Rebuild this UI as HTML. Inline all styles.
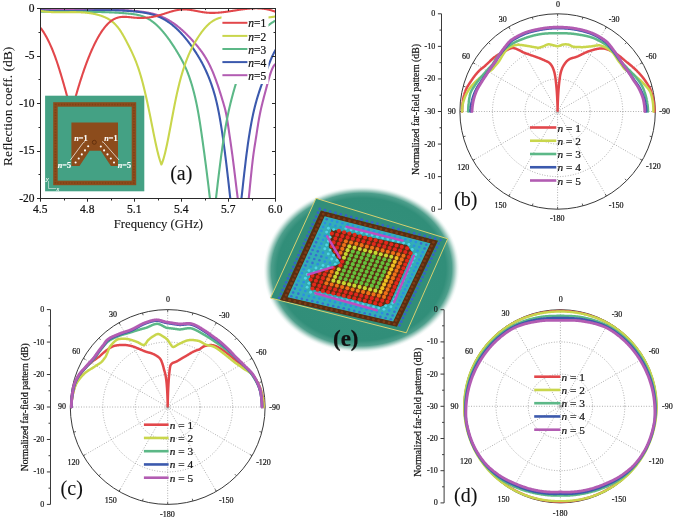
<!DOCTYPE html>
<html><head><meta charset="utf-8"><title>Figure</title>
<style>html,body{margin:0;padding:0;background:#fff;}svg{display:block;}svg text{stroke:#151515;stroke-width:0.22px;}svg .w text{stroke:#fff;stroke-width:0.15px;}svg text.nb{stroke-width:0.08px;}</style>
</head><body>
<svg width="675" height="518" viewBox="0 0 675 518">
<rect width="675" height="518" fill="#fff"/>
<defs><radialGradient id="eg" cx="0.5" cy="0.5" r="0.5"><stop offset="0" stop-color="#34917c"/><stop offset="0.86" stop-color="#318e79"/><stop offset="0.92" stop-color="#3a947f" stop-opacity="0.9"/><stop offset="0.955" stop-color="#5aa592" stop-opacity="0.5"/><stop offset="0.985" stop-color="#8fc4b6" stop-opacity="0.12"/><stop offset="1" stop-color="#8fc4b6" stop-opacity="0"/></radialGradient></defs>
<ellipse cx="361.5" cy="269.5" rx="98.1" ry="83" transform="rotate(-2.3 361.5 269.5)" fill="url(#eg)"/>
<polygon points="316,198.3 447.7,238.8 406.3,332.8 270.5,298" fill="#318e79" stroke="#d8d070" stroke-width="1"/>
<path d="M324.26,215.59 L431.26,243.05 L393.58,322.08 L286.72,297.55 Z" fill="#34aeb8"/>
<path d="M320.92,210.59 L438,240.78 L396.9,326.8 L280,300.1 Z M324.68,216.22 L287.56,297.23 L393.16,321.48 L430.42,243.34 Z" fill="#5a2c10" fill-rule="evenodd"/>
<polygon points="327.3,224.89 323.96,247.81 334.41,261.87 305.13,272.26 306.4,291.3 380.94,310.25 393.75,305.66 417.5,252.61 410.33,242.13 327.3,224.89" fill="#2eaab4"/>
<polygon points="331.34,229.27 407.09,244.92 412.5,252.83 389.92,303.34 380.67,306.66 310.89,288.85 309.92,274.31 340.83,263.38 328.74,247.12" fill="#5a2c12"/>
<circle cx="319.74" cy="208.81" r="1.35" fill="#3462c8"/>
<circle cx="317.97" cy="212.68" r="1.35" fill="#3462c8"/>
<circle cx="316.21" cy="216.55" r="1.35" fill="#3462c8"/>
<circle cx="314.44" cy="220.42" r="1.35" fill="#3462c8"/>
<circle cx="312.67" cy="224.28" r="1.35" fill="#3462c8"/>
<circle cx="310.91" cy="228.15" r="1.35" fill="#3462c8"/>
<circle cx="309.14" cy="232.02" r="1.35" fill="#3462c8"/>
<circle cx="307.37" cy="235.89" r="1.35" fill="#3462c8"/>
<circle cx="305.6" cy="239.75" r="1.35" fill="#3462c8"/>
<circle cx="303.84" cy="243.62" r="1.35" fill="#3462c8"/>
<circle cx="302.07" cy="247.49" r="1.35" fill="#3462c8"/>
<circle cx="300.3" cy="251.35" r="1.35" fill="#3462c8"/>
<circle cx="298.54" cy="255.22" r="1.35" fill="#3462c8"/>
<circle cx="296.77" cy="259.09" r="1.35" fill="#3462c8"/>
<circle cx="295" cy="262.96" r="1.35" fill="#3462c8"/>
<circle cx="293.24" cy="266.82" r="1.35" fill="#3462c8"/>
<circle cx="291.47" cy="270.69" r="1.35" fill="#3462c8"/>
<circle cx="289.7" cy="274.56" r="1.35" fill="#3462c8"/>
<circle cx="287.94" cy="278.43" r="1.35" fill="#3462c8"/>
<circle cx="286.17" cy="282.29" r="1.35" fill="#3462c8"/>
<circle cx="284.4" cy="286.16" r="1.35" fill="#3462c8"/>
<circle cx="282.64" cy="290.03" r="1.35" fill="#3462c8"/>
<circle cx="280.87" cy="293.9" r="1.35" fill="#3462c8"/>
<circle cx="279.1" cy="297.76" r="1.35" fill="#3462c8"/>
<circle cx="324.99" cy="210.17" r="1.35" fill="#3462c8"/>
<circle cx="323.22" cy="214.03" r="1.4" fill="#7a3c16"/>
<circle cx="321.45" cy="217.89" r="1.4" fill="#7a3c16"/>
<circle cx="319.68" cy="221.75" r="1.4" fill="#7a3c16"/>
<circle cx="317.92" cy="225.61" r="1.4" fill="#7a3c16"/>
<circle cx="316.15" cy="229.47" r="1.4" fill="#7a3c16"/>
<circle cx="314.38" cy="233.33" r="1.4" fill="#7a3c16"/>
<circle cx="312.61" cy="237.19" r="1.4" fill="#7a3c16"/>
<circle cx="310.85" cy="241.05" r="1.4" fill="#7a3c16"/>
<circle cx="309.08" cy="244.91" r="1.4" fill="#7a3c16"/>
<circle cx="307.31" cy="248.77" r="1.4" fill="#7a3c16"/>
<circle cx="305.55" cy="252.64" r="1.4" fill="#7a3c16"/>
<circle cx="303.78" cy="256.5" r="1.4" fill="#7a3c16"/>
<circle cx="302.01" cy="260.36" r="1.4" fill="#7a3c16"/>
<circle cx="300.24" cy="264.22" r="1.4" fill="#7a3c16"/>
<circle cx="298.48" cy="268.08" r="1.4" fill="#7a3c16"/>
<circle cx="296.71" cy="271.94" r="1.4" fill="#7a3c16"/>
<circle cx="294.94" cy="275.8" r="1.4" fill="#7a3c16"/>
<circle cx="293.18" cy="279.66" r="1.4" fill="#7a3c16"/>
<circle cx="291.41" cy="283.52" r="1.4" fill="#7a3c16"/>
<circle cx="289.64" cy="287.38" r="1.4" fill="#7a3c16"/>
<circle cx="287.87" cy="291.24" r="1.4" fill="#7a3c16"/>
<circle cx="286.11" cy="295.1" r="1.4" fill="#7a3c16"/>
<circle cx="284.34" cy="298.96" r="1.4" fill="#7a3c16"/>
<circle cx="330.23" cy="211.52" r="1.35" fill="#3462c8"/>
<circle cx="328.46" cy="215.38" r="1.4" fill="#7a3c16"/>
<circle cx="326.7" cy="219.23" r="1.3" fill="#3570d0"/>
<circle cx="324.93" cy="223.08" r="1.35" fill="#2c8ee0"/>
<circle cx="323.16" cy="226.94" r="1.35" fill="#2c8ee0"/>
<circle cx="321.39" cy="230.79" r="1.35" fill="#2c8ee0"/>
<circle cx="319.63" cy="234.65" r="1.35" fill="#2c8ee0"/>
<circle cx="317.86" cy="238.5" r="1.3" fill="#3570d0"/>
<circle cx="316.09" cy="242.35" r="1.3" fill="#3570d0"/>
<circle cx="314.32" cy="246.21" r="1.3" fill="#3570d0"/>
<circle cx="312.56" cy="250.06" r="1.3" fill="#3570d0"/>
<circle cx="310.79" cy="253.92" r="1.3" fill="#3570d0"/>
<circle cx="309.02" cy="257.77" r="1.3" fill="#3570d0"/>
<circle cx="307.25" cy="261.62" r="1.3" fill="#3570d0"/>
<circle cx="305.49" cy="265.48" r="1.3" fill="#3570d0"/>
<circle cx="303.72" cy="269.33" r="1.35" fill="#2c8ee0"/>
<circle cx="301.95" cy="273.19" r="1.35" fill="#2c8ee0"/>
<circle cx="300.18" cy="277.04" r="1.35" fill="#2c8ee0"/>
<circle cx="298.42" cy="280.89" r="1.35" fill="#2c8ee0"/>
<circle cx="296.65" cy="284.75" r="1.3" fill="#3570d0"/>
<circle cx="294.88" cy="288.6" r="1.3" fill="#3570d0"/>
<circle cx="293.11" cy="292.45" r="1.3" fill="#3570d0"/>
<circle cx="291.35" cy="296.31" r="1.3" fill="#3570d0"/>
<circle cx="289.58" cy="300.16" r="1.4" fill="#7a3c16"/>
<circle cx="335.48" cy="212.88" r="1.35" fill="#3462c8"/>
<circle cx="333.71" cy="216.72" r="1.4" fill="#7a3c16"/>
<circle cx="331.94" cy="220.57" r="1.35" fill="#2c8ee0"/>
<circle cx="330.17" cy="224.42" r="1.35" fill="#2c8ee0"/>
<circle cx="328.4" cy="228.27" r="1.45" fill="#50d4e8"/>
<circle cx="326.64" cy="232.11" r="1.45" fill="#50d4e8"/>
<circle cx="324.87" cy="235.96" r="1.35" fill="#2c8ee0"/>
<circle cx="323.1" cy="239.81" r="1.35" fill="#2c8ee0"/>
<circle cx="321.33" cy="243.65" r="1.35" fill="#2c8ee0"/>
<circle cx="319.57" cy="247.5" r="1.35" fill="#2c8ee0"/>
<circle cx="317.8" cy="251.35" r="1.3" fill="#3570d0"/>
<circle cx="316.03" cy="255.2" r="1.3" fill="#3570d0"/>
<circle cx="314.26" cy="259.04" r="1.3" fill="#3570d0"/>
<circle cx="312.49" cy="262.89" r="1.3" fill="#3570d0"/>
<circle cx="310.73" cy="266.74" r="1.35" fill="#2c8ee0"/>
<circle cx="308.96" cy="270.58" r="1.45" fill="#50d4e8"/>
<circle cx="307.19" cy="274.43" r="1.45" fill="#50d4e8"/>
<circle cx="305.42" cy="278.28" r="1.45" fill="#50d4e8"/>
<circle cx="303.65" cy="282.13" r="1.35" fill="#2c8ee0"/>
<circle cx="301.89" cy="285.97" r="1.35" fill="#2c8ee0"/>
<circle cx="300.12" cy="289.82" r="1.35" fill="#2c8ee0"/>
<circle cx="298.35" cy="293.67" r="1.3" fill="#3570d0"/>
<circle cx="296.58" cy="297.51" r="1.3" fill="#3570d0"/>
<circle cx="294.82" cy="301.36" r="1.4" fill="#7a3c16"/>
<circle cx="340.72" cy="214.23" r="1.35" fill="#3462c8"/>
<circle cx="338.95" cy="218.07" r="1.4" fill="#7a3c16"/>
<circle cx="337.19" cy="221.91" r="1.35" fill="#2c8ee0"/>
<circle cx="335.42" cy="225.75" r="1.35" fill="#2c8ee0"/>
<circle cx="333.65" cy="229.59" r="1.45" fill="#50d4e8"/>
<circle cx="331.88" cy="233.43" r="2.05" fill="#e2281c"/>
<circle cx="330.11" cy="237.27" r="1.45" fill="#50d4e8"/>
<circle cx="328.34" cy="241.12" r="1.45" fill="#50d4e8"/>
<circle cx="326.58" cy="244.96" r="1.45" fill="#50d4e8"/>
<circle cx="324.81" cy="248.8" r="1.45" fill="#50d4e8"/>
<circle cx="323.04" cy="252.64" r="1.35" fill="#2c8ee0"/>
<circle cx="321.27" cy="256.48" r="1.3" fill="#3570d0"/>
<circle cx="319.5" cy="260.32" r="1.3" fill="#3570d0"/>
<circle cx="317.74" cy="264.16" r="1.35" fill="#2c8ee0"/>
<circle cx="315.97" cy="268" r="1.45" fill="#50d4e8"/>
<circle cx="314.2" cy="271.84" r="1.45" fill="#50d4e8"/>
<circle cx="312.43" cy="275.68" r="2.05" fill="#e2281c"/>
<circle cx="310.66" cy="279.52" r="2.05" fill="#e2281c"/>
<circle cx="308.89" cy="283.36" r="1.45" fill="#50d4e8"/>
<circle cx="307.13" cy="287.2" r="1.45" fill="#50d4e8"/>
<circle cx="305.36" cy="291.04" r="1.35" fill="#2c8ee0"/>
<circle cx="303.59" cy="294.88" r="1.35" fill="#2c8ee0"/>
<circle cx="301.82" cy="298.72" r="1.3" fill="#3570d0"/>
<circle cx="300.05" cy="302.56" r="1.4" fill="#7a3c16"/>
<circle cx="345.97" cy="215.59" r="1.35" fill="#3462c8"/>
<circle cx="344.2" cy="219.42" r="1.4" fill="#7a3c16"/>
<circle cx="342.43" cy="223.25" r="1.35" fill="#2c8ee0"/>
<circle cx="340.66" cy="227.09" r="1.35" fill="#2c8ee0"/>
<circle cx="338.89" cy="230.92" r="2.05" fill="#e2281c"/>
<circle cx="337.12" cy="234.76" r="2.05" fill="#e2281c"/>
<circle cx="335.36" cy="238.59" r="2.05" fill="#e2281c"/>
<circle cx="333.59" cy="242.42" r="2.05" fill="#e2281c"/>
<circle cx="331.82" cy="246.26" r="2.05" fill="#e2281c"/>
<circle cx="330.05" cy="250.09" r="1.45" fill="#50d4e8"/>
<circle cx="328.28" cy="253.92" r="1.45" fill="#50d4e8"/>
<circle cx="326.51" cy="257.76" r="1.35" fill="#2c8ee0"/>
<circle cx="324.74" cy="261.59" r="1.35" fill="#2c8ee0"/>
<circle cx="322.98" cy="265.42" r="1.45" fill="#50d4e8"/>
<circle cx="321.21" cy="269.26" r="1.45" fill="#50d4e8"/>
<circle cx="319.44" cy="273.09" r="2.05" fill="#e2281c"/>
<circle cx="317.67" cy="276.93" r="2.05" fill="#e2281c"/>
<circle cx="315.9" cy="280.76" r="2.05" fill="#e2281c"/>
<circle cx="314.13" cy="284.59" r="2.05" fill="#e2281c"/>
<circle cx="312.36" cy="288.43" r="2.05" fill="#e2281c"/>
<circle cx="310.6" cy="292.26" r="1.45" fill="#50d4e8"/>
<circle cx="308.83" cy="296.09" r="1.35" fill="#2c8ee0"/>
<circle cx="307.06" cy="299.93" r="1.3" fill="#3570d0"/>
<circle cx="305.29" cy="303.76" r="1.4" fill="#7a3c16"/>
<circle cx="351.21" cy="216.94" r="1.35" fill="#3462c8"/>
<circle cx="349.44" cy="220.77" r="1.4" fill="#7a3c16"/>
<circle cx="347.68" cy="224.6" r="1.35" fill="#2c8ee0"/>
<circle cx="345.91" cy="228.42" r="1.45" fill="#50d4e8"/>
<circle cx="344.14" cy="232.25" r="2.05" fill="#e2281c"/>
<circle cx="342.37" cy="236.08" r="2.05" fill="#e2281c"/>
<circle cx="340.6" cy="239.9" r="2.05" fill="#e2281c"/>
<circle cx="338.83" cy="243.73" r="2.05" fill="#e2281c"/>
<circle cx="337.06" cy="247.56" r="2.05" fill="#e2281c"/>
<circle cx="335.29" cy="251.38" r="2.05" fill="#e2281c"/>
<circle cx="333.52" cy="255.21" r="1.45" fill="#50d4e8"/>
<circle cx="331.76" cy="259.04" r="1.45" fill="#50d4e8"/>
<circle cx="329.99" cy="262.86" r="1.35" fill="#2c8ee0"/>
<circle cx="328.22" cy="266.69" r="1.45" fill="#50d4e8"/>
<circle cx="326.45" cy="270.52" r="2.05" fill="#e2281c"/>
<circle cx="324.68" cy="274.34" r="2.05" fill="#e2281c"/>
<circle cx="322.91" cy="278.17" r="2.05" fill="#e2281c"/>
<circle cx="321.14" cy="282" r="2.05" fill="#e2281c"/>
<circle cx="319.37" cy="285.83" r="2.05" fill="#e2281c"/>
<circle cx="317.6" cy="289.65" r="2.05" fill="#e2281c"/>
<circle cx="315.83" cy="293.48" r="1.45" fill="#50d4e8"/>
<circle cx="314.07" cy="297.31" r="1.35" fill="#2c8ee0"/>
<circle cx="312.3" cy="301.13" r="1.3" fill="#3570d0"/>
<circle cx="310.53" cy="304.96" r="1.4" fill="#7a3c16"/>
<circle cx="356.46" cy="218.3" r="1.35" fill="#3462c8"/>
<circle cx="354.69" cy="222.12" r="1.4" fill="#7a3c16"/>
<circle cx="352.92" cy="225.94" r="1.35" fill="#2c8ee0"/>
<circle cx="351.15" cy="229.76" r="1.45" fill="#50d4e8"/>
<circle cx="349.38" cy="233.58" r="2.05" fill="#e2281c"/>
<circle cx="347.61" cy="237.4" r="2.05" fill="#e2281c"/>
<circle cx="345.84" cy="241.22" r="2.05" fill="#f07018"/>
<circle cx="344.07" cy="245.04" r="2.05" fill="#f07018"/>
<circle cx="342.3" cy="248.86" r="2.05" fill="#f07018"/>
<circle cx="340.54" cy="252.68" r="2.05" fill="#f07018"/>
<circle cx="338.77" cy="256.5" r="2.05" fill="#e2281c"/>
<circle cx="337" cy="260.32" r="1.45" fill="#50d4e8"/>
<circle cx="335.23" cy="264.14" r="1.45" fill="#50d4e8"/>
<circle cx="333.46" cy="267.96" r="2.05" fill="#e2281c"/>
<circle cx="331.69" cy="271.78" r="2.05" fill="#f07018"/>
<circle cx="329.92" cy="275.6" r="2.05" fill="#f07018"/>
<circle cx="328.15" cy="279.42" r="2.05" fill="#f07018"/>
<circle cx="326.38" cy="283.24" r="2.05" fill="#f07018"/>
<circle cx="324.61" cy="287.06" r="2.05" fill="#e2281c"/>
<circle cx="322.84" cy="290.88" r="2.05" fill="#e2281c"/>
<circle cx="321.07" cy="294.7" r="1.45" fill="#50d4e8"/>
<circle cx="319.3" cy="298.52" r="1.35" fill="#2c8ee0"/>
<circle cx="317.54" cy="302.34" r="1.3" fill="#3570d0"/>
<circle cx="315.77" cy="306.16" r="1.4" fill="#7a3c16"/>
<circle cx="361.7" cy="219.65" r="1.35" fill="#3462c8"/>
<circle cx="359.94" cy="223.47" r="1.4" fill="#7a3c16"/>
<circle cx="358.17" cy="227.28" r="1.35" fill="#2c8ee0"/>
<circle cx="356.4" cy="231.09" r="1.45" fill="#50d4e8"/>
<circle cx="354.63" cy="234.91" r="2.05" fill="#e2281c"/>
<circle cx="352.86" cy="238.72" r="2.05" fill="#e2281c"/>
<circle cx="351.09" cy="242.53" r="2.05" fill="#f07018"/>
<circle cx="349.32" cy="246.35" r="2.05" fill="#c8d830"/>
<circle cx="347.55" cy="250.16" r="2.05" fill="#c8d830"/>
<circle cx="345.78" cy="253.97" r="2.05" fill="#c8d830"/>
<circle cx="344.01" cy="257.79" r="2.05" fill="#c8d830"/>
<circle cx="342.24" cy="261.6" r="2.05" fill="#e2281c"/>
<circle cx="340.47" cy="265.41" r="2.05" fill="#e2281c"/>
<circle cx="338.7" cy="269.23" r="2.05" fill="#c8d830"/>
<circle cx="336.93" cy="273.04" r="2.05" fill="#c8d830"/>
<circle cx="335.16" cy="276.85" r="2.05" fill="#c8d830"/>
<circle cx="333.39" cy="280.66" r="2.05" fill="#c8d830"/>
<circle cx="331.62" cy="284.48" r="2.05" fill="#f07018"/>
<circle cx="329.85" cy="288.29" r="2.05" fill="#e2281c"/>
<circle cx="328.08" cy="292.1" r="2.05" fill="#e2281c"/>
<circle cx="326.31" cy="295.92" r="1.45" fill="#50d4e8"/>
<circle cx="324.54" cy="299.73" r="1.35" fill="#2c8ee0"/>
<circle cx="322.77" cy="303.54" r="1.3" fill="#3570d0"/>
<circle cx="321" cy="307.36" r="1.4" fill="#7a3c16"/>
<circle cx="366.95" cy="221.01" r="1.35" fill="#3462c8"/>
<circle cx="365.18" cy="224.81" r="1.4" fill="#7a3c16"/>
<circle cx="363.41" cy="228.62" r="1.35" fill="#2c8ee0"/>
<circle cx="361.64" cy="232.43" r="1.45" fill="#50d4e8"/>
<circle cx="359.87" cy="236.23" r="2.05" fill="#e2281c"/>
<circle cx="358.1" cy="240.04" r="2.05" fill="#e2281c"/>
<circle cx="356.33" cy="243.85" r="2.05" fill="#f07018"/>
<circle cx="354.56" cy="247.65" r="2.05" fill="#c8d830"/>
<circle cx="352.79" cy="251.46" r="2.05" fill="#66c03c"/>
<circle cx="351.02" cy="255.27" r="2.05" fill="#66c03c"/>
<circle cx="349.25" cy="259.07" r="2.05" fill="#66c03c"/>
<circle cx="347.48" cy="262.88" r="2.05" fill="#66c03c"/>
<circle cx="345.71" cy="266.69" r="2.05" fill="#66c03c"/>
<circle cx="343.94" cy="270.49" r="2.05" fill="#66c03c"/>
<circle cx="342.17" cy="274.3" r="2.05" fill="#66c03c"/>
<circle cx="340.4" cy="278.11" r="2.05" fill="#66c03c"/>
<circle cx="338.63" cy="281.91" r="2.05" fill="#c8d830"/>
<circle cx="336.86" cy="285.72" r="2.05" fill="#f07018"/>
<circle cx="335.09" cy="289.52" r="2.05" fill="#e2281c"/>
<circle cx="333.32" cy="293.33" r="2.05" fill="#e2281c"/>
<circle cx="331.55" cy="297.14" r="1.45" fill="#50d4e8"/>
<circle cx="329.78" cy="300.94" r="1.35" fill="#2c8ee0"/>
<circle cx="328.01" cy="304.75" r="1.3" fill="#3570d0"/>
<circle cx="326.24" cy="308.56" r="1.4" fill="#7a3c16"/>
<circle cx="372.2" cy="222.36" r="1.35" fill="#3462c8"/>
<circle cx="370.43" cy="226.16" r="1.4" fill="#7a3c16"/>
<circle cx="368.66" cy="229.96" r="1.35" fill="#2c8ee0"/>
<circle cx="366.89" cy="233.76" r="1.45" fill="#50d4e8"/>
<circle cx="365.11" cy="237.56" r="2.05" fill="#e2281c"/>
<circle cx="363.34" cy="241.36" r="2.05" fill="#e2281c"/>
<circle cx="361.57" cy="245.16" r="2.05" fill="#f07018"/>
<circle cx="359.8" cy="248.96" r="2.05" fill="#c8d830"/>
<circle cx="358.03" cy="252.76" r="2.05" fill="#66c03c"/>
<circle cx="356.26" cy="256.56" r="2.05" fill="#66c03c"/>
<circle cx="354.49" cy="260.36" r="2.05" fill="#66c03c"/>
<circle cx="352.72" cy="264.16" r="2.05" fill="#66c03c"/>
<circle cx="350.95" cy="267.96" r="2.05" fill="#66c03c"/>
<circle cx="349.18" cy="271.76" r="2.05" fill="#66c03c"/>
<circle cx="347.41" cy="275.56" r="2.05" fill="#66c03c"/>
<circle cx="345.64" cy="279.36" r="2.05" fill="#66c03c"/>
<circle cx="343.87" cy="283.16" r="2.05" fill="#c8d830"/>
<circle cx="342.1" cy="286.96" r="2.05" fill="#f07018"/>
<circle cx="340.33" cy="290.76" r="2.05" fill="#e2281c"/>
<circle cx="338.56" cy="294.56" r="2.05" fill="#e2281c"/>
<circle cx="336.79" cy="298.36" r="1.45" fill="#50d4e8"/>
<circle cx="335.02" cy="302.16" r="1.35" fill="#2c8ee0"/>
<circle cx="333.25" cy="305.96" r="1.3" fill="#3570d0"/>
<circle cx="331.48" cy="309.76" r="1.4" fill="#7a3c16"/>
<circle cx="377.44" cy="223.72" r="1.35" fill="#3462c8"/>
<circle cx="375.67" cy="227.51" r="1.4" fill="#7a3c16"/>
<circle cx="373.9" cy="231.3" r="1.35" fill="#2c8ee0"/>
<circle cx="372.13" cy="235.1" r="1.45" fill="#50d4e8"/>
<circle cx="370.36" cy="238.89" r="2.05" fill="#e2281c"/>
<circle cx="368.59" cy="242.68" r="2.05" fill="#e2281c"/>
<circle cx="366.82" cy="246.48" r="2.05" fill="#f07018"/>
<circle cx="365.05" cy="250.27" r="2.05" fill="#c8d830"/>
<circle cx="363.28" cy="254.06" r="2.05" fill="#66c03c"/>
<circle cx="361.51" cy="257.85" r="2.05" fill="#66c03c"/>
<circle cx="359.74" cy="261.65" r="2.05" fill="#66c03c"/>
<circle cx="357.96" cy="265.44" r="2.05" fill="#66c03c"/>
<circle cx="356.19" cy="269.23" r="2.05" fill="#66c03c"/>
<circle cx="354.42" cy="273.03" r="2.05" fill="#66c03c"/>
<circle cx="352.65" cy="276.82" r="2.05" fill="#66c03c"/>
<circle cx="350.88" cy="280.61" r="2.05" fill="#66c03c"/>
<circle cx="349.11" cy="284.4" r="2.05" fill="#c8d830"/>
<circle cx="347.34" cy="288.2" r="2.05" fill="#f07018"/>
<circle cx="345.57" cy="291.99" r="2.05" fill="#e2281c"/>
<circle cx="343.8" cy="295.78" r="2.05" fill="#e2281c"/>
<circle cx="342.03" cy="299.58" r="1.45" fill="#50d4e8"/>
<circle cx="340.26" cy="303.37" r="1.35" fill="#2c8ee0"/>
<circle cx="338.49" cy="307.16" r="1.3" fill="#3570d0"/>
<circle cx="336.72" cy="310.96" r="1.4" fill="#7a3c16"/>
<circle cx="382.69" cy="225.07" r="1.35" fill="#3462c8"/>
<circle cx="380.92" cy="228.86" r="1.4" fill="#7a3c16"/>
<circle cx="379.15" cy="232.64" r="1.35" fill="#2c8ee0"/>
<circle cx="377.37" cy="236.43" r="1.45" fill="#50d4e8"/>
<circle cx="375.6" cy="240.22" r="2.05" fill="#e2281c"/>
<circle cx="373.83" cy="244" r="2.05" fill="#e2281c"/>
<circle cx="372.06" cy="247.79" r="2.05" fill="#f07018"/>
<circle cx="370.29" cy="251.58" r="2.05" fill="#c8d830"/>
<circle cx="368.52" cy="255.36" r="2.05" fill="#66c03c"/>
<circle cx="366.75" cy="259.15" r="2.05" fill="#66c03c"/>
<circle cx="364.98" cy="262.93" r="2.05" fill="#66c03c"/>
<circle cx="363.21" cy="266.72" r="2.05" fill="#66c03c"/>
<circle cx="361.44" cy="270.51" r="2.05" fill="#66c03c"/>
<circle cx="359.66" cy="274.29" r="2.05" fill="#66c03c"/>
<circle cx="357.89" cy="278.08" r="2.05" fill="#66c03c"/>
<circle cx="356.12" cy="281.87" r="2.05" fill="#66c03c"/>
<circle cx="354.35" cy="285.65" r="2.05" fill="#c8d830"/>
<circle cx="352.58" cy="289.44" r="2.05" fill="#f07018"/>
<circle cx="350.81" cy="293.22" r="2.05" fill="#e2281c"/>
<circle cx="349.04" cy="297.01" r="2.05" fill="#e2281c"/>
<circle cx="347.27" cy="300.8" r="1.45" fill="#50d4e8"/>
<circle cx="345.5" cy="304.58" r="1.35" fill="#2c8ee0"/>
<circle cx="343.73" cy="308.37" r="1.3" fill="#3570d0"/>
<circle cx="341.95" cy="312.15" r="1.4" fill="#7a3c16"/>
<circle cx="387.93" cy="226.43" r="1.35" fill="#3462c8"/>
<circle cx="386.16" cy="230.21" r="1.4" fill="#7a3c16"/>
<circle cx="384.39" cy="233.99" r="1.35" fill="#2c8ee0"/>
<circle cx="382.62" cy="237.77" r="1.45" fill="#50d4e8"/>
<circle cx="380.85" cy="241.54" r="2.05" fill="#e2281c"/>
<circle cx="379.08" cy="245.32" r="2.05" fill="#e2281c"/>
<circle cx="377.3" cy="249.1" r="2.05" fill="#f07018"/>
<circle cx="375.53" cy="252.88" r="2.05" fill="#c8d830"/>
<circle cx="373.76" cy="256.66" r="2.05" fill="#66c03c"/>
<circle cx="371.99" cy="260.44" r="2.05" fill="#66c03c"/>
<circle cx="370.22" cy="264.22" r="2.05" fill="#66c03c"/>
<circle cx="368.45" cy="268" r="2.05" fill="#66c03c"/>
<circle cx="366.68" cy="271.78" r="2.05" fill="#66c03c"/>
<circle cx="364.91" cy="275.56" r="2.05" fill="#66c03c"/>
<circle cx="363.13" cy="279.34" r="2.05" fill="#66c03c"/>
<circle cx="361.36" cy="283.12" r="2.05" fill="#66c03c"/>
<circle cx="359.59" cy="286.9" r="2.05" fill="#c8d830"/>
<circle cx="357.82" cy="290.68" r="2.05" fill="#f07018"/>
<circle cx="356.05" cy="294.46" r="2.05" fill="#e2281c"/>
<circle cx="354.28" cy="298.24" r="2.05" fill="#e2281c"/>
<circle cx="352.51" cy="302.02" r="1.45" fill="#50d4e8"/>
<circle cx="350.73" cy="305.8" r="1.35" fill="#2c8ee0"/>
<circle cx="348.96" cy="309.57" r="1.3" fill="#3570d0"/>
<circle cx="347.19" cy="313.35" r="1.4" fill="#7a3c16"/>
<circle cx="393.18" cy="227.78" r="1.35" fill="#3462c8"/>
<circle cx="391.41" cy="231.55" r="1.4" fill="#7a3c16"/>
<circle cx="389.64" cy="235.33" r="1.35" fill="#2c8ee0"/>
<circle cx="387.86" cy="239.1" r="1.45" fill="#50d4e8"/>
<circle cx="386.09" cy="242.87" r="2.05" fill="#e2281c"/>
<circle cx="384.32" cy="246.65" r="2.05" fill="#e2281c"/>
<circle cx="382.55" cy="250.42" r="2.05" fill="#f07018"/>
<circle cx="380.78" cy="254.19" r="2.05" fill="#c8d830"/>
<circle cx="379.01" cy="257.96" r="2.05" fill="#66c03c"/>
<circle cx="377.23" cy="261.74" r="2.05" fill="#66c03c"/>
<circle cx="375.46" cy="265.51" r="2.05" fill="#66c03c"/>
<circle cx="373.69" cy="269.28" r="2.05" fill="#66c03c"/>
<circle cx="371.92" cy="273.05" r="2.05" fill="#66c03c"/>
<circle cx="370.15" cy="276.83" r="2.05" fill="#66c03c"/>
<circle cx="368.37" cy="280.6" r="2.05" fill="#66c03c"/>
<circle cx="366.6" cy="284.37" r="2.05" fill="#66c03c"/>
<circle cx="364.83" cy="288.14" r="2.05" fill="#c8d830"/>
<circle cx="363.06" cy="291.92" r="2.05" fill="#f07018"/>
<circle cx="361.29" cy="295.69" r="2.05" fill="#e2281c"/>
<circle cx="359.52" cy="299.46" r="2.05" fill="#e2281c"/>
<circle cx="357.74" cy="303.24" r="1.45" fill="#50d4e8"/>
<circle cx="355.97" cy="307.01" r="1.35" fill="#2c8ee0"/>
<circle cx="354.2" cy="310.78" r="1.3" fill="#3570d0"/>
<circle cx="352.43" cy="314.55" r="1.4" fill="#7a3c16"/>
<circle cx="398.42" cy="229.14" r="1.35" fill="#3462c8"/>
<circle cx="396.65" cy="232.9" r="1.4" fill="#7a3c16"/>
<circle cx="394.88" cy="236.67" r="1.35" fill="#2c8ee0"/>
<circle cx="393.11" cy="240.43" r="1.45" fill="#50d4e8"/>
<circle cx="391.34" cy="244.2" r="2.05" fill="#e2281c"/>
<circle cx="389.56" cy="247.97" r="2.05" fill="#e2281c"/>
<circle cx="387.79" cy="251.73" r="2.05" fill="#f07018"/>
<circle cx="386.02" cy="255.5" r="2.05" fill="#c8d830"/>
<circle cx="384.25" cy="259.26" r="2.05" fill="#66c03c"/>
<circle cx="382.48" cy="263.03" r="2.05" fill="#66c03c"/>
<circle cx="380.7" cy="266.8" r="2.05" fill="#66c03c"/>
<circle cx="378.93" cy="270.56" r="2.05" fill="#66c03c"/>
<circle cx="377.16" cy="274.33" r="2.05" fill="#66c03c"/>
<circle cx="375.39" cy="278.09" r="2.05" fill="#66c03c"/>
<circle cx="373.62" cy="281.86" r="2.05" fill="#66c03c"/>
<circle cx="371.84" cy="285.63" r="2.05" fill="#66c03c"/>
<circle cx="370.07" cy="289.39" r="2.05" fill="#c8d830"/>
<circle cx="368.3" cy="293.16" r="2.05" fill="#f07018"/>
<circle cx="366.53" cy="296.92" r="2.05" fill="#e2281c"/>
<circle cx="364.76" cy="300.69" r="2.05" fill="#e2281c"/>
<circle cx="362.98" cy="304.45" r="1.45" fill="#50d4e8"/>
<circle cx="361.21" cy="308.22" r="1.35" fill="#2c8ee0"/>
<circle cx="359.44" cy="311.99" r="1.3" fill="#3570d0"/>
<circle cx="357.67" cy="315.75" r="1.4" fill="#7a3c16"/>
<circle cx="403.67" cy="230.49" r="1.35" fill="#3462c8"/>
<circle cx="401.9" cy="234.25" r="1.4" fill="#7a3c16"/>
<circle cx="400.13" cy="238.01" r="1.35" fill="#2c8ee0"/>
<circle cx="398.35" cy="241.77" r="1.45" fill="#50d4e8"/>
<circle cx="396.58" cy="245.53" r="2.05" fill="#e2281c"/>
<circle cx="394.81" cy="249.29" r="2.05" fill="#e2281c"/>
<circle cx="393.04" cy="253.05" r="2.05" fill="#f07018"/>
<circle cx="391.26" cy="256.81" r="2.05" fill="#c8d830"/>
<circle cx="389.49" cy="260.56" r="2.05" fill="#66c03c"/>
<circle cx="387.72" cy="264.32" r="2.05" fill="#66c03c"/>
<circle cx="385.95" cy="268.08" r="2.05" fill="#66c03c"/>
<circle cx="384.17" cy="271.84" r="2.05" fill="#66c03c"/>
<circle cx="382.4" cy="275.6" r="2.05" fill="#66c03c"/>
<circle cx="380.63" cy="279.36" r="2.05" fill="#66c03c"/>
<circle cx="378.86" cy="283.12" r="2.05" fill="#66c03c"/>
<circle cx="377.08" cy="286.88" r="2.05" fill="#66c03c"/>
<circle cx="375.31" cy="290.64" r="2.05" fill="#c8d830"/>
<circle cx="373.54" cy="294.4" r="2.05" fill="#f07018"/>
<circle cx="371.77" cy="298.16" r="2.05" fill="#e2281c"/>
<circle cx="369.99" cy="301.92" r="2.05" fill="#e2281c"/>
<circle cx="368.22" cy="305.67" r="1.45" fill="#50d4e8"/>
<circle cx="366.45" cy="309.43" r="1.35" fill="#2c8ee0"/>
<circle cx="364.68" cy="313.19" r="1.3" fill="#3570d0"/>
<circle cx="362.9" cy="316.95" r="1.4" fill="#7a3c16"/>
<circle cx="408.92" cy="231.85" r="1.35" fill="#3462c8"/>
<circle cx="407.14" cy="235.6" r="1.4" fill="#7a3c16"/>
<circle cx="405.37" cy="239.35" r="1.35" fill="#2c8ee0"/>
<circle cx="403.6" cy="243.1" r="1.45" fill="#50d4e8"/>
<circle cx="401.82" cy="246.86" r="2.05" fill="#e2281c"/>
<circle cx="400.05" cy="250.61" r="2.05" fill="#e2281c"/>
<circle cx="398.28" cy="254.36" r="2.05" fill="#f07018"/>
<circle cx="396.51" cy="258.11" r="2.05" fill="#f0c020"/>
<circle cx="394.73" cy="261.87" r="2.05" fill="#f0c020"/>
<circle cx="392.96" cy="265.62" r="2.05" fill="#f0c020"/>
<circle cx="391.19" cy="269.37" r="2.05" fill="#f0c020"/>
<circle cx="389.42" cy="273.12" r="2.05" fill="#f0c020"/>
<circle cx="387.64" cy="276.88" r="2.05" fill="#f0c020"/>
<circle cx="385.87" cy="280.63" r="2.05" fill="#f0c020"/>
<circle cx="384.1" cy="284.38" r="2.05" fill="#f0c020"/>
<circle cx="382.32" cy="288.13" r="2.05" fill="#f0c020"/>
<circle cx="380.55" cy="291.88" r="2.05" fill="#f0c020"/>
<circle cx="378.78" cy="295.64" r="2.05" fill="#f07018"/>
<circle cx="377.01" cy="299.39" r="2.05" fill="#e2281c"/>
<circle cx="375.23" cy="303.14" r="2.05" fill="#e2281c"/>
<circle cx="373.46" cy="306.89" r="1.45" fill="#50d4e8"/>
<circle cx="371.69" cy="310.65" r="1.35" fill="#2c8ee0"/>
<circle cx="369.92" cy="314.4" r="1.3" fill="#3570d0"/>
<circle cx="368.14" cy="318.15" r="1.4" fill="#7a3c16"/>
<circle cx="414.16" cy="233.2" r="1.35" fill="#3462c8"/>
<circle cx="412.39" cy="236.95" r="1.4" fill="#7a3c16"/>
<circle cx="410.62" cy="240.69" r="1.35" fill="#2c8ee0"/>
<circle cx="408.84" cy="244.44" r="1.45" fill="#50d4e8"/>
<circle cx="407.07" cy="248.18" r="2.05" fill="#e2281c"/>
<circle cx="405.3" cy="251.93" r="2.05" fill="#e2281c"/>
<circle cx="403.52" cy="255.68" r="2.05" fill="#f07018"/>
<circle cx="401.75" cy="259.42" r="2.05" fill="#f07018"/>
<circle cx="399.98" cy="263.17" r="2.05" fill="#f07018"/>
<circle cx="398.2" cy="266.91" r="2.05" fill="#f07018"/>
<circle cx="396.43" cy="270.66" r="2.05" fill="#f07018"/>
<circle cx="394.66" cy="274.4" r="2.05" fill="#f07018"/>
<circle cx="392.88" cy="278.15" r="2.05" fill="#f07018"/>
<circle cx="391.11" cy="281.89" r="2.05" fill="#f07018"/>
<circle cx="389.34" cy="285.64" r="2.05" fill="#f07018"/>
<circle cx="387.57" cy="289.39" r="2.05" fill="#f07018"/>
<circle cx="385.79" cy="293.13" r="2.05" fill="#f07018"/>
<circle cx="384.02" cy="296.88" r="2.05" fill="#f07018"/>
<circle cx="382.25" cy="300.62" r="2.05" fill="#e2281c"/>
<circle cx="380.47" cy="304.37" r="2.05" fill="#e2281c"/>
<circle cx="378.7" cy="308.11" r="1.45" fill="#50d4e8"/>
<circle cx="376.93" cy="311.86" r="1.35" fill="#2c8ee0"/>
<circle cx="375.15" cy="315.6" r="1.3" fill="#3570d0"/>
<circle cx="373.38" cy="319.35" r="1.4" fill="#7a3c16"/>
<circle cx="419.41" cy="234.56" r="1.35" fill="#3462c8"/>
<circle cx="417.63" cy="238.3" r="1.4" fill="#7a3c16"/>
<circle cx="415.86" cy="242.03" r="1.35" fill="#2c8ee0"/>
<circle cx="414.09" cy="245.77" r="1.35" fill="#2c8ee0"/>
<circle cx="412.31" cy="249.51" r="1.45" fill="#50d4e8"/>
<circle cx="410.54" cy="253.25" r="2.05" fill="#e2281c"/>
<circle cx="408.77" cy="256.99" r="2.05" fill="#e2281c"/>
<circle cx="406.99" cy="260.73" r="2.05" fill="#e2281c"/>
<circle cx="405.22" cy="264.47" r="2.05" fill="#e2281c"/>
<circle cx="403.45" cy="268.21" r="2.05" fill="#e2281c"/>
<circle cx="401.67" cy="271.94" r="2.05" fill="#e2281c"/>
<circle cx="399.9" cy="275.68" r="2.05" fill="#e2281c"/>
<circle cx="398.13" cy="279.42" r="2.05" fill="#e2281c"/>
<circle cx="396.35" cy="283.16" r="2.05" fill="#e2281c"/>
<circle cx="394.58" cy="286.9" r="2.05" fill="#e2281c"/>
<circle cx="392.81" cy="290.64" r="2.05" fill="#e2281c"/>
<circle cx="391.03" cy="294.38" r="2.05" fill="#e2281c"/>
<circle cx="389.26" cy="298.12" r="2.05" fill="#e2281c"/>
<circle cx="387.49" cy="301.86" r="2.05" fill="#e2281c"/>
<circle cx="385.71" cy="305.59" r="1.45" fill="#50d4e8"/>
<circle cx="383.94" cy="309.33" r="1.45" fill="#50d4e8"/>
<circle cx="382.16" cy="313.07" r="1.35" fill="#2c8ee0"/>
<circle cx="380.39" cy="316.81" r="1.3" fill="#3570d0"/>
<circle cx="378.62" cy="320.55" r="1.4" fill="#7a3c16"/>
<circle cx="424.65" cy="235.91" r="1.35" fill="#3462c8"/>
<circle cx="422.88" cy="239.64" r="1.4" fill="#7a3c16"/>
<circle cx="421.11" cy="243.38" r="1.3" fill="#3570d0"/>
<circle cx="419.33" cy="247.11" r="1.35" fill="#2c8ee0"/>
<circle cx="417.56" cy="250.84" r="1.35" fill="#2c8ee0"/>
<circle cx="415.78" cy="254.57" r="1.45" fill="#50d4e8"/>
<circle cx="414.01" cy="258.3" r="1.45" fill="#50d4e8"/>
<circle cx="412.24" cy="262.04" r="1.45" fill="#50d4e8"/>
<circle cx="410.46" cy="265.77" r="1.45" fill="#50d4e8"/>
<circle cx="408.69" cy="269.5" r="1.45" fill="#50d4e8"/>
<circle cx="406.91" cy="273.23" r="1.45" fill="#50d4e8"/>
<circle cx="405.14" cy="276.96" r="1.45" fill="#50d4e8"/>
<circle cx="403.37" cy="280.7" r="1.45" fill="#50d4e8"/>
<circle cx="401.59" cy="284.43" r="1.45" fill="#50d4e8"/>
<circle cx="399.82" cy="288.16" r="1.45" fill="#50d4e8"/>
<circle cx="398.05" cy="291.89" r="1.45" fill="#50d4e8"/>
<circle cx="396.27" cy="295.62" r="1.45" fill="#50d4e8"/>
<circle cx="394.5" cy="299.36" r="1.45" fill="#50d4e8"/>
<circle cx="392.72" cy="303.09" r="1.45" fill="#50d4e8"/>
<circle cx="390.95" cy="306.82" r="1.45" fill="#50d4e8"/>
<circle cx="389.18" cy="310.55" r="1.35" fill="#2c8ee0"/>
<circle cx="387.4" cy="314.28" r="1.3" fill="#3570d0"/>
<circle cx="385.63" cy="318.02" r="1.3" fill="#3570d0"/>
<circle cx="383.86" cy="321.75" r="1.4" fill="#7a3c16"/>
<circle cx="429.9" cy="237.27" r="1.35" fill="#3462c8"/>
<circle cx="428.12" cy="240.99" r="1.4" fill="#7a3c16"/>
<circle cx="426.35" cy="244.72" r="1.3" fill="#3570d0"/>
<circle cx="424.58" cy="248.44" r="1.3" fill="#3570d0"/>
<circle cx="422.8" cy="252.17" r="1.35" fill="#2c8ee0"/>
<circle cx="421.03" cy="255.89" r="1.35" fill="#2c8ee0"/>
<circle cx="419.25" cy="259.62" r="1.35" fill="#2c8ee0"/>
<circle cx="417.48" cy="263.34" r="1.35" fill="#2c8ee0"/>
<circle cx="415.71" cy="267.07" r="1.35" fill="#2c8ee0"/>
<circle cx="413.93" cy="270.79" r="1.35" fill="#2c8ee0"/>
<circle cx="412.16" cy="274.52" r="1.35" fill="#2c8ee0"/>
<circle cx="410.38" cy="278.24" r="1.35" fill="#2c8ee0"/>
<circle cx="408.61" cy="281.97" r="1.35" fill="#2c8ee0"/>
<circle cx="406.83" cy="285.7" r="1.35" fill="#2c8ee0"/>
<circle cx="405.06" cy="289.42" r="1.35" fill="#2c8ee0"/>
<circle cx="403.29" cy="293.15" r="1.35" fill="#2c8ee0"/>
<circle cx="401.51" cy="296.87" r="1.35" fill="#2c8ee0"/>
<circle cx="399.74" cy="300.6" r="1.35" fill="#2c8ee0"/>
<circle cx="397.96" cy="304.32" r="1.35" fill="#2c8ee0"/>
<circle cx="396.19" cy="308.05" r="1.35" fill="#2c8ee0"/>
<circle cx="394.42" cy="311.77" r="1.3" fill="#3570d0"/>
<circle cx="392.64" cy="315.5" r="1.3" fill="#3570d0"/>
<circle cx="390.87" cy="319.22" r="1.3" fill="#3570d0"/>
<circle cx="389.09" cy="322.95" r="1.4" fill="#7a3c16"/>
<circle cx="435.14" cy="238.62" r="1.35" fill="#3462c8"/>
<circle cx="433.37" cy="242.34" r="1.4" fill="#7a3c16"/>
<circle cx="431.6" cy="246.06" r="1.4" fill="#7a3c16"/>
<circle cx="429.82" cy="249.78" r="1.4" fill="#7a3c16"/>
<circle cx="428.05" cy="253.5" r="1.4" fill="#7a3c16"/>
<circle cx="426.27" cy="257.21" r="1.4" fill="#7a3c16"/>
<circle cx="424.5" cy="260.93" r="1.4" fill="#7a3c16"/>
<circle cx="422.72" cy="264.65" r="1.4" fill="#7a3c16"/>
<circle cx="420.95" cy="268.37" r="1.4" fill="#7a3c16"/>
<circle cx="419.17" cy="272.09" r="1.4" fill="#7a3c16"/>
<circle cx="417.4" cy="275.81" r="1.4" fill="#7a3c16"/>
<circle cx="415.62" cy="279.53" r="1.4" fill="#7a3c16"/>
<circle cx="413.85" cy="283.24" r="1.4" fill="#7a3c16"/>
<circle cx="412.08" cy="286.96" r="1.4" fill="#7a3c16"/>
<circle cx="410.3" cy="290.68" r="1.4" fill="#7a3c16"/>
<circle cx="408.53" cy="294.4" r="1.4" fill="#7a3c16"/>
<circle cx="406.75" cy="298.12" r="1.4" fill="#7a3c16"/>
<circle cx="404.98" cy="301.84" r="1.4" fill="#7a3c16"/>
<circle cx="403.2" cy="305.55" r="1.4" fill="#7a3c16"/>
<circle cx="401.43" cy="309.27" r="1.4" fill="#7a3c16"/>
<circle cx="399.65" cy="312.99" r="1.4" fill="#7a3c16"/>
<circle cx="397.88" cy="316.71" r="1.4" fill="#7a3c16"/>
<circle cx="396.11" cy="320.43" r="1.4" fill="#7a3c16"/>
<circle cx="394.33" cy="324.15" r="1.4" fill="#7a3c16"/>
<circle cx="440.39" cy="239.98" r="1.35" fill="#3462c8"/>
<circle cx="438.61" cy="243.69" r="1.35" fill="#3462c8"/>
<circle cx="436.84" cy="247.4" r="1.35" fill="#3462c8"/>
<circle cx="435.07" cy="251.11" r="1.35" fill="#3462c8"/>
<circle cx="433.29" cy="254.82" r="1.35" fill="#3462c8"/>
<circle cx="431.52" cy="258.54" r="1.35" fill="#3462c8"/>
<circle cx="429.74" cy="262.25" r="1.35" fill="#3462c8"/>
<circle cx="427.97" cy="265.96" r="1.35" fill="#3462c8"/>
<circle cx="426.19" cy="269.67" r="1.35" fill="#3462c8"/>
<circle cx="424.42" cy="273.38" r="1.35" fill="#3462c8"/>
<circle cx="422.64" cy="277.09" r="1.35" fill="#3462c8"/>
<circle cx="420.87" cy="280.81" r="1.35" fill="#3462c8"/>
<circle cx="419.09" cy="284.52" r="1.35" fill="#3462c8"/>
<circle cx="417.32" cy="288.23" r="1.35" fill="#3462c8"/>
<circle cx="415.54" cy="291.94" r="1.35" fill="#3462c8"/>
<circle cx="413.77" cy="295.65" r="1.35" fill="#3462c8"/>
<circle cx="411.99" cy="299.36" r="1.35" fill="#3462c8"/>
<circle cx="410.22" cy="303.08" r="1.35" fill="#3462c8"/>
<circle cx="408.44" cy="306.79" r="1.35" fill="#3462c8"/>
<circle cx="406.67" cy="310.5" r="1.35" fill="#3462c8"/>
<circle cx="404.89" cy="314.21" r="1.35" fill="#3462c8"/>
<circle cx="403.12" cy="317.92" r="1.35" fill="#3462c8"/>
<circle cx="401.34" cy="321.63" r="1.35" fill="#3462c8"/>
<circle cx="399.57" cy="325.35" r="1.35" fill="#3462c8"/>
<g stroke="#c04cc0" stroke-width="2.4" stroke-linecap="round">
<line x1="346.43" y1="226.73" x2="402.66" y2="240.56"/>
<line x1="413.87" y1="255.88" x2="394.05" y2="302.32"/>
<line x1="315.28" y1="293.23" x2="376.87" y2="310.27"/>
<line x1="327.23" y1="236.36" x2="339.94" y2="257.75"/>
<line x1="308.07" y1="274.69" x2="332.5" y2="267.16"/>
</g>
<text x="333" y="345.5" font-family="'Liberation Serif', 'Times New Roman', serif" font-size="23" font-weight="bold" fill="#111">(e)</text>
<defs><clipPath id="clipA"><rect x="40.9" y="8.5" width="235" height="190"/></clipPath></defs>
<g clip-path="url(#clipA)" fill="none" stroke-width="2.1" stroke-linejoin="round">
<path d="M40.7,9.4 L41.03,9.42 L41.37,9.44 L41.7,9.46 L42.04,9.48 L42.37,9.5 L42.71,9.52 L43.04,9.54 L43.37,9.56 L43.71,9.58 L44.04,9.6 L44.38,9.62 L44.71,9.63 L45.05,9.65 L45.38,9.67 L45.71,9.68 L46.05,9.7 L46.38,9.71 L46.72,9.73 L47.05,9.74 L47.39,9.76 L47.72,9.77 L48.06,9.78 L48.39,9.8 L48.72,9.81 L49.06,9.82 L49.39,9.83 L49.73,9.85 L50.06,9.86 L50.4,9.87 L50.73,9.88 L51.06,9.89 L51.4,9.9 L51.73,9.91 L52.07,9.92 L52.4,9.93 L52.74,9.94 L53.07,9.95 L53.4,9.95 L53.74,9.96 L54.07,9.97 L54.41,9.98 L54.74,9.98 L55.08,9.99 L55.41,10 L55.74,10 L56.08,10.01 L56.41,10.02 L56.75,10.02 L57.08,10.03 L57.42,10.03 L57.75,10.04 L58.08,10.04 L58.42,10.04 L58.75,10.05 L59.09,10.05 L59.42,10.06 L59.76,10.06 L60.09,10.06 L60.43,10.06 L60.76,10.07 L61.09,10.07 L61.43,10.07 L61.76,10.07 L62.1,10.07 L62.43,10.08 L62.77,10.08 L63.1,10.08 L63.43,10.08 L63.77,10.08 L64.1,10.08 L64.44,10.08 L64.77,10.08 L65.11,10.08 L65.44,10.08 L65.77,10.08 L66.11,10.08 L66.44,10.08 L66.78,10.08 L67.11,10.07 L67.45,10.07 L67.78,10.07 L68.11,10.07 L68.45,10.07 L68.78,10.07 L69.12,10.06 L69.45,10.06 L69.79,10.06 L70.12,10.06 L70.45,10.05 L70.79,10.05 L71.12,10.05 L71.46,10.04 L71.79,10.04 L72.13,10.04 L72.46,10.03 L72.8,10.03 L73.13,10.03 L73.46,10.02 L73.8,10.02 L74.13,10.01 L74.47,10.01 L74.8,10.01 L75.14,10 L75.47,10 L75.8,9.99 L76.14,9.99 L76.47,9.98 L76.81,9.98 L77.14,9.97 L77.48,9.97 L77.81,9.96 L78.14,9.96 L78.48,9.95 L78.81,9.95 L79.15,9.94 L79.48,9.94 L79.82,9.93 L80.15,9.93 L80.48,9.92 L80.82,9.92 L81.15,9.91 L81.49,9.91 L81.82,9.9 L82.16,9.89 L82.49,9.89 L82.82,9.88 L83.16,9.88 L83.49,9.87 L83.83,9.87 L84.16,9.86 L84.5,9.86 L84.83,9.85 L85.17,9.84 L85.5,9.84 L85.83,9.83 L86.17,9.83 L86.5,9.82 L86.84,9.82 L87.17,9.81 L87.51,9.81 L87.84,9.8 L88.17,9.8 L88.51,9.79 L88.84,9.79 L89.18,9.78 L89.51,9.77 L89.85,9.77 L90.18,9.76 L90.51,9.76 L90.85,9.75 L91.18,9.75 L91.52,9.74 L91.85,9.74 L92.19,9.74 L92.52,9.73 L92.85,9.73 L93.19,9.72 L93.52,9.72 L93.86,9.71 L94.19,9.71 L94.53,9.71 L94.86,9.7 L95.19,9.7 L95.53,9.69 L95.86,9.69 L96.2,9.69 L96.53,9.68 L96.87,9.68 L97.2,9.68 L97.53,9.67 L97.87,9.67 L98.2,9.67 L98.54,9.67 L98.87,9.66 L99.21,9.66 L99.54,9.66 L99.88,9.66 L100.21,9.65 L100.54,9.65 L100.88,9.65 L101.21,9.65 L101.55,9.65 L101.88,9.65 L102.22,9.65 L102.55,9.65 L102.88,9.65 L103.22,9.65 L103.55,9.65 L103.89,9.65 L104.22,9.65 L104.56,9.65 L104.89,9.65 L105.22,9.65 L105.56,9.65 L105.89,9.65 L106.23,9.65 L106.56,9.65 L106.9,9.65 L107.23,9.66 L107.56,9.66 L107.9,9.66 L108.23,9.66 L108.57,9.67 L108.9,9.67 L109.24,9.67 L109.57,9.68 L109.9,9.68 L110.24,9.69 L110.57,9.69 L110.91,9.7 L111.24,9.7 L111.58,9.71 L111.91,9.71 L112.25,9.72 L112.58,9.72 L112.91,9.73 L113.25,9.74 L113.58,9.74 L113.92,9.75 L114.25,9.76 L114.59,9.77 L114.92,9.77 L115.25,9.78 L115.59,9.79 L115.92,9.8 L116.26,9.81 L116.59,9.82 L116.93,9.83 L117.26,9.84 L117.59,9.85 L117.93,9.86 L118.26,9.87 L118.6,9.88 L118.93,9.9 L119.27,9.91 L119.6,9.92 L119.93,9.93 L120.27,9.95 L120.6,9.96 L120.94,9.97 L121.27,9.99 L121.61,10 L121.94,10.02 L122.27,10.03 L122.61,10.05 L122.94,10.07 L123.28,10.08 L123.61,10.1 L123.95,10.12 L124.28,10.13 L124.62,10.15 L124.95,10.17 L125.28,10.19 L125.62,10.21 L125.95,10.23 L126.29,10.25 L126.62,10.27 L126.96,10.29 L127.29,10.31 L127.62,10.33 L127.96,10.36 L128.29,10.38 L128.63,10.4 L128.96,10.43 L129.3,10.45 L129.63,10.47 L129.96,10.5 L130.3,10.52 L130.63,10.55 L130.97,10.58 L131.3,10.6 L131.64,10.63 L131.97,10.66 L132.3,10.69 L132.64,10.71 L132.97,10.74 L133.31,10.77 L133.64,10.8 L133.98,10.83 L134.31,10.86 L134.64,10.9 L134.98,10.93 L135.31,10.96 L135.65,10.99 L135.98,11.03 L136.32,11.06 L136.65,11.09 L136.99,11.13 L137.32,11.16 L137.65,11.2 L137.99,11.24 L138.32,11.27 L138.66,11.31 L138.99,11.35 L139.33,11.39 L139.66,11.43 L139.99,11.47 L140.33,11.51 L140.66,11.55 L141,11.59 L141.33,11.63 L141.67,11.67 L142,11.72 L142.33,11.76 L142.67,11.81 L143,11.85 L143.34,11.9 L143.67,11.95 L144.01,11.99 L144.34,12.04 L144.67,12.09 L145.01,12.14 L145.34,12.2 L145.68,12.25 L146.01,12.3 L146.35,12.36 L146.68,12.42 L147.01,12.47 L147.35,12.53 L147.68,12.59 L148.02,12.65 L148.35,12.72 L148.69,12.78 L149.02,12.85 L149.36,12.91 L149.69,12.98 L150.02,13.05 L150.36,13.12 L150.69,13.2 L151.03,13.27 L151.36,13.35 L151.7,13.42 L152.03,13.5 L152.36,13.58 L152.7,13.67 L153.03,13.75 L153.37,13.84 L153.7,13.93 L154.04,14.02 L154.37,14.11 L154.7,14.2 L155.04,14.3 L155.37,14.39 L155.71,14.49 L156.04,14.6 L156.38,14.7 L156.71,14.8 L157.04,14.91 L157.38,15.02 L157.71,15.14 L158.05,15.25 L158.38,15.37 L158.72,15.49 L159.05,15.61 L159.38,15.73 L159.72,15.86 L160.05,15.99 L160.39,16.12 L160.72,16.25 L161.06,16.39 L161.39,16.52 L161.73,16.67 L162.06,16.81 L162.39,16.96 L162.73,17.1 L163.06,17.26 L163.4,17.41 L163.73,17.57 L164.07,17.73 L164.4,17.89 L164.73,18.05 L165.07,18.22 L165.4,18.39 L165.74,18.56 L166.07,18.74 L166.41,18.91 L166.74,19.09 L167.07,19.27 L167.41,19.46 L167.74,19.65 L168.08,19.84 L168.41,20.03 L168.75,20.23 L169.08,20.42 L169.41,20.62 L169.75,20.83 L170.08,21.03 L170.42,21.24 L170.75,21.45 L171.09,21.66 L171.42,21.88 L171.75,22.1 L172.09,22.32 L172.42,22.54 L172.76,22.77 L173.09,22.99 L173.43,23.22 L173.76,23.46 L174.1,23.69 L174.43,23.93 L174.76,24.17 L175.1,24.41 L175.43,24.66 L175.77,24.91 L176.1,25.16 L176.44,25.41 L176.77,25.67 L177.1,25.93 L177.44,26.19 L177.77,26.45 L178.11,26.71 L178.44,26.98 L178.78,27.25 L179.11,27.53 L179.44,27.8 L179.78,28.08 L180.11,28.36 L180.45,28.64 L180.78,28.93 L181.12,29.22 L181.45,29.51 L181.78,29.8 L182.12,30.09 L182.45,30.39 L182.79,30.69 L183.12,30.99 L183.46,31.3 L183.79,31.61 L184.12,31.92 L184.46,32.23 L184.79,32.54 L185.13,32.86 L185.46,33.18 L185.8,33.5 L186.13,33.83 L186.47,34.15 L186.8,34.48 L187.13,34.81 L187.47,35.15 L187.8,35.49 L188.14,35.82 L188.47,36.17 L188.81,36.51 L189.14,36.86 L189.47,37.2 L189.81,37.56 L190.14,37.91 L190.48,38.26 L190.81,38.62 L191.15,38.98 L191.48,39.35 L191.81,39.71 L192.15,40.08 L192.48,40.45 L192.82,40.82 L193.15,41.2 L193.49,41.57 L193.82,41.95 L194.15,42.33 L194.49,42.72 L194.82,43.11 L195.16,43.49 L195.49,43.89 L195.83,44.28 L196.16,44.68 L196.49,45.07 L196.83,45.47 L197.16,45.88 L197.5,46.29 L197.83,46.69 L198.17,47.11 L198.5,47.52 L198.83,47.95 L199.17,48.37 L199.5,48.8 L199.84,49.23 L200.17,49.67 L200.51,50.12 L200.84,50.56 L201.18,51.02 L201.51,51.48 L201.84,51.95 L202.18,52.42 L202.51,52.9 L202.85,53.38 L203.18,53.87 L203.52,54.37 L203.85,54.88 L204.18,55.39 L204.52,55.92 L204.85,56.45 L205.19,56.99 L205.52,57.53 L205.86,58.09 L206.19,58.65 L206.52,59.23 L206.86,59.81 L207.19,60.41 L207.53,61.01 L207.86,61.62 L208.2,62.25 L208.53,62.88 L208.86,63.53 L209.2,64.18 L209.53,64.85 L209.87,65.53 L210.2,66.22 L210.54,66.93 L210.87,67.64 L211.2,68.37 L211.54,69.11 L211.87,69.86 L212.21,70.63 L212.54,71.41 L212.88,72.21 L213.21,73.01 L213.55,73.84 L213.88,74.67 L214.21,75.52 L214.55,76.38 L214.88,77.26 L215.22,78.15 L215.55,79.05 L215.89,79.96 L216.22,80.89 L216.55,81.83 L216.89,82.78 L217.22,83.74 L217.56,84.71 L217.89,85.69 L218.23,86.68 L218.56,87.69 L218.89,88.7 L219.23,89.72 L219.56,90.76 L219.9,91.8 L220.23,92.85 L220.57,93.91 L220.9,94.98 L221.23,96.05 L221.57,97.14 L221.9,98.23 L222.24,99.33 L222.57,100.44 L222.91,101.55 L223.24,102.67 L223.57,103.8 L223.91,104.94 L224.24,106.09 L224.58,107.29 L224.91,108.53 L225.25,109.84 L225.58,111.24 L225.92,112.74 L226.25,114.35 L226.58,116.1 L226.92,117.98 L227.25,119.97 L227.59,122.07 L227.92,124.24 L228.26,126.47 L228.59,128.73 L228.92,131.01 L229.26,133.29 L229.59,135.57 L229.93,137.86 L230.26,140.16 L230.6,142.47 L230.93,144.81 L231.26,147.17 L231.6,149.56 L231.93,151.99 L232.27,154.45 L232.6,156.97 L232.94,159.52 L233.27,162.12 L233.6,164.75 L233.94,167.41 L234.27,170.1 L234.61,172.81 L234.94,175.54 L235.28,178.28 L235.61,181.03 L235.94,183.78 L236.28,186.53 L236.61,189.28 L236.95,192.01 L237.28,194.73 L237.62,197.43 L237.95,200.11 L238.29,202.76 L238.62,205.37 L238.95,207.95 L239.29,210.49 L239.62,212.98 L239.96,215.42 L240.29,217.8 L240.63,220.13 L240.96,222.38 L241.29,224.57 L241.63,226.69 L241.96,228.73 L242.3,230.68 L242.63,232.55 L242.97,234.32 L243.3,236 L243.64,235.26 L243.97,234.23 L244.31,232.94 L244.65,231.4 L244.99,229.63 L245.32,227.63 L245.66,225.44 L246,223.05 L246.33,220.49 L246.67,217.78 L247.01,214.93 L247.35,211.94 L247.68,208.85 L248.02,205.67 L248.36,202.41 L248.69,199.08 L249.03,195.7 L249.37,192.3 L249.71,188.87 L250.04,185.45 L250.38,182.04 L250.72,178.66 L251.05,175.33 L251.39,172.05 L251.73,168.86 L252.06,165.75 L252.4,162.76 L252.74,159.88 L253.08,157.15 L253.41,154.57 L253.75,152.14 L254.09,149.84 L254.42,147.64 L254.76,145.5 L255.1,143.4 L255.44,141.3 L255.77,139.19 L256.11,137.03 L256.45,134.84 L256.78,132.63 L257.12,130.41 L257.46,128.21 L257.8,126.04 L258.13,123.93 L258.47,121.88 L258.81,119.91 L259.14,118.02 L259.48,116.21 L259.82,114.48 L260.16,112.81 L260.49,111.2 L260.83,109.64 L261.17,108.14 L261.5,106.69 L261.84,105.27 L262.18,103.89 L262.52,102.55 L262.85,101.23 L263.19,99.92 L263.53,98.64 L263.86,97.36 L264.2,96.09 L264.54,94.82 L264.88,93.55 L265.21,92.27 L265.55,90.99 L265.89,89.7 L266.22,88.42 L266.56,87.14 L266.9,85.87 L267.24,84.61 L267.57,83.36 L267.91,82.13 L268.25,80.92 L268.58,79.72 L268.92,78.55 L269.26,77.41 L269.59,76.29 L269.93,75.2 L270.27,74.15 L270.61,73.14 L270.94,72.16 L271.28,71.23 L271.62,70.34 L271.95,69.49 L272.29,68.7 L272.63,67.96 L272.97,67.27 L273.3,66.64 L273.64,66.07 L273.98,65.57 L274.31,65.13 L274.65,64.75 L274.99,64.45 L275.33,64.23 L275.66,64.07 L276,64" stroke="#b25cb2"/>
<path d="M40.7,10.4 L41.03,10.42 L41.37,10.45 L41.7,10.47 L42.04,10.49 L42.37,10.51 L42.71,10.54 L43.04,10.56 L43.37,10.58 L43.71,10.6 L44.04,10.62 L44.38,10.64 L44.71,10.66 L45.05,10.67 L45.38,10.69 L45.71,10.71 L46.05,10.73 L46.38,10.74 L46.72,10.76 L47.05,10.77 L47.38,10.79 L47.72,10.8 L48.05,10.82 L48.39,10.83 L48.72,10.84 L49.06,10.86 L49.39,10.87 L49.72,10.88 L50.06,10.89 L50.39,10.91 L50.73,10.92 L51.06,10.93 L51.4,10.94 L51.73,10.95 L52.06,10.96 L52.4,10.97 L52.73,10.97 L53.07,10.98 L53.4,10.99 L53.74,11 L54.07,11.01 L54.4,11.01 L54.74,11.02 L55.07,11.03 L55.41,11.03 L55.74,11.04 L56.08,11.04 L56.41,11.05 L56.74,11.05 L57.08,11.06 L57.41,11.06 L57.75,11.06 L58.08,11.07 L58.42,11.07 L58.75,11.07 L59.08,11.07 L59.42,11.08 L59.75,11.08 L60.09,11.08 L60.42,11.08 L60.75,11.08 L61.09,11.08 L61.42,11.08 L61.76,11.08 L62.09,11.08 L62.43,11.08 L62.76,11.08 L63.09,11.08 L63.43,11.08 L63.76,11.08 L64.1,11.08 L64.43,11.07 L64.77,11.07 L65.1,11.07 L65.43,11.07 L65.77,11.06 L66.1,11.06 L66.44,11.06 L66.77,11.05 L67.11,11.05 L67.44,11.05 L67.77,11.04 L68.11,11.04 L68.44,11.03 L68.78,11.03 L69.11,11.02 L69.45,11.02 L69.78,11.01 L70.11,11.01 L70.45,11 L70.78,11 L71.12,10.99 L71.45,10.98 L71.78,10.98 L72.12,10.97 L72.45,10.97 L72.79,10.96 L73.12,10.95 L73.46,10.95 L73.79,10.94 L74.12,10.93 L74.46,10.92 L74.79,10.92 L75.13,10.91 L75.46,10.9 L75.8,10.89 L76.13,10.89 L76.46,10.88 L76.8,10.87 L77.13,10.86 L77.47,10.85 L77.8,10.85 L78.14,10.84 L78.47,10.83 L78.8,10.82 L79.14,10.81 L79.47,10.8 L79.81,10.79 L80.14,10.79 L80.48,10.78 L80.81,10.77 L81.14,10.76 L81.48,10.75 L81.81,10.74 L82.15,10.73 L82.48,10.72 L82.82,10.71 L83.15,10.71 L83.48,10.7 L83.82,10.69 L84.15,10.68 L84.49,10.67 L84.82,10.66 L85.15,10.65 L85.49,10.64 L85.82,10.63 L86.16,10.62 L86.49,10.61 L86.83,10.61 L87.16,10.6 L87.49,10.59 L87.83,10.58 L88.16,10.57 L88.5,10.56 L88.83,10.55 L89.17,10.54 L89.5,10.53 L89.83,10.53 L90.17,10.52 L90.5,10.51 L90.84,10.5 L91.17,10.49 L91.51,10.48 L91.84,10.48 L92.17,10.47 L92.51,10.46 L92.84,10.45 L93.18,10.44 L93.51,10.44 L93.85,10.43 L94.18,10.42 L94.51,10.41 L94.85,10.41 L95.18,10.4 L95.52,10.39 L95.85,10.38 L96.18,10.38 L96.52,10.37 L96.85,10.36 L97.19,10.36 L97.52,10.35 L97.86,10.35 L98.19,10.34 L98.52,10.33 L98.86,10.33 L99.19,10.32 L99.53,10.32 L99.86,10.31 L100.2,10.31 L100.53,10.3 L100.86,10.3 L101.2,10.29 L101.53,10.29 L101.87,10.29 L102.2,10.28 L102.54,10.28 L102.87,10.27 L103.2,10.27 L103.54,10.27 L103.87,10.27 L104.21,10.26 L104.54,10.26 L104.88,10.26 L105.21,10.26 L105.54,10.25 L105.88,10.25 L106.21,10.25 L106.55,10.25 L106.88,10.25 L107.22,10.25 L107.55,10.25 L107.88,10.25 L108.22,10.25 L108.55,10.25 L108.89,10.25 L109.22,10.25 L109.55,10.26 L109.89,10.26 L110.22,10.26 L110.56,10.26 L110.89,10.26 L111.23,10.27 L111.56,10.27 L111.89,10.27 L112.23,10.28 L112.56,10.28 L112.9,10.29 L113.23,10.29 L113.57,10.3 L113.9,10.3 L114.23,10.31 L114.57,10.32 L114.9,10.32 L115.24,10.33 L115.57,10.34 L115.91,10.34 L116.24,10.35 L116.57,10.36 L116.91,10.37 L117.24,10.38 L117.58,10.39 L117.91,10.4 L118.25,10.41 L118.58,10.42 L118.91,10.43 L119.25,10.44 L119.58,10.45 L119.92,10.47 L120.25,10.48 L120.58,10.49 L120.92,10.51 L121.25,10.52 L121.59,10.53 L121.92,10.55 L122.26,10.56 L122.59,10.58 L122.92,10.6 L123.26,10.61 L123.59,10.63 L123.93,10.65 L124.26,10.67 L124.6,10.68 L124.93,10.7 L125.26,10.72 L125.6,10.74 L125.93,10.76 L126.27,10.78 L126.6,10.8 L126.94,10.83 L127.27,10.85 L127.6,10.87 L127.94,10.89 L128.27,10.92 L128.61,10.94 L128.94,10.97 L129.28,10.99 L129.61,11.02 L129.94,11.04 L130.28,11.07 L130.61,11.1 L130.95,11.13 L131.28,11.15 L131.62,11.18 L131.95,11.21 L132.28,11.24 L132.62,11.27 L132.95,11.3 L133.29,11.34 L133.62,11.37 L133.95,11.4 L134.29,11.44 L134.62,11.47 L134.96,11.5 L135.29,11.54 L135.63,11.57 L135.96,11.61 L136.29,11.65 L136.63,11.69 L136.96,11.72 L137.3,11.76 L137.63,11.8 L137.97,11.84 L138.3,11.88 L138.63,11.92 L138.97,11.97 L139.3,12.01 L139.64,12.05 L139.97,12.09 L140.31,12.14 L140.64,12.18 L140.97,12.23 L141.31,12.28 L141.64,12.32 L141.98,12.37 L142.31,12.42 L142.65,12.47 L142.98,12.52 L143.31,12.57 L143.65,12.63 L143.98,12.68 L144.32,12.74 L144.65,12.79 L144.98,12.85 L145.32,12.91 L145.65,12.97 L145.99,13.03 L146.32,13.09 L146.66,13.15 L146.99,13.22 L147.32,13.29 L147.66,13.35 L147.99,13.42 L148.33,13.5 L148.66,13.57 L149,13.64 L149.33,13.72 L149.66,13.8 L150,13.88 L150.33,13.96 L150.67,14.04 L151,14.13 L151.34,14.21 L151.67,14.3 L152,14.39 L152.34,14.49 L152.67,14.58 L153.01,14.68 L153.34,14.78 L153.68,14.88 L154.01,14.98 L154.34,15.09 L154.68,15.2 L155.01,15.31 L155.35,15.42 L155.68,15.54 L156.02,15.65 L156.35,15.77 L156.68,15.9 L157.02,16.02 L157.35,16.15 L157.69,16.28 L158.02,16.41 L158.35,16.55 L158.69,16.69 L159.02,16.83 L159.36,16.98 L159.69,17.12 L160.03,17.27 L160.36,17.43 L160.69,17.58 L161.03,17.74 L161.36,17.9 L161.7,18.07 L162.03,18.24 L162.37,18.41 L162.7,18.58 L163.03,18.76 L163.37,18.94 L163.7,19.13 L164.04,19.31 L164.37,19.5 L164.71,19.7 L165.04,19.89 L165.37,20.09 L165.71,20.3 L166.04,20.5 L166.38,20.71 L166.71,20.93 L167.05,21.14 L167.38,21.36 L167.71,21.58 L168.05,21.81 L168.38,22.04 L168.72,22.27 L169.05,22.51 L169.38,22.75 L169.72,22.99 L170.05,23.23 L170.39,23.48 L170.72,23.73 L171.06,23.99 L171.39,24.25 L171.72,24.51 L172.06,24.77 L172.39,25.04 L172.73,25.31 L173.06,25.59 L173.4,25.87 L173.73,26.15 L174.06,26.43 L174.4,26.72 L174.73,27.01 L175.07,27.31 L175.4,27.61 L175.74,27.91 L176.07,28.21 L176.4,28.52 L176.74,28.83 L177.07,29.15 L177.41,29.47 L177.74,29.79 L178.08,30.12 L178.41,30.45 L178.74,30.78 L179.08,31.11 L179.41,31.45 L179.75,31.8 L180.08,32.14 L180.42,32.49 L180.75,32.84 L181.08,33.2 L181.42,33.56 L181.75,33.92 L182.09,34.29 L182.42,34.66 L182.75,35.04 L183.09,35.41 L183.42,35.79 L183.76,36.18 L184.09,36.57 L184.43,36.96 L184.76,37.35 L185.09,37.75 L185.43,38.15 L185.76,38.56 L186.1,38.97 L186.43,39.38 L186.77,39.8 L187.1,40.22 L187.43,40.64 L187.77,41.07 L188.1,41.5 L188.44,41.93 L188.77,42.37 L189.11,42.81 L189.44,43.26 L189.77,43.7 L190.11,44.16 L190.44,44.61 L190.78,45.07 L191.11,45.53 L191.45,46 L191.78,46.47 L192.11,46.95 L192.45,47.42 L192.78,47.9 L193.12,48.39 L193.45,48.88 L193.78,49.37 L194.12,49.87 L194.45,50.37 L194.79,50.87 L195.12,51.38 L195.46,51.89 L195.79,52.4 L196.12,52.92 L196.46,53.44 L196.79,53.97 L197.13,54.5 L197.46,55.03 L197.8,55.57 L198.13,56.12 L198.46,56.67 L198.8,57.22 L199.13,57.78 L199.47,58.34 L199.8,58.92 L200.14,59.49 L200.47,60.08 L200.8,60.67 L201.14,61.27 L201.47,61.87 L201.81,62.49 L202.14,63.11 L202.48,63.73 L202.81,64.37 L203.14,65.02 L203.48,65.67 L203.81,66.33 L204.15,67.01 L204.48,67.69 L204.82,68.38 L205.15,69.08 L205.48,69.79 L205.82,70.51 L206.15,71.24 L206.49,71.99 L206.82,72.74 L207.15,73.51 L207.49,74.28 L207.82,75.07 L208.16,75.87 L208.49,76.69 L208.83,77.51 L209.16,78.35 L209.49,79.2 L209.83,80.07 L210.16,80.95 L210.5,81.84 L210.83,82.75 L211.17,83.67 L211.5,84.61 L211.83,85.57 L212.17,86.56 L212.5,87.56 L212.84,88.59 L213.17,89.64 L213.51,90.72 L213.84,91.83 L214.17,92.96 L214.51,94.13 L214.84,95.33 L215.18,96.57 L215.51,97.84 L215.85,99.15 L216.18,100.49 L216.51,101.88 L216.85,103.31 L217.18,104.78 L217.52,106.3 L217.85,107.86 L218.18,109.47 L218.52,111.13 L218.85,112.84 L219.19,114.6 L219.52,116.42 L219.86,118.29 L220.19,120.21 L220.52,122.18 L220.86,124.21 L221.19,126.28 L221.53,128.41 L221.86,130.58 L222.2,132.8 L222.53,135.07 L222.86,137.38 L223.2,139.74 L223.53,142.14 L223.87,144.59 L224.2,147.08 L224.54,149.61 L224.87,152.18 L225.2,154.79 L225.54,157.44 L225.87,160.13 L226.21,162.86 L226.54,165.62 L226.88,168.42 L227.21,171.26 L227.54,174.13 L227.88,177.03 L228.21,179.97 L228.55,182.93 L228.88,185.91 L229.22,188.9 L229.55,191.9 L229.88,194.88 L230.22,197.86 L230.55,200.8 L230.89,203.72 L231.22,206.6 L231.55,209.43 L231.89,212.2 L232.22,214.91 L232.56,217.54 L232.89,220.09 L233.23,222.56 L233.56,224.92 L233.89,227.18 L234.23,229.32 L234.56,231.34 L234.9,233.22 L235.23,234.97 L235.57,236.56 L235.9,238 L236.24,236.38 L236.57,234.62 L236.91,232.74 L237.25,230.74 L237.58,228.62 L237.92,226.39 L238.26,224.07 L238.6,221.65 L238.93,219.14 L239.27,216.55 L239.61,213.89 L239.94,211.17 L240.28,208.38 L240.62,205.54 L240.95,202.65 L241.29,199.73 L241.63,196.77 L241.97,193.79 L242.3,190.78 L242.64,187.77 L242.98,184.75 L243.31,181.73 L243.65,178.72 L243.99,175.72 L244.32,172.74 L244.66,169.8 L245,166.89 L245.34,164.02 L245.67,161.19 L246.01,158.43 L246.35,155.73 L246.68,153.09 L247.02,150.52 L247.36,148.02 L247.69,145.58 L248.03,143.2 L248.37,140.89 L248.71,138.63 L249.04,136.44 L249.38,134.3 L249.72,132.22 L250.05,130.2 L250.39,128.23 L250.73,126.31 L251.06,124.45 L251.4,122.64 L251.74,120.88 L252.07,119.16 L252.41,117.49 L252.75,115.87 L253.09,114.3 L253.42,112.76 L253.76,111.27 L254.1,109.83 L254.43,108.42 L254.77,107.04 L255.11,105.71 L255.44,104.41 L255.78,103.14 L256.12,101.91 L256.46,100.7 L256.79,99.53 L257.13,98.37 L257.47,97.25 L257.8,96.14 L258.14,95.06 L258.48,94 L258.81,92.95 L259.15,91.92 L259.49,90.9 L259.83,89.9 L260.16,88.91 L260.5,87.92 L260.84,86.95 L261.17,85.97 L261.51,85.01 L261.85,84.04 L262.18,83.08 L262.52,82.11 L262.86,81.15 L263.19,80.18 L263.53,79.22 L263.87,78.26 L264.21,77.3 L264.54,76.34 L264.88,75.39 L265.22,74.44 L265.55,73.49 L265.89,72.55 L266.23,71.61 L266.56,70.68 L266.9,69.76 L267.24,68.84 L267.58,67.93 L267.91,67.03 L268.25,66.13 L268.59,65.25 L268.92,64.37 L269.26,63.51 L269.6,62.66 L269.93,61.81 L270.27,60.98 L270.61,60.17 L270.95,59.36 L271.28,58.57 L271.62,57.79 L271.96,57.03 L272.29,56.28 L272.63,55.55 L272.97,54.83 L273.3,54.13 L273.64,53.45 L273.98,52.78 L274.32,52.14 L274.65,51.51 L274.99,50.9 L275.33,50.31 L275.66,49.75 L276,49.2" stroke="#3b59ad"/>
<path d="M40.7,11.6 L41.03,11.61 L41.37,11.62 L41.7,11.63 L42.04,11.64 L42.37,11.65 L42.71,11.66 L43.04,11.67 L43.38,11.67 L43.71,11.68 L44.05,11.69 L44.38,11.7 L44.71,11.71 L45.05,11.71 L45.38,11.72 L45.72,11.73 L46.05,11.73 L46.39,11.74 L46.72,11.75 L47.06,11.75 L47.39,11.76 L47.73,11.77 L48.06,11.77 L48.39,11.78 L48.73,11.78 L49.06,11.79 L49.4,11.79 L49.73,11.8 L50.07,11.8 L50.4,11.81 L50.74,11.81 L51.07,11.82 L51.41,11.82 L51.74,11.82 L52.08,11.83 L52.41,11.83 L52.74,11.84 L53.08,11.84 L53.41,11.84 L53.75,11.85 L54.08,11.85 L54.42,11.85 L54.75,11.85 L55.09,11.86 L55.42,11.86 L55.76,11.86 L56.09,11.86 L56.42,11.87 L56.76,11.87 L57.09,11.87 L57.43,11.87 L57.76,11.87 L58.1,11.88 L58.43,11.88 L58.77,11.88 L59.1,11.88 L59.44,11.88 L59.77,11.88 L60.1,11.88 L60.44,11.89 L60.77,11.89 L61.11,11.89 L61.44,11.89 L61.78,11.89 L62.11,11.89 L62.45,11.89 L62.78,11.89 L63.12,11.89 L63.45,11.89 L63.78,11.89 L64.12,11.89 L64.45,11.89 L64.79,11.89 L65.12,11.89 L65.46,11.89 L65.79,11.89 L66.13,11.89 L66.46,11.89 L66.8,11.89 L67.13,11.89 L67.47,11.89 L67.8,11.89 L68.13,11.89 L68.47,11.89 L68.8,11.89 L69.14,11.89 L69.47,11.89 L69.81,11.89 L70.14,11.89 L70.48,11.89 L70.81,11.89 L71.15,11.88 L71.48,11.88 L71.81,11.88 L72.15,11.88 L72.48,11.88 L72.82,11.88 L73.15,11.88 L73.49,11.88 L73.82,11.88 L74.16,11.88 L74.49,11.88 L74.83,11.88 L75.16,11.88 L75.49,11.88 L75.83,11.88 L76.16,11.88 L76.5,11.88 L76.83,11.88 L77.17,11.87 L77.5,11.87 L77.84,11.87 L78.17,11.87 L78.51,11.87 L78.84,11.87 L79.17,11.87 L79.51,11.87 L79.84,11.87 L80.18,11.87 L80.51,11.87 L80.85,11.87 L81.18,11.87 L81.52,11.87 L81.85,11.87 L82.19,11.87 L82.52,11.87 L82.85,11.87 L83.19,11.88 L83.52,11.88 L83.86,11.88 L84.19,11.88 L84.53,11.88 L84.86,11.88 L85.2,11.88 L85.53,11.88 L85.87,11.88 L86.2,11.88 L86.54,11.88 L86.87,11.89 L87.2,11.89 L87.54,11.89 L87.87,11.89 L88.21,11.89 L88.54,11.89 L88.88,11.9 L89.21,11.9 L89.55,11.9 L89.88,11.9 L90.22,11.91 L90.55,11.91 L90.88,11.91 L91.22,11.92 L91.55,11.92 L91.89,11.92 L92.22,11.92 L92.56,11.93 L92.89,11.93 L93.23,11.94 L93.56,11.94 L93.9,11.94 L94.23,11.95 L94.56,11.95 L94.9,11.96 L95.23,11.96 L95.57,11.97 L95.9,11.97 L96.24,11.98 L96.57,11.98 L96.91,11.99 L97.24,11.99 L97.58,12 L97.91,12 L98.24,12.01 L98.58,12.02 L98.91,12.02 L99.25,12.03 L99.58,12.04 L99.92,12.04 L100.25,12.05 L100.59,12.06 L100.92,12.07 L101.26,12.07 L101.59,12.08 L101.93,12.09 L102.26,12.1 L102.59,12.11 L102.93,12.12 L103.26,12.13 L103.6,12.13 L103.93,12.14 L104.27,12.15 L104.6,12.16 L104.94,12.17 L105.27,12.18 L105.61,12.2 L105.94,12.21 L106.27,12.22 L106.61,12.23 L106.94,12.24 L107.28,12.25 L107.61,12.26 L107.95,12.28 L108.28,12.29 L108.62,12.3 L108.95,12.31 L109.29,12.33 L109.62,12.34 L109.95,12.36 L110.29,12.37 L110.62,12.38 L110.96,12.4 L111.29,12.41 L111.63,12.43 L111.96,12.44 L112.3,12.46 L112.63,12.48 L112.97,12.49 L113.3,12.51 L113.63,12.53 L113.97,12.54 L114.3,12.56 L114.64,12.58 L114.97,12.6 L115.31,12.61 L115.64,12.63 L115.98,12.65 L116.31,12.67 L116.65,12.69 L116.98,12.71 L117.31,12.73 L117.65,12.75 L117.98,12.77 L118.32,12.79 L118.65,12.81 L118.99,12.84 L119.32,12.86 L119.66,12.88 L119.99,12.9 L120.33,12.93 L120.66,12.95 L121,12.97 L121.33,13 L121.66,13.02 L122,13.05 L122.33,13.07 L122.67,13.1 L123,13.12 L123.34,13.15 L123.67,13.17 L124.01,13.2 L124.34,13.23 L124.68,13.26 L125.01,13.28 L125.34,13.31 L125.68,13.34 L126.01,13.37 L126.35,13.4 L126.68,13.43 L127.02,13.46 L127.35,13.49 L127.69,13.52 L128.02,13.55 L128.36,13.58 L128.69,13.62 L129.02,13.65 L129.36,13.68 L129.69,13.72 L130.03,13.75 L130.36,13.79 L130.7,13.82 L131.03,13.86 L131.37,13.9 L131.7,13.94 L132.04,13.98 L132.37,14.02 L132.7,14.06 L133.04,14.11 L133.37,14.15 L133.71,14.2 L134.04,14.25 L134.38,14.3 L134.71,14.36 L135.05,14.41 L135.38,14.47 L135.72,14.52 L136.05,14.59 L136.39,14.65 L136.72,14.71 L137.05,14.78 L137.39,14.85 L137.72,14.92 L138.06,15 L138.39,15.07 L138.73,15.15 L139.06,15.23 L139.4,15.32 L139.73,15.41 L140.07,15.5 L140.4,15.59 L140.73,15.69 L141.07,15.79 L141.4,15.89 L141.74,16 L142.07,16.11 L142.41,16.22 L142.74,16.34 L143.08,16.46 L143.41,16.58 L143.75,16.71 L144.08,16.84 L144.41,16.97 L144.75,17.11 L145.08,17.25 L145.42,17.4 L145.75,17.55 L146.09,17.71 L146.42,17.87 L146.76,18.03 L147.09,18.2 L147.43,18.37 L147.76,18.55 L148.09,18.73 L148.43,18.92 L148.76,19.11 L149.1,19.3 L149.43,19.51 L149.77,19.71 L150.1,19.92 L150.44,20.14 L150.77,20.36 L151.11,20.59 L151.44,20.82 L151.77,21.06 L152.11,21.3 L152.44,21.54 L152.78,21.79 L153.11,22.05 L153.45,22.31 L153.78,22.58 L154.12,22.85 L154.45,23.12 L154.79,23.41 L155.12,23.69 L155.46,23.98 L155.79,24.28 L156.12,24.58 L156.46,24.88 L156.79,25.19 L157.13,25.5 L157.46,25.82 L157.8,26.14 L158.13,26.47 L158.47,26.8 L158.8,27.14 L159.14,27.48 L159.47,27.83 L159.8,28.18 L160.14,28.53 L160.47,28.89 L160.81,29.25 L161.14,29.62 L161.48,29.99 L161.81,30.37 L162.15,30.75 L162.48,31.14 L162.82,31.52 L163.15,31.92 L163.48,32.32 L163.82,32.72 L164.15,33.12 L164.49,33.54 L164.82,33.95 L165.16,34.37 L165.49,34.79 L165.83,35.22 L166.16,35.65 L166.5,36.08 L166.83,36.52 L167.16,36.97 L167.5,37.41 L167.83,37.86 L168.17,38.32 L168.5,38.78 L168.84,39.24 L169.17,39.71 L169.51,40.18 L169.84,40.65 L170.18,41.13 L170.51,41.61 L170.85,42.1 L171.18,42.59 L171.51,43.08 L171.85,43.58 L172.18,44.08 L172.52,44.58 L172.85,45.09 L173.19,45.6 L173.52,46.11 L173.86,46.63 L174.19,47.15 L174.53,47.68 L174.86,48.21 L175.19,48.74 L175.53,49.27 L175.86,49.81 L176.2,50.36 L176.53,50.9 L176.87,51.45 L177.2,52 L177.54,52.56 L177.87,53.12 L178.21,53.68 L178.54,54.24 L178.87,54.81 L179.21,55.39 L179.54,55.96 L179.88,56.54 L180.21,57.12 L180.55,57.71 L180.88,58.31 L181.22,58.91 L181.55,59.52 L181.89,60.14 L182.22,60.76 L182.55,61.4 L182.89,62.04 L183.22,62.69 L183.56,63.36 L183.89,64.03 L184.23,64.72 L184.56,65.42 L184.9,66.14 L185.23,66.86 L185.57,67.6 L185.9,68.36 L186.23,69.13 L186.57,69.92 L186.9,70.72 L187.24,71.54 L187.57,72.38 L187.91,73.24 L188.24,74.11 L188.58,75.01 L188.91,75.92 L189.25,76.86 L189.58,77.82 L189.92,78.8 L190.25,79.8 L190.58,80.82 L190.92,81.87 L191.25,82.95 L191.59,84.05 L191.92,85.17 L192.26,86.32 L192.59,87.5 L192.93,88.7 L193.26,89.93 L193.6,91.19 L193.93,92.48 L194.26,93.8 L194.6,95.16 L194.93,96.55 L195.27,97.97 L195.6,99.44 L195.94,100.95 L196.27,102.5 L196.61,104.1 L196.94,105.74 L197.28,107.44 L197.61,109.18 L197.94,110.98 L198.28,112.84 L198.61,114.75 L198.95,116.72 L199.28,118.75 L199.62,120.83 L199.95,122.95 L200.29,125.12 L200.62,127.34 L200.96,129.58 L201.29,131.86 L201.62,134.16 L201.96,136.49 L202.29,138.85 L202.63,141.23 L202.96,143.64 L203.3,146.07 L203.63,148.52 L203.97,150.99 L204.3,153.48 L204.64,155.99 L204.97,158.52 L205.31,161.07 L205.64,163.64 L205.97,166.23 L206.31,168.84 L206.64,171.47 L206.98,174.13 L207.31,176.8 L207.65,179.5 L207.98,182.22 L208.32,184.96 L208.65,187.72 L208.99,190.5 L209.32,193.3 L209.65,196.12 L209.99,198.95 L210.32,201.8 L210.66,204.66 L210.99,207.54 L211.33,210.42 L211.66,213.32 L212,216.23 L212.33,219.15 L212.67,222.07 L213,225 L213.34,221.97 L213.67,218.94 L214.01,215.92 L214.34,212.91 L214.68,209.91 L215.01,206.93 L215.35,203.96 L215.68,201.01 L216.02,198.07 L216.35,195.16 L216.69,192.26 L217.02,189.38 L217.36,186.53 L217.69,183.7 L218.03,180.9 L218.36,178.12 L218.7,175.36 L219.03,172.64 L219.37,169.95 L219.7,167.28 L220.04,164.65 L220.37,162.06 L220.71,159.49 L221.04,156.97 L221.38,154.48 L221.71,152.03 L222.05,149.62 L222.38,147.25 L222.72,144.92 L223.05,142.64 L223.39,140.4 L223.72,138.2 L224.06,136.05 L224.39,133.96 L224.73,131.91 L225.06,129.91 L225.4,127.96 L225.73,126.05 L226.07,124.2 L226.4,122.38 L226.74,120.61 L227.07,118.88 L227.41,117.19 L227.74,115.54 L228.08,113.93 L228.41,112.35 L228.75,110.81 L229.09,109.3 L229.42,107.82 L229.76,106.38 L230.09,104.96 L230.43,103.57 L230.76,102.2 L231.1,100.87 L231.43,99.55 L231.77,98.26 L232.1,96.98 L232.44,95.73 L232.77,94.49 L233.11,93.28 L233.44,92.07 L233.78,90.88 L234.11,89.71 L234.45,88.54 L234.78,87.4 L235.12,86.26 L235.45,85.14 L235.79,84.03 L236.12,82.94 L236.46,81.86 L236.79,80.79 L237.13,79.73 L237.46,78.69 L237.8,77.66 L238.13,76.64 L238.47,75.64 L238.8,74.65 L239.14,73.67 L239.47,72.7 L239.81,71.75 L240.14,70.8 L240.48,69.87 L240.81,68.95 L241.15,68.05 L241.48,67.15 L241.82,66.27 L242.15,65.4 L242.49,64.54 L242.82,63.69 L243.16,62.85 L243.49,62.03 L243.83,61.21 L244.16,60.41 L244.5,59.61 L244.84,58.83 L245.17,58.06 L245.51,57.3 L245.84,56.55 L246.18,55.81 L246.51,55.08 L246.85,54.36 L247.18,53.65 L247.52,52.95 L247.85,52.26 L248.19,51.58 L248.52,50.91 L248.86,50.25 L249.19,49.6 L249.53,48.96 L249.86,48.33 L250.2,47.71 L250.53,47.09 L250.87,46.49 L251.2,45.9 L251.54,45.31 L251.87,44.73 L252.21,44.17 L252.54,43.61 L252.88,43.05 L253.21,42.51 L253.55,41.98 L253.88,41.45 L254.22,40.93 L254.55,40.43 L254.89,39.92 L255.22,39.43 L255.56,38.94 L255.89,38.47 L256.23,38 L256.56,37.53 L256.9,37.08 L257.23,36.63 L257.57,36.19 L257.9,35.75 L258.24,35.33 L258.57,34.91 L258.91,34.49 L259.24,34.09 L259.58,33.69 L259.91,33.29 L260.25,32.91 L260.59,32.53 L260.92,32.15 L261.26,31.79 L261.59,31.42 L261.93,31.07 L262.26,30.72 L262.6,30.37 L262.93,30.04 L263.27,29.7 L263.6,29.38 L263.94,29.05 L264.27,28.74 L264.61,28.43 L264.94,28.12 L265.28,27.82 L265.61,27.52 L265.95,27.23 L266.28,26.95 L266.62,26.67 L266.95,26.39 L267.29,26.12 L267.62,25.85 L267.96,25.58 L268.29,25.32 L268.63,25.07 L268.96,24.82 L269.3,24.57 L269.63,24.33 L269.97,24.09 L270.3,23.85 L270.64,23.62 L270.97,23.39 L271.31,23.16 L271.64,22.94 L271.98,22.72 L272.31,22.5 L272.65,22.29 L272.98,22.08 L273.32,21.87 L273.65,21.66 L273.99,21.46 L274.32,21.26 L274.66,21.06 L274.99,20.87 L275.33,20.68 L275.66,20.48 L276,20.3" stroke="#5cb887"/>
<path d="M40.7,10.9 L41.03,10.96 L41.37,11.01 L41.7,11.07 L42.04,11.13 L42.37,11.18 L42.71,11.23 L43.04,11.28 L43.37,11.33 L43.71,11.37 L44.04,11.42 L44.38,11.46 L44.71,11.51 L45.05,11.55 L45.38,11.59 L45.72,11.62 L46.05,11.66 L46.38,11.7 L46.72,11.73 L47.05,11.76 L47.39,11.79 L47.72,11.82 L48.06,11.85 L48.39,11.88 L48.72,11.91 L49.06,11.93 L49.39,11.96 L49.73,11.98 L50.06,12 L50.4,12.03 L50.73,12.05 L51.06,12.06 L51.4,12.08 L51.73,12.1 L52.07,12.12 L52.4,12.13 L52.74,12.15 L53.07,12.16 L53.41,12.17 L53.74,12.18 L54.07,12.19 L54.41,12.2 L54.74,12.21 L55.08,12.22 L55.41,12.23 L55.75,12.24 L56.08,12.24 L56.41,12.25 L56.75,12.25 L57.08,12.26 L57.42,12.26 L57.75,12.27 L58.09,12.27 L58.42,12.27 L58.75,12.27 L59.09,12.27 L59.42,12.27 L59.76,12.27 L60.09,12.27 L60.43,12.27 L60.76,12.27 L61.1,12.27 L61.43,12.27 L61.76,12.27 L62.1,12.26 L62.43,12.26 L62.77,12.26 L63.1,12.25 L63.44,12.25 L63.77,12.25 L64.1,12.24 L64.44,12.24 L64.77,12.23 L65.11,12.23 L65.44,12.23 L65.78,12.22 L66.11,12.22 L66.44,12.21 L66.78,12.21 L67.11,12.2 L67.45,12.2 L67.78,12.2 L68.12,12.19 L68.45,12.19 L68.79,12.18 L69.12,12.18 L69.45,12.18 L69.79,12.17 L70.12,12.17 L70.46,12.17 L70.79,12.16 L71.13,12.16 L71.46,12.16 L71.79,12.16 L72.13,12.15 L72.46,12.15 L72.8,12.15 L73.13,12.15 L73.47,12.15 L73.8,12.15 L74.13,12.15 L74.47,12.16 L74.8,12.16 L75.14,12.16 L75.47,12.16 L75.81,12.17 L76.14,12.17 L76.48,12.18 L76.81,12.18 L77.14,12.19 L77.48,12.2 L77.81,12.2 L78.15,12.21 L78.48,12.22 L78.82,12.23 L79.15,12.24 L79.48,12.25 L79.82,12.27 L80.15,12.28 L80.49,12.29 L80.82,12.31 L81.16,12.33 L81.49,12.34 L81.82,12.36 L82.16,12.38 L82.49,12.4 L82.83,12.42 L83.16,12.44 L83.5,12.47 L83.83,12.49 L84.17,12.52 L84.5,12.54 L84.83,12.57 L85.17,12.6 L85.5,12.63 L85.84,12.66 L86.17,12.7 L86.51,12.73 L86.84,12.77 L87.17,12.8 L87.51,12.84 L87.84,12.88 L88.18,12.92 L88.51,12.96 L88.85,13.01 L89.18,13.05 L89.51,13.1 L89.85,13.15 L90.18,13.2 L90.52,13.25 L90.85,13.3 L91.19,13.36 L91.52,13.41 L91.86,13.47 L92.19,13.53 L92.52,13.59 L92.86,13.65 L93.19,13.72 L93.53,13.78 L93.86,13.85 L94.2,13.92 L94.53,13.99 L94.86,14.07 L95.2,14.14 L95.53,14.22 L95.87,14.3 L96.2,14.38 L96.54,14.46 L96.87,14.55 L97.2,14.63 L97.54,14.72 L97.87,14.81 L98.21,14.91 L98.54,15 L98.88,15.1 L99.21,15.2 L99.55,15.3 L99.88,15.4 L100.21,15.51 L100.55,15.62 L100.88,15.73 L101.22,15.84 L101.55,15.95 L101.89,16.07 L102.22,16.19 L102.55,16.31 L102.89,16.44 L103.22,16.56 L103.56,16.69 L103.89,16.83 L104.23,16.96 L104.56,17.1 L104.9,17.25 L105.23,17.39 L105.56,17.54 L105.9,17.7 L106.23,17.86 L106.57,18.02 L106.9,18.19 L107.24,18.36 L107.57,18.54 L107.9,18.72 L108.24,18.91 L108.57,19.11 L108.91,19.31 L109.24,19.51 L109.58,19.72 L109.91,19.94 L110.24,20.16 L110.58,20.39 L110.91,20.63 L111.25,20.87 L111.58,21.12 L111.92,21.38 L112.25,21.65 L112.59,21.92 L112.92,22.2 L113.25,22.49 L113.59,22.78 L113.92,23.09 L114.26,23.4 L114.59,23.72 L114.93,24.05 L115.26,24.39 L115.59,24.74 L115.93,25.1 L116.26,25.46 L116.6,25.84 L116.93,26.22 L117.27,26.62 L117.6,27.03 L117.93,27.44 L118.27,27.87 L118.6,28.31 L118.94,28.75 L119.27,29.21 L119.61,29.68 L119.94,30.16 L120.28,30.65 L120.61,31.16 L120.94,31.67 L121.28,32.2 L121.61,32.74 L121.95,33.29 L122.28,33.84 L122.62,34.41 L122.95,34.98 L123.28,35.57 L123.62,36.16 L123.95,36.75 L124.29,37.36 L124.62,37.97 L124.96,38.58 L125.29,39.2 L125.62,39.83 L125.96,40.46 L126.29,41.09 L126.63,41.73 L126.96,42.37 L127.3,43.01 L127.63,43.66 L127.97,44.3 L128.3,44.95 L128.63,45.6 L128.97,46.26 L129.3,46.91 L129.64,47.58 L129.97,48.24 L130.31,48.92 L130.64,49.59 L130.97,50.28 L131.31,50.97 L131.64,51.67 L131.98,52.38 L132.31,53.1 L132.65,53.83 L132.98,54.57 L133.31,55.31 L133.65,56.07 L133.98,56.84 L134.32,57.63 L134.65,58.42 L134.99,59.23 L135.32,60.05 L135.66,60.89 L135.99,61.74 L136.32,62.61 L136.66,63.5 L136.99,64.4 L137.33,65.32 L137.66,66.25 L138,67.21 L138.33,68.18 L138.66,69.17 L139,70.18 L139.33,71.22 L139.67,72.27 L140,73.35 L140.34,74.44 L140.67,75.57 L141,76.71 L141.34,77.88 L141.67,79.07 L142.01,80.29 L142.34,81.53 L142.68,82.79 L143.01,84.07 L143.35,85.38 L143.68,86.71 L144.01,88.06 L144.35,89.43 L144.68,90.82 L145.02,92.23 L145.35,93.66 L145.69,95.1 L146.02,96.57 L146.35,98.05 L146.69,99.55 L147.02,101.07 L147.36,102.6 L147.69,104.15 L148.03,105.72 L148.36,107.3 L148.69,108.89 L149.03,110.5 L149.36,112.12 L149.7,113.75 L150.03,115.4 L150.37,117.06 L150.7,118.73 L151.04,120.4 L151.37,122.09 L151.7,123.77 L152.04,125.46 L152.37,127.15 L152.71,128.83 L153.04,130.51 L153.38,132.18 L153.71,133.85 L154.04,135.5 L154.38,137.13 L154.71,138.76 L155.05,140.36 L155.38,141.94 L155.72,143.5 L156.05,145.04 L156.38,146.55 L156.72,148.03 L157.05,149.48 L157.39,150.9 L157.72,152.28 L158.06,153.62 L158.39,154.93 L158.73,156.19 L159.06,157.41 L159.39,158.58 L159.73,159.7 L160.06,160.77 L160.4,161.79 L160.73,162.76 L161.07,163.66 L161.4,164.51 L161.74,163.79 L162.07,163 L162.41,162.13 L162.74,161.19 L163.08,160.19 L163.41,159.12 L163.75,157.99 L164.08,156.8 L164.42,155.56 L164.75,154.26 L165.09,152.91 L165.42,151.51 L165.76,150.07 L166.09,148.59 L166.43,147.06 L166.76,145.51 L167.1,143.91 L167.43,142.29 L167.77,140.64 L168.1,138.96 L168.44,137.26 L168.77,135.54 L169.11,133.8 L169.44,132.05 L169.78,130.29 L170.11,128.51 L170.45,126.73 L170.78,124.95 L171.12,123.15 L171.45,121.36 L171.79,119.57 L172.12,117.78 L172.46,115.99 L172.79,114.21 L173.13,112.44 L173.46,110.68 L173.8,108.94 L174.13,107.21 L174.47,105.49 L174.8,103.8 L175.14,102.13 L175.47,100.48 L175.81,98.85 L176.14,97.26 L176.48,95.69 L176.81,94.15 L177.15,92.64 L177.48,91.16 L177.82,89.71 L178.15,88.28 L178.49,86.88 L178.82,85.5 L179.16,84.15 L179.49,82.83 L179.83,81.53 L180.16,80.26 L180.5,79.01 L180.84,77.78 L181.17,76.58 L181.51,75.4 L181.84,74.24 L182.18,73.1 L182.51,71.99 L182.85,70.9 L183.18,69.82 L183.52,68.77 L183.85,67.74 L184.19,66.73 L184.52,65.74 L184.86,64.76 L185.19,63.81 L185.53,62.87 L185.86,61.96 L186.2,61.05 L186.53,60.17 L186.87,59.3 L187.2,58.45 L187.54,57.61 L187.87,56.79 L188.21,55.99 L188.54,55.2 L188.88,54.42 L189.21,53.66 L189.55,52.91 L189.88,52.17 L190.22,51.45 L190.55,50.74 L190.89,50.04 L191.22,49.36 L191.56,48.68 L191.89,48.02 L192.23,47.36 L192.56,46.72 L192.9,46.08 L193.23,45.46 L193.57,44.85 L193.9,44.24 L194.24,43.64 L194.57,43.05 L194.91,42.47 L195.24,41.9 L195.58,41.33 L195.91,40.77 L196.25,40.21 L196.58,39.66 L196.92,39.12 L197.25,38.59 L197.59,38.05 L197.92,37.53 L198.26,37.01 L198.59,36.5 L198.93,35.99 L199.26,35.49 L199.6,35 L199.94,34.51 L200.27,34.03 L200.61,33.55 L200.94,33.09 L201.28,32.62 L201.61,32.17 L201.95,31.72 L202.28,31.28 L202.62,30.84 L202.95,30.41 L203.29,29.99 L203.62,29.58 L203.96,29.17 L204.29,28.76 L204.63,28.37 L204.96,27.98 L205.3,27.6 L205.63,27.23 L205.97,26.86 L206.3,26.5 L206.64,26.15 L206.97,25.8 L207.31,25.47 L207.64,25.14 L207.98,24.81 L208.31,24.5 L208.65,24.19 L208.98,23.89 L209.32,23.6 L209.65,23.31 L209.99,23.03 L210.32,22.76 L210.66,22.5 L210.99,22.24 L211.33,22 L211.66,21.76 L212,21.52 L212.33,21.3 L212.67,21.08 L213,20.87 L213.34,20.66 L213.67,20.46 L214.01,20.27 L214.34,20.08 L214.68,19.91 L215.01,19.73 L215.35,19.57 L215.68,19.4 L216.02,19.25 L216.35,19.1 L216.69,18.96 L217.02,18.82 L217.36,18.69 L217.69,18.56 L218.03,18.44 L218.36,18.33 L218.7,18.22 L219.04,18.11 L219.37,18.01 L219.71,17.91 L220.04,17.82 L220.38,17.74 L220.71,17.65 L221.05,17.58 L221.38,17.51 L221.72,17.44 L222.05,17.37 L222.39,17.31 L222.72,17.26 L223.06,17.2 L223.39,17.15 L223.73,17.11 L224.06,17.07 L224.4,17.03 L224.73,17 L225.07,16.96 L225.4,16.94 L225.74,16.91 L226.07,16.89 L226.41,16.87 L226.74,16.85 L227.08,16.84 L227.41,16.83 L227.75,16.82 L228.08,16.81 L228.42,16.81 L228.75,16.81 L229.09,16.81 L229.42,16.81 L229.76,16.81 L230.09,16.82 L230.43,16.82 L230.76,16.83 L231.1,16.84 L231.43,16.85 L231.77,16.87 L232.1,16.88 L232.44,16.89 L232.77,16.91 L233.11,16.93 L233.44,16.94 L233.78,16.96 L234.11,16.98 L234.45,17 L234.78,17.02 L235.12,17.04 L235.45,17.06 L235.79,17.08 L236.12,17.1 L236.46,17.12 L236.79,17.14 L237.13,17.16 L237.46,17.18 L237.8,17.2 L238.14,17.22 L238.47,17.24 L238.81,17.26 L239.14,17.28 L239.48,17.3 L239.81,17.32 L240.15,17.34 L240.48,17.36 L240.82,17.38 L241.15,17.4 L241.49,17.42 L241.82,17.44 L242.16,17.46 L242.49,17.48 L242.83,17.5 L243.16,17.52 L243.5,17.54 L243.83,17.56 L244.17,17.58 L244.5,17.6 L244.84,17.62 L245.17,17.64 L245.51,17.65 L245.84,17.67 L246.18,17.69 L246.51,17.71 L246.85,17.72 L247.18,17.74 L247.52,17.75 L247.85,17.77 L248.19,17.79 L248.52,17.8 L248.86,17.81 L249.19,17.83 L249.53,17.84 L249.86,17.86 L250.2,17.87 L250.53,17.88 L250.87,17.89 L251.2,17.9 L251.54,17.91 L251.87,17.92 L252.21,17.93 L252.54,17.94 L252.88,17.95 L253.21,17.96 L253.55,17.97 L253.88,17.97 L254.22,17.98 L254.55,17.98 L254.89,17.99 L255.22,17.99 L255.56,18 L255.89,18 L256.23,18 L256.56,18 L256.9,18 L257.24,18 L257.57,18 L257.91,18 L258.24,17.99 L258.58,17.99 L258.91,17.99 L259.25,17.98 L259.58,17.97 L259.92,17.97 L260.25,17.96 L260.59,17.95 L260.92,17.94 L261.26,17.93 L261.59,17.92 L261.93,17.91 L262.26,17.89 L262.6,17.88 L262.93,17.86 L263.27,17.84 L263.6,17.83 L263.94,17.81 L264.27,17.79 L264.61,17.77 L264.94,17.74 L265.28,17.72 L265.61,17.7 L265.95,17.67 L266.28,17.64 L266.62,17.62 L266.95,17.59 L267.29,17.56 L267.62,17.53 L267.96,17.49 L268.29,17.46 L268.63,17.42 L268.96,17.39 L269.3,17.35 L269.63,17.31 L269.97,17.27 L270.3,17.23 L270.64,17.19 L270.97,17.14 L271.31,17.1 L271.64,17.05 L271.98,17 L272.31,16.95 L272.65,16.9 L272.98,16.85 L273.32,16.79 L273.65,16.74 L273.99,16.68 L274.32,16.62 L274.66,16.56 L274.99,16.5 L275.33,16.44 L275.66,16.37 L276,16.3" stroke="#c9d64c"/>
<path d="M40.7,27.9 L41.04,28.37 L41.38,28.84 L41.72,29.33 L42.05,29.82 L42.39,30.32 L42.73,30.83 L43.07,31.35 L43.41,31.88 L43.75,32.42 L44.08,32.97 L44.42,33.53 L44.76,34.09 L45.1,34.67 L45.44,35.26 L45.78,35.86 L46.12,36.46 L46.45,37.08 L46.79,37.71 L47.13,38.35 L47.47,39 L47.81,39.66 L48.15,40.33 L48.48,41.02 L48.82,41.71 L49.16,42.41 L49.5,43.13 L49.84,43.86 L50.18,44.6 L50.52,45.35 L50.85,46.11 L51.19,46.89 L51.53,47.67 L51.87,48.47 L52.21,49.28 L52.55,50.11 L52.88,50.94 L53.22,51.79 L53.56,52.65 L53.9,53.53 L54.24,54.41 L54.58,55.31 L54.92,56.23 L55.25,57.15 L55.59,58.09 L55.93,59.04 L56.27,60.01 L56.61,60.99 L56.95,61.98 L57.28,62.99 L57.62,64.01 L57.96,65.04 L58.3,66.08 L58.64,67.14 L58.98,68.2 L59.32,69.28 L59.65,70.36 L59.99,71.46 L60.33,72.57 L60.67,73.68 L61.01,74.81 L61.35,75.94 L61.68,77.08 L62.02,78.23 L62.36,79.38 L62.7,80.55 L63.04,81.72 L63.38,82.89 L63.72,84.07 L64.05,85.26 L64.39,86.45 L64.73,87.65 L65.07,88.85 L65.41,90.06 L65.75,91.26 L66.08,92.48 L66.42,93.69 L66.76,94.91 L67.1,96.13 L67.44,97.35 L67.78,98.57 L68.12,99.8 L68.45,101.02 L68.79,102.25 L69.13,103.47 L69.47,104.69 L69.81,105.92 L70.15,107.14 L70.48,108.36 L70.82,109.58 L71.16,110.79 L71.5,112.01 L71.83,110.73 L72.17,109.45 L72.5,108.19 L72.84,106.93 L73.17,105.68 L73.5,104.44 L73.84,103.21 L74.17,101.98 L74.51,100.77 L74.84,99.56 L75.18,98.37 L75.51,97.18 L75.84,96 L76.18,94.83 L76.51,93.67 L76.85,92.52 L77.18,91.38 L77.51,90.24 L77.85,89.12 L78.18,88 L78.52,86.89 L78.85,85.79 L79.19,84.7 L79.52,83.62 L79.85,82.55 L80.19,81.48 L80.52,80.43 L80.86,79.38 L81.19,78.35 L81.52,77.32 L81.86,76.3 L82.19,75.29 L82.53,74.28 L82.86,73.29 L83.2,72.31 L83.53,71.33 L83.86,70.36 L84.2,69.41 L84.53,68.46 L84.87,67.52 L85.2,66.58 L85.53,65.66 L85.87,64.75 L86.2,63.84 L86.54,62.95 L86.87,62.06 L87.21,61.18 L87.54,60.31 L87.87,59.45 L88.21,58.59 L88.54,57.75 L88.88,56.91 L89.21,56.09 L89.54,55.27 L89.88,54.46 L90.21,53.66 L90.55,52.87 L90.88,52.09 L91.21,51.31 L91.55,50.55 L91.88,49.79 L92.22,49.05 L92.55,48.31 L92.89,47.58 L93.22,46.86 L93.55,46.14 L93.89,45.44 L94.22,44.75 L94.56,44.06 L94.89,43.38 L95.22,42.71 L95.56,42.05 L95.89,41.4 L96.23,40.76 L96.56,40.13 L96.9,39.5 L97.23,38.88 L97.56,38.28 L97.9,37.68 L98.23,37.09 L98.57,36.51 L98.9,35.93 L99.23,35.37 L99.57,34.81 L99.9,34.27 L100.24,33.73 L100.57,33.2 L100.91,32.68 L101.24,32.17 L101.57,31.67 L101.91,31.17 L102.24,30.69 L102.58,30.21 L102.91,29.74 L103.24,29.28 L103.58,28.83 L103.91,28.39 L104.25,27.96 L104.58,27.53 L104.92,27.12 L105.25,26.71 L105.58,26.31 L105.92,25.92 L106.25,25.54 L106.59,25.17 L106.92,24.8 L107.25,24.45 L107.59,24.1 L107.92,23.77 L108.26,23.44 L108.59,23.12 L108.92,22.8 L109.26,22.5 L109.59,22.21 L109.93,21.92 L110.26,21.65 L110.6,21.38 L110.93,21.12 L111.26,20.87 L111.6,20.62 L111.93,20.39 L112.27,20.17 L112.6,19.95 L112.93,19.74 L113.27,19.54 L113.6,19.35 L113.94,19.17 L114.27,19 L114.61,18.83 L114.94,18.67 L115.27,18.52 L115.61,18.38 L115.94,18.25 L116.28,18.12 L116.61,18 L116.94,17.89 L117.28,17.78 L117.61,17.68 L117.95,17.59 L118.28,17.5 L118.62,17.42 L118.95,17.34 L119.28,17.27 L119.62,17.21 L119.95,17.15 L120.29,17.1 L120.62,17.05 L120.95,17.01 L121.29,16.97 L121.62,16.94 L121.96,16.91 L122.29,16.89 L122.62,16.87 L122.96,16.86 L123.29,16.85 L123.63,16.84 L123.96,16.83 L124.3,16.83 L124.63,16.84 L124.96,16.84 L125.3,16.85 L125.63,16.87 L125.97,16.88 L126.3,16.9 L126.63,16.92 L126.97,16.94 L127.3,16.96 L127.64,16.99 L127.97,17.02 L128.31,17.05 L128.64,17.08 L128.97,17.11 L129.31,17.14 L129.64,17.17 L129.98,17.21 L130.31,17.24 L130.64,17.28 L130.98,17.32 L131.31,17.35 L131.65,17.39 L131.98,17.42 L132.32,17.46 L132.65,17.49 L132.98,17.53 L133.32,17.56 L133.65,17.59 L133.99,17.63 L134.32,17.66 L134.65,17.68 L134.99,17.71 L135.32,17.74 L135.66,17.76 L135.99,17.78 L136.33,17.8 L136.66,17.82 L136.99,17.84 L137.33,17.86 L137.66,17.87 L138,17.89 L138.33,17.9 L138.66,17.91 L139,17.92 L139.33,17.93 L139.67,17.93 L140,17.94 L140.33,17.94 L140.67,17.94 L141,17.94 L141.34,17.94 L141.67,17.93 L142.01,17.93 L142.34,17.92 L142.67,17.91 L143.01,17.9 L143.34,17.89 L143.68,17.88 L144.01,17.86 L144.34,17.84 L144.68,17.82 L145.01,17.8 L145.35,17.78 L145.68,17.76 L146.02,17.73 L146.35,17.71 L146.68,17.68 L147.02,17.65 L147.35,17.61 L147.69,17.58 L148.02,17.54 L148.35,17.5 L148.69,17.47 L149.02,17.42 L149.36,17.38 L149.69,17.34 L150.03,17.29 L150.36,17.24 L150.69,17.19 L151.03,17.14 L151.36,17.08 L151.7,17.03 L152.03,16.97 L152.36,16.91 L152.7,16.85 L153.03,16.78 L153.37,16.72 L153.7,16.65 L154.04,16.58 L154.37,16.51 L154.7,16.44 L155.04,16.36 L155.37,16.29 L155.71,16.21 L156.04,16.13 L156.37,16.04 L156.71,15.96 L157.04,15.87 L157.38,15.78 L157.71,15.7 L158.04,15.6 L158.38,15.51 L158.71,15.42 L159.05,15.32 L159.38,15.23 L159.72,15.13 L160.05,15.03 L160.38,14.93 L160.72,14.83 L161.05,14.72 L161.39,14.62 L161.72,14.52 L162.05,14.41 L162.39,14.31 L162.72,14.2 L163.06,14.1 L163.39,13.99 L163.73,13.88 L164.06,13.78 L164.39,13.67 L164.73,13.56 L165.06,13.45 L165.4,13.35 L165.73,13.24 L166.06,13.13 L166.4,13.02 L166.73,12.92 L167.07,12.81 L167.4,12.7 L167.74,12.6 L168.07,12.49 L168.4,12.39 L168.74,12.28 L169.07,12.18 L169.41,12.08 L169.74,11.97 L170.07,11.87 L170.41,11.77 L170.74,11.67 L171.08,11.58 L171.41,11.48 L171.75,11.39 L172.08,11.29 L172.41,11.2 L172.75,11.11 L173.08,11.02 L173.42,10.93 L173.75,10.85 L174.08,10.76 L174.42,10.68 L174.75,10.6 L175.09,10.52 L175.42,10.45 L175.75,10.37 L176.09,10.3 L176.42,10.23 L176.76,10.17 L177.09,10.1 L177.43,10.04 L177.76,9.98 L178.09,9.92 L178.43,9.87 L178.76,9.82 L179.1,9.77 L179.43,9.72 L179.76,9.68 L180.1,9.64 L180.43,9.6 L180.77,9.57 L181.1,9.54 L181.44,9.51 L181.77,9.49 L182.1,9.47 L182.44,9.46 L182.77,9.44 L183.11,9.43 L183.44,9.43 L183.77,9.43 L184.11,9.43 L184.44,9.43 L184.78,9.44 L185.11,9.45 L185.45,9.46 L185.78,9.48 L186.11,9.5 L186.45,9.52 L186.78,9.54 L187.12,9.57 L187.45,9.6 L187.78,9.63 L188.12,9.66 L188.45,9.7 L188.79,9.74 L189.12,9.78 L189.46,9.82 L189.79,9.86 L190.12,9.91 L190.46,9.95 L190.79,10 L191.13,10.05 L191.46,10.1 L191.79,10.16 L192.13,10.21 L192.46,10.27 L192.8,10.33 L193.13,10.38 L193.46,10.44 L193.8,10.5 L194.13,10.56 L194.47,10.62 L194.8,10.69 L195.14,10.75 L195.47,10.81 L195.8,10.87 L196.14,10.94 L196.47,11 L196.81,11.07 L197.14,11.13 L197.47,11.19 L197.81,11.26 L198.14,11.32 L198.48,11.39 L198.81,11.45 L199.15,11.51 L199.48,11.57 L199.81,11.64 L200.15,11.7 L200.48,11.76 L200.82,11.82 L201.15,11.88 L201.48,11.93 L201.82,11.99 L202.15,12.04 L202.49,12.1 L202.82,12.15 L203.16,12.2 L203.49,12.25 L203.82,12.3 L204.16,12.35 L204.49,12.39 L204.83,12.43 L205.16,12.48 L205.49,12.52 L205.83,12.55 L206.16,12.59 L206.5,12.62 L206.83,12.65 L207.17,12.68 L207.5,12.71 L207.83,12.73 L208.17,12.75 L208.5,12.78 L208.84,12.79 L209.17,12.81 L209.5,12.83 L209.84,12.84 L210.17,12.85 L210.51,12.86 L210.84,12.87 L211.17,12.88 L211.51,12.88 L211.84,12.89 L212.18,12.89 L212.51,12.89 L212.85,12.89 L213.18,12.88 L213.51,12.88 L213.85,12.87 L214.18,12.86 L214.52,12.86 L214.85,12.85 L215.18,12.83 L215.52,12.82 L215.85,12.81 L216.19,12.79 L216.52,12.77 L216.86,12.75 L217.19,12.73 L217.52,12.71 L217.86,12.69 L218.19,12.67 L218.53,12.64 L218.86,12.61 L219.19,12.59 L219.53,12.56 L219.86,12.53 L220.2,12.5 L220.53,12.47 L220.87,12.44 L221.2,12.4 L221.53,12.37 L221.87,12.33 L222.2,12.3 L222.54,12.26 L222.87,12.22 L223.2,12.18 L223.54,12.14 L223.87,12.1 L224.21,12.06 L224.54,12.02 L224.88,11.98 L225.21,11.94 L225.54,11.89 L225.88,11.85 L226.21,11.8 L226.55,11.76 L226.88,11.71 L227.21,11.66 L227.55,11.62 L227.88,11.57 L228.22,11.52 L228.55,11.47 L228.88,11.42 L229.22,11.37 L229.55,11.32 L229.89,11.27 L230.22,11.22 L230.56,11.17 L230.89,11.12 L231.22,11.07 L231.56,11.02 L231.89,10.97 L232.23,10.91 L232.56,10.86 L232.89,10.81 L233.23,10.76 L233.56,10.71 L233.9,10.65 L234.23,10.6 L234.57,10.55 L234.9,10.5 L235.23,10.44 L235.57,10.39 L235.9,10.34 L236.24,10.29 L236.57,10.23 L236.9,10.18 L237.24,10.13 L237.57,10.08 L237.91,10.03 L238.24,9.98 L238.58,9.93 L238.91,9.88 L239.24,9.83 L239.58,9.78 L239.91,9.73 L240.25,9.68 L240.58,9.63 L240.91,9.58 L241.25,9.54 L241.58,9.49 L241.92,9.44 L242.25,9.4 L242.58,9.35 L242.92,9.31 L243.25,9.27 L243.59,9.22 L243.92,9.18 L244.26,9.14 L244.59,9.1 L244.92,9.06 L245.26,9.02 L245.59,8.98 L245.93,8.94 L246.26,8.9 L246.59,8.87 L246.93,8.83 L247.26,8.8 L247.6,8.76 L247.93,8.73 L248.27,8.7 L248.6,8.67 L248.93,8.64 L249.27,8.61 L249.6,8.59 L249.94,8.56 L250.27,8.53 L250.6,8.51 L250.94,8.49 L251.27,8.47 L251.61,8.45 L251.94,8.43 L252.28,8.41 L252.61,8.4 L252.94,8.38 L253.28,8.37 L253.61,8.36 L253.95,8.34 L254.28,8.34 L254.61,8.33 L254.95,8.32 L255.28,8.32 L255.62,8.31 L255.95,8.31 L256.29,8.31 L256.62,8.31 L256.95,8.32 L257.29,8.32 L257.62,8.33 L257.96,8.34 L258.29,8.35 L258.62,8.36 L258.96,8.37 L259.29,8.39 L259.63,8.41 L259.96,8.42 L260.29,8.45 L260.63,8.47 L260.96,8.49 L261.3,8.52 L261.63,8.55 L261.97,8.58 L262.3,8.61 L262.63,8.65 L262.97,8.68 L263.3,8.72 L263.64,8.77 L263.97,8.81 L264.3,8.85 L264.64,8.9 L264.97,8.95 L265.31,9 L265.64,9.06 L265.98,9.12 L266.31,9.17 L266.64,9.24 L266.98,9.3 L267.31,9.37 L267.65,9.43 L267.98,9.51 L268.31,9.58 L268.65,9.66 L268.98,9.73 L269.32,9.81 L269.65,9.9 L269.99,9.98 L270.32,10.07 L270.65,10.17 L270.99,10.26 L271.32,10.36 L271.66,10.46 L271.99,10.56 L272.32,10.66 L272.66,10.77 L272.99,10.88 L273.33,11 L273.66,11.11 L274,11.23 L274.33,11.35 L274.66,11.48 L275,11.61 L275.33,11.74 L275.67,11.87 L276,12.01" stroke="#e2474b"/>
</g>
<g stroke="#2a2a2a" stroke-width="1" fill="none">
<rect x="40.5" y="8.5" width="235" height="190"/>
<line x1="40.5" y1="198.5" x2="40.5" y2="201.7"/>
<line x1="40.5" y1="8.5" x2="40.5" y2="11.06"/>
<line x1="64.5" y1="198.5" x2="64.5" y2="200.5"/>
<line x1="64.5" y1="8.5" x2="64.5" y2="10.1"/>
<line x1="87.5" y1="198.5" x2="87.5" y2="201.7"/>
<line x1="87.5" y1="8.5" x2="87.5" y2="11.06"/>
<line x1="111.5" y1="198.5" x2="111.5" y2="200.5"/>
<line x1="111.5" y1="8.5" x2="111.5" y2="10.1"/>
<line x1="134.5" y1="198.5" x2="134.5" y2="201.7"/>
<line x1="134.5" y1="8.5" x2="134.5" y2="11.06"/>
<line x1="158.5" y1="198.5" x2="158.5" y2="200.5"/>
<line x1="158.5" y1="8.5" x2="158.5" y2="10.1"/>
<line x1="181.5" y1="198.5" x2="181.5" y2="201.7"/>
<line x1="181.5" y1="8.5" x2="181.5" y2="11.06"/>
<line x1="205.5" y1="198.5" x2="205.5" y2="200.5"/>
<line x1="205.5" y1="8.5" x2="205.5" y2="10.1"/>
<line x1="228.5" y1="198.5" x2="228.5" y2="201.7"/>
<line x1="228.5" y1="8.5" x2="228.5" y2="11.06"/>
<line x1="252.5" y1="198.5" x2="252.5" y2="200.5"/>
<line x1="252.5" y1="8.5" x2="252.5" y2="10.1"/>
<line x1="275.5" y1="198.5" x2="275.5" y2="201.7"/>
<line x1="275.5" y1="8.5" x2="275.5" y2="11.06"/>
<line x1="37" y1="8.5" x2="40.5" y2="8.5"/>
<line x1="272" y1="8.5" x2="275.5" y2="8.5"/>
<line x1="38.5" y1="32.5" x2="40.5" y2="32.5"/>
<line x1="273.5" y1="32.5" x2="275.5" y2="32.5"/>
<line x1="37" y1="56.5" x2="40.5" y2="56.5"/>
<line x1="272" y1="56.5" x2="275.5" y2="56.5"/>
<line x1="38.5" y1="79.5" x2="40.5" y2="79.5"/>
<line x1="273.5" y1="79.5" x2="275.5" y2="79.5"/>
<line x1="37" y1="103.5" x2="40.5" y2="103.5"/>
<line x1="272" y1="103.5" x2="275.5" y2="103.5"/>
<line x1="38.5" y1="127.5" x2="40.5" y2="127.5"/>
<line x1="273.5" y1="127.5" x2="275.5" y2="127.5"/>
<line x1="37" y1="151.5" x2="40.5" y2="151.5"/>
<line x1="272" y1="151.5" x2="275.5" y2="151.5"/>
<line x1="38.5" y1="174.5" x2="40.5" y2="174.5"/>
<line x1="273.5" y1="174.5" x2="275.5" y2="174.5"/>
<line x1="37" y1="198.5" x2="40.5" y2="198.5"/>
<line x1="272" y1="198.5" x2="275.5" y2="198.5"/>
</g>
<g font-family="'Liberation Serif', 'Times New Roman', serif" font-size="11.5" fill="#111">
<text x="40.3" y="213" text-anchor="middle">4.5</text>
<text x="87.3" y="213" text-anchor="middle">4.8</text>
<text x="134.3" y="213" text-anchor="middle">5.1</text>
<text x="181.3" y="213" text-anchor="middle">5.4</text>
<text x="228.3" y="213" text-anchor="middle">5.7</text>
<text x="275.3" y="213" text-anchor="middle">6.0</text>
<text x="34.6" y="11.6" text-anchor="end">0</text>
<text x="34.6" y="59.1" text-anchor="end">-5</text>
<text x="34.6" y="106.6" text-anchor="end">-10</text>
<text x="34.6" y="154.1" text-anchor="end">-15</text>
<text x="34.6" y="201.6" text-anchor="end">-20</text>
</g>
<text class="nb" x="158.4" y="228.4" text-anchor="middle" font-family="'Liberation Serif', 'Times New Roman', serif" font-size="13" fill="#111" textLength="89.4" lengthAdjust="spacingAndGlyphs">Frequency (GHz)</text>
<text class="nb" transform="translate(11.6,106.3) rotate(-90)" text-anchor="middle" font-family="'Liberation Serif', 'Times New Roman', serif" font-size="13" fill="#111" textLength="119.3" lengthAdjust="spacingAndGlyphs">Reflection coeff. (dB)</text>
<rect x="221.5" y="14.5" width="47" height="69.5" fill="#fff"/>
<line x1="222.4" y1="22.8" x2="247.4" y2="22.8" stroke="#e2474b" stroke-width="2"/>
<text x="248.3" y="27.4" font-family="'Liberation Serif', 'Times New Roman', serif" font-size="11.5" fill="#111"><tspan font-style="italic">n</tspan>=1</text>
<line x1="222.4" y1="35.9" x2="247.4" y2="35.9" stroke="#c9d64c" stroke-width="2"/>
<text x="248.3" y="40.5" font-family="'Liberation Serif', 'Times New Roman', serif" font-size="11.5" fill="#111"><tspan font-style="italic">n</tspan>=2</text>
<line x1="222.4" y1="49" x2="247.4" y2="49" stroke="#5cb887" stroke-width="2"/>
<text x="248.3" y="53.6" font-family="'Liberation Serif', 'Times New Roman', serif" font-size="11.5" fill="#111"><tspan font-style="italic">n</tspan>=3</text>
<line x1="222.4" y1="62.1" x2="247.4" y2="62.1" stroke="#3b59ad" stroke-width="2"/>
<text x="248.3" y="66.7" font-family="'Liberation Serif', 'Times New Roman', serif" font-size="11.5" fill="#111"><tspan font-style="italic">n</tspan>=4</text>
<line x1="222.4" y1="75.2" x2="247.4" y2="75.2" stroke="#b25cb2" stroke-width="2"/>
<text x="248.3" y="79.8" font-family="'Liberation Serif', 'Times New Roman', serif" font-size="11.5" fill="#111"><tspan font-style="italic">n</tspan>=5</text>
<text class="nb" x="170.2" y="179.6" font-family="'Liberation Serif', 'Times New Roman', serif" font-size="20" fill="#111">(a)</text>
<rect x="45.1" y="95.7" width="99.2" height="95.6" fill="#44a184"/>
<rect x="55.45" y="104.45" width="78.5" height="78.5" fill="none" stroke="#8c4c1c" stroke-width="4.5"/>
<rect x="55.45" y="104.45" width="78.5" height="78.5" fill="none" stroke="#5e2c0c" stroke-width="1.6" stroke-dasharray="1.2 1.6" opacity="0.35"/>
<path d="M71.4,122.4 L118,122.4 L118,166 L110.9,166 L100.8,150.8 L89.6,150.8 L79.5,166 L71.4,166 Z" fill="#8c4c1c"/>
<circle cx="94.3" cy="142.3" r="2" fill="none" stroke="#5a2a0a" stroke-width="0.8"/>
<circle cx="88.2" cy="146.3" r="1.05" fill="#fff"/>
<circle cx="85" cy="150.4" r="1.05" fill="#fff"/>
<circle cx="81.8" cy="154.4" r="1.05" fill="#fff"/>
<circle cx="78.7" cy="158.5" r="1.05" fill="#fff"/>
<circle cx="75.6" cy="162.5" r="1.05" fill="#fff"/>
<circle cx="100.8" cy="146.5" r="1.05" fill="#fff"/>
<circle cx="104.1" cy="150.4" r="1.05" fill="#fff"/>
<circle cx="107.5" cy="154.4" r="1.05" fill="#fff"/>
<circle cx="110.8" cy="158.5" r="1.05" fill="#fff"/>
<circle cx="114" cy="162.5" r="1.05" fill="#fff"/>
<g stroke="#fff" stroke-width="0.7" fill="none"><path d="M70.4,160 L83.2,142.7 L85,141.5"/><path d="M119,160 L103.8,142.7 L102,141.5"/></g>
<g class="w" font-family="'Liberation Serif', 'Times New Roman', serif" font-size="8.2" fill="#fff" font-weight="bold">
<text x="74.2" y="140.8"><tspan font-style="italic">n</tspan>=1</text>
<text x="104.2" y="140.8"><tspan font-style="italic">n</tspan>=1</text>
<text x="57.8" y="167.8"><tspan font-style="italic">n</tspan>=5</text>
<text x="117.8" y="167.8"><tspan font-style="italic">n</tspan>=5</text>
</g>
<g stroke="#e8f0ec" stroke-width="0.6" fill="none"><path d="M48.5,181 L48.5,188.5 L56,188.5"/></g>
<g class="w" font-family="'Liberation Serif', 'Times New Roman', serif" font-size="6" fill="#e8f0ec" font-style="italic"><text x="46" y="181">y</text><text x="56.5" y="190.8">x</text></g>
<g fill="none" stroke="#8a8a8a" stroke-width="0.75" stroke-dasharray="0.9 1.7">
<circle cx="557.6" cy="111.5" r="32.57"/>
<circle cx="557.6" cy="111.5" r="65.13"/>
<line x1="557.6" y1="111.5" x2="557.6" y2="13.8"/>
<line x1="557.6" y1="111.5" x2="508.75" y2="26.89"/>
<line x1="557.6" y1="111.5" x2="472.99" y2="62.65"/>
<line x1="557.6" y1="111.5" x2="459.9" y2="111.5"/>
<line x1="557.6" y1="111.5" x2="472.99" y2="160.35"/>
<line x1="557.6" y1="111.5" x2="508.75" y2="196.11"/>
<line x1="557.6" y1="111.5" x2="557.6" y2="209.2"/>
<line x1="557.6" y1="111.5" x2="606.45" y2="196.11"/>
<line x1="557.6" y1="111.5" x2="642.21" y2="160.35"/>
<line x1="557.6" y1="111.5" x2="655.3" y2="111.5"/>
<line x1="557.6" y1="111.5" x2="642.21" y2="62.65"/>
<line x1="557.6" y1="111.5" x2="606.45" y2="26.89"/>
</g>
<circle cx="557.6" cy="111.5" r="1.6" fill="none" stroke="#999" stroke-width="0.6"/>
<circle cx="557.6" cy="111.5" r="97.7" fill="none" stroke="#3a3a3a" stroke-width="1"/>
<g stroke="#3a3a3a" stroke-width="0.8">
<line x1="557.6" y1="13.8" x2="557.6" y2="16.2"/>
<line x1="532.31" y1="17.13" x2="532.93" y2="19.45"/>
<line x1="508.75" y1="26.89" x2="509.95" y2="28.97"/>
<line x1="488.52" y1="42.42" x2="490.21" y2="44.11"/>
<line x1="472.99" y1="62.65" x2="475.07" y2="63.85"/>
<line x1="463.23" y1="86.21" x2="465.55" y2="86.83"/>
<line x1="459.9" y1="111.5" x2="462.3" y2="111.5"/>
<line x1="463.23" y1="136.79" x2="465.55" y2="136.17"/>
<line x1="472.99" y1="160.35" x2="475.07" y2="159.15"/>
<line x1="488.52" y1="180.58" x2="490.21" y2="178.89"/>
<line x1="508.75" y1="196.11" x2="509.95" y2="194.03"/>
<line x1="532.31" y1="205.87" x2="532.93" y2="203.55"/>
<line x1="557.6" y1="209.2" x2="557.6" y2="206.8"/>
<line x1="582.89" y1="205.87" x2="582.27" y2="203.55"/>
<line x1="606.45" y1="196.11" x2="605.25" y2="194.03"/>
<line x1="626.68" y1="180.58" x2="624.99" y2="178.89"/>
<line x1="642.21" y1="160.35" x2="640.13" y2="159.15"/>
<line x1="651.97" y1="136.79" x2="649.65" y2="136.17"/>
<line x1="655.3" y1="111.5" x2="652.9" y2="111.5"/>
<line x1="651.97" y1="86.21" x2="649.65" y2="86.83"/>
<line x1="642.21" y1="62.65" x2="640.13" y2="63.85"/>
<line x1="626.68" y1="42.42" x2="624.99" y2="44.11"/>
<line x1="606.45" y1="26.89" x2="605.25" y2="28.97"/>
<line x1="582.89" y1="17.13" x2="582.27" y2="19.45"/>
</g>
<g fill="none" stroke-linejoin="round" stroke-linecap="round">
<path d="M654.5,111.5 L654.49,111.08 L654.49,110.65 L654.47,110.23 L654.46,109.81 L654.44,109.38 L654.42,108.96 L654.4,108.54 L654.37,108.12 L654.34,107.69 L654.31,107.27 L654.28,106.85 L654.24,106.43 L654.2,106.01 L654.16,105.59 L654.12,105.16 L654.07,104.74 L654.03,104.32 L653.98,103.9 L653.92,103.48 L653.87,103.07 L653.81,102.65 L653.75,102.23 L653.69,101.81 L653.63,101.39 L653.56,100.98 L653.49,100.56 L653.42,100.14 L653.34,99.73 L653.26,99.31 L653.18,98.9 L653.1,98.48 L653.01,98.07 L652.92,97.66 L652.83,97.25 L652.73,96.84 L652.63,96.43 L652.53,96.02 L652.43,95.61 L652.32,95.2 L652.21,94.79 L652.1,94.39 L651.98,93.98 L651.86,93.58 L651.74,93.18 L651.61,92.77 L651.49,92.37 L651.36,91.97 L651.22,91.57 L651.08,91.17 L650.94,90.78 L650.8,90.38 L650.65,89.99 L650.49,89.6 L650.32,89.21 L650.15,88.82 L649.97,88.44 L649.79,88.05 L649.6,87.67 L649.4,87.3 L649.2,86.92 L648.99,86.55 L648.78,86.18 L648.56,85.81 L648.35,85.44 L648.12,85.08 L647.9,84.71 L647.67,84.35 L647.44,83.99 L647.2,83.64 L646.97,83.28 L646.73,82.93 L646.49,82.57 L646.25,82.22 L646.01,81.87 L645.77,81.52 L645.53,81.18 L645.29,80.83 L645.05,80.49 L644.81,80.14 L644.57,79.8 L644.32,79.46 L644.07,79.12 L643.82,78.78 L643.57,78.45 L643.31,78.12 L643.05,77.79 L642.79,77.46 L642.53,77.13 L642.27,76.81 L642,76.49 L641.73,76.17 L641.46,75.85 L641.19,75.53 L640.92,75.22 L640.64,74.9 L640.37,74.59 L640.09,74.28 L639.81,73.97 L639.54,73.67 L639.26,73.36 L638.97,73.06 L638.69,72.76 L638.41,72.46 L638.13,72.16 L637.84,71.87 L637.56,71.57 L637.27,71.28 L636.98,70.99 L636.7,70.7 L636.41,70.41 L636.12,70.12 L635.83,69.84 L635.54,69.55 L635.24,69.27 L634.95,69 L634.65,68.72 L634.35,68.45 L634.05,68.18 L633.75,67.91 L633.44,67.64 L633.14,67.37 L632.83,67.11 L632.53,66.85 L632.22,66.59 L631.91,66.33 L631.6,66.07 L631.3,65.82 L630.99,65.56 L630.68,65.31 L630.37,65.06 L630.07,64.81 L629.76,64.56 L629.45,64.31 L629.15,64.06 L628.84,63.81 L628.54,63.57 L628.23,63.32 L627.93,63.08 L627.63,62.83 L627.33,62.59 L627.03,62.34 L626.74,62.1 L626.44,61.85 L626.15,61.61 L625.85,61.36 L625.56,61.12 L625.27,60.87 L624.98,60.63 L624.7,60.38 L624.41,60.14 L624.12,59.89 L623.84,59.65 L623.55,59.41 L623.27,59.17 L622.98,58.93 L622.7,58.68 L622.41,58.44 L622.12,58.21 L621.84,57.97 L621.55,57.73 L621.26,57.5 L620.98,57.26 L620.69,57.03 L620.4,56.8 L620.11,56.57 L619.81,56.35 L619.52,56.12 L619.22,55.9 L618.93,55.68 L618.63,55.46 L618.33,55.24 L618.03,55.03 L617.73,54.82 L617.42,54.61 L617.11,54.41 L616.8,54.21 L616.49,54.01 L616.18,53.81 L615.86,53.62 L615.54,53.43 L615.23,53.24 L614.91,53.05 L614.59,52.86 L614.27,52.68 L613.96,52.5 L613.64,52.32 L613.31,52.14 L612.99,51.96 L612.67,51.79 L612.35,51.62 L612.02,51.45 L611.69,51.28 L611.37,51.12 L611.04,50.96 L610.7,50.8 L610.37,50.65 L610.04,50.5 L609.7,50.35 L609.36,50.2 L609.02,50.06 L608.68,49.93 L608.34,49.79 L607.99,49.67 L607.65,49.54 L607.3,49.42 L606.94,49.31 L606.59,49.19 L606.23,49.09 L605.88,48.99 L605.52,48.89 L605.15,48.8 L604.79,48.71 L604.42,48.63 L604.04,48.56 L603.66,48.51 L603.28,48.46 L602.88,48.43 L602.48,48.4 L602.07,48.39 L601.66,48.39 L601.25,48.4 L600.83,48.43 L600.4,48.46 L599.97,48.49 L599.54,48.54 L599.11,48.6 L598.67,48.66 L598.24,48.74 L597.8,48.81 L597.36,48.9 L596.92,48.99 L596.48,49.09 L596.04,49.19 L595.6,49.3 L595.16,49.41 L594.72,49.52 L594.28,49.64 L593.85,49.76 L593.42,49.88 L592.99,50 L592.56,50.13 L592.13,50.25 L591.71,50.38 L591.29,50.5 L590.88,50.63 L590.47,50.75 L590.06,50.87 L589.66,50.99 L589.25,51.12 L588.85,51.25 L588.44,51.39 L588.04,51.54 L587.63,51.69 L587.22,51.85 L586.82,52.02 L586.42,52.19 L586.01,52.36 L585.61,52.54 L585.21,52.72 L584.81,52.9 L584.42,53.08 L584.02,53.27 L583.63,53.46 L583.25,53.65 L582.86,53.84 L582.48,54.03 L582.1,54.22 L581.72,54.41 L581.35,54.6 L580.98,54.78 L580.62,54.96 L580.26,55.14 L579.91,55.32 L579.55,55.49 L579.21,55.66 L578.86,55.83 L578.53,55.98 L578.19,56.14 L577.86,56.28 L577.54,56.42 L577.22,56.55 L576.91,56.67 L576.6,56.79 L576.3,56.9 L575.99,57 L575.7,57.1 L575.4,57.19 L575.11,57.28 L574.83,57.36 L574.54,57.44 L574.26,57.52 L573.98,57.59 L573.7,57.67 L573.42,57.74 L573.14,57.81 L572.87,57.89 L572.59,57.96 L572.32,58.04 L572.05,58.12 L571.78,58.21 L571.5,58.3 L571.23,58.39 L570.96,58.49 L570.69,58.6 L570.41,58.71 L570.14,58.83 L569.87,58.96 L569.6,59.09 L569.32,59.24 L569.05,59.4 L568.77,59.57 L568.5,59.75 L568.22,59.94 L567.94,60.15 L567.67,60.38 L567.39,60.63 L567.11,60.89 L566.83,61.18 L566.55,61.47 L566.27,61.78 L565.99,62.11 L565.71,62.45 L565.43,62.81 L565.16,63.17 L564.88,63.55 L564.61,63.94 L564.34,64.34 L564.08,64.75 L563.81,65.17 L563.55,65.6 L563.29,66.04 L563.03,66.5 L562.78,66.99 L562.52,67.52 L562.27,68.08 L562.01,68.68 L561.76,69.33 L561.51,70.03 L561.26,70.79 L561,71.64 L560.75,72.6 L560.5,73.7 L560.24,74.98 L559.96,76.67 L559.68,78.71 L559.41,80.93 L559.15,83.18 L558.9,85.56 L558.67,88.09 L558.46,90.69 L558.27,93.39 L558.1,96.27 L557.95,99.13 L557.83,101.73 L557.74,104.21 L557.68,106.53 L557.63,108.35 L557.61,109.78 L557.6,110.83 L557.6,110.83 L557.59,109.78 L557.57,108.35 L557.52,106.53 L557.46,104.21 L557.37,101.73 L557.25,99.13 L557.1,96.27 L556.93,93.39 L556.74,90.69 L556.53,88.09 L556.3,85.56 L556.05,83.18 L555.79,80.93 L555.52,78.71 L555.24,76.67 L554.96,74.98 L554.7,73.7 L554.45,72.6 L554.2,71.64 L553.94,70.79 L553.69,70.03 L553.44,69.33 L553.19,68.67 L552.93,68.06 L552.68,67.48 L552.42,66.95 L552.16,66.46 L551.9,66 L551.65,65.58 L551.39,65.19 L551.13,64.82 L550.88,64.48 L550.62,64.15 L550.36,63.85 L550.1,63.57 L549.85,63.31 L549.59,63.07 L549.34,62.86 L549.09,62.66 L548.83,62.48 L548.58,62.32 L548.33,62.16 L548.08,62.02 L547.83,61.88 L547.58,61.75 L547.33,61.63 L547.07,61.52 L546.82,61.4 L546.57,61.29 L546.31,61.19 L546.06,61.08 L545.8,60.97 L545.54,60.85 L545.28,60.74 L545.01,60.61 L544.74,60.49 L544.47,60.36 L544.2,60.23 L543.93,60.11 L543.65,59.98 L543.38,59.86 L543.1,59.73 L542.82,59.61 L542.54,59.49 L542.26,59.36 L541.97,59.24 L541.69,59.12 L541.4,59 L541.11,58.88 L540.82,58.76 L540.53,58.64 L540.23,58.52 L539.93,58.4 L539.64,58.28 L539.33,58.15 L539.03,58.04 L538.73,57.92 L538.42,57.8 L538.12,57.68 L537.81,57.57 L537.5,57.45 L537.18,57.34 L536.87,57.23 L536.55,57.11 L536.24,57 L535.91,56.88 L535.59,56.77 L535.27,56.65 L534.94,56.54 L534.61,56.42 L534.28,56.3 L533.94,56.18 L533.6,56.06 L533.26,55.94 L532.92,55.82 L532.57,55.69 L532.22,55.57 L531.87,55.45 L531.51,55.32 L531.15,55.2 L530.79,55.07 L530.43,54.94 L530.06,54.82 L529.69,54.69 L529.32,54.56 L528.94,54.43 L528.56,54.29 L528.18,54.16 L527.79,54.02 L527.4,53.89 L527,53.75 L526.6,53.6 L526.2,53.46 L525.79,53.31 L525.38,53.16 L524.96,53.01 L524.54,52.86 L524.1,52.69 L523.65,52.49 L523.18,52.28 L522.69,52.04 L522.19,51.79 L521.68,51.53 L521.16,51.26 L520.63,50.98 L520.1,50.71 L519.56,50.43 L519.01,50.15 L518.46,49.88 L517.91,49.61 L517.37,49.36 L516.82,49.12 L516.29,48.9 L515.76,48.69 L515.24,48.51 L514.73,48.35 L514.23,48.22 L513.75,48.11 L513.29,48.04 L512.85,48 L512.43,48 L512.04,48.04 L511.68,48.12 L511.32,48.21 L510.97,48.31 L510.62,48.41 L510.28,48.53 L509.94,48.66 L509.61,48.79 L509.28,48.93 L508.95,49.07 L508.63,49.22 L508.31,49.38 L507.99,49.53 L507.67,49.69 L507.36,49.85 L507.04,50.01 L506.72,50.17 L506.4,50.33 L506.08,50.49 L505.76,50.65 L505.43,50.81 L505.1,50.96 L504.78,51.12 L504.45,51.28 L504.12,51.44 L503.79,51.6 L503.46,51.76 L503.13,51.92 L502.81,52.09 L502.48,52.25 L502.15,52.42 L501.82,52.59 L501.5,52.76 L501.17,52.93 L500.84,53.11 L500.52,53.28 L500.19,53.46 L499.87,53.64 L499.55,53.83 L499.23,54.01 L498.91,54.2 L498.59,54.39 L498.27,54.58 L497.95,54.78 L497.64,54.97 L497.32,55.17 L497.01,55.38 L496.7,55.58 L496.39,55.79 L496.09,56 L495.79,56.22 L495.48,56.43 L495.19,56.65 L494.89,56.88 L494.6,57.1 L494.3,57.33 L494.01,57.56 L493.73,57.8 L493.44,58.04 L493.16,58.27 L492.88,58.52 L492.6,58.76 L492.32,59 L492.04,59.25 L491.76,59.5 L491.49,59.75 L491.22,60 L490.94,60.26 L490.67,60.51 L490.4,60.77 L490.13,61.02 L489.86,61.28 L489.59,61.54 L489.32,61.8 L489.05,62.06 L488.78,62.32 L488.51,62.58 L488.24,62.85 L487.97,63.11 L487.7,63.37 L487.43,63.63 L487.15,63.9 L486.88,64.16 L486.6,64.43 L486.33,64.69 L486.05,64.95 L485.77,65.22 L485.49,65.48 L485.21,65.74 L484.92,66 L484.62,66.26 L484.31,66.51 L484,66.76 L483.69,67.01 L483.37,67.26 L483.05,67.51 L482.73,67.76 L482.4,68.01 L482.08,68.26 L481.75,68.52 L481.43,68.77 L481.11,69.03 L480.79,69.29 L480.48,69.56 L480.17,69.83 L479.86,70.1 L479.57,70.38 L479.28,70.66 L478.99,70.95 L478.71,71.24 L478.43,71.53 L478.15,71.82 L477.88,72.12 L477.6,72.42 L477.33,72.72 L477.06,73.02 L476.8,73.33 L476.53,73.64 L476.27,73.95 L476.01,74.26 L475.75,74.57 L475.49,74.89 L475.24,75.2 L474.99,75.52 L474.74,75.84 L474.49,76.17 L474.24,76.49 L474,76.82 L473.75,77.14 L473.51,77.47 L473.27,77.8 L473.03,78.14 L472.79,78.47 L472.56,78.81 L472.32,79.14 L472.09,79.48 L471.86,79.82 L471.62,80.16 L471.39,80.5 L471.17,80.85 L470.94,81.19 L470.71,81.54 L470.48,81.88 L470.25,82.23 L470.02,82.58 L469.79,82.93 L469.56,83.28 L469.33,83.63 L469.11,83.98 L468.88,84.34 L468.66,84.69 L468.43,85.05 L468.21,85.41 L467.99,85.77 L467.78,86.13 L467.56,86.49 L467.35,86.86 L467.15,87.23 L466.95,87.6 L466.75,87.97 L466.56,88.34 L466.37,88.72 L466.19,89.1 L466.01,89.48 L465.84,89.86 L465.67,90.25 L465.51,90.63 L465.36,91.02 L465.21,91.41 L465.08,91.81 L464.94,92.2 L464.81,92.6 L464.69,92.99 L464.56,93.39 L464.44,93.79 L464.32,94.19 L464.21,94.59 L464.09,94.99 L463.99,95.39 L463.88,95.79 L463.78,96.2 L463.68,96.6 L463.58,97.01 L463.49,97.42 L463.4,97.82 L463.32,98.23 L463.24,98.64 L463.16,99.05 L463.09,99.46 L463.02,99.87 L462.96,100.28 L462.9,100.7 L462.84,101.11 L462.79,101.52 L462.73,101.93 L462.68,102.35 L462.63,102.76 L462.58,103.18 L462.54,103.59 L462.49,104 L462.45,104.42 L462.41,104.83 L462.37,105.25 L462.34,105.67 L462.31,106.08 L462.28,106.5 L462.25,106.91 L462.22,107.33 L462.2,107.75 L462.18,108.16 L462.16,108.58 L462.14,109 L462.13,109.41 L462.12,109.83 L462.11,110.25 L462.11,110.67 L462.1,111.08 L462.1,111.5" stroke="#e2474b" stroke-width="2.5"/>
<path d="M653.4,111.5 L653.4,111.08 L653.4,110.66 L653.39,110.24 L653.39,109.83 L653.38,109.41 L653.37,108.99 L653.36,108.57 L653.34,108.15 L653.33,107.73 L653.31,107.32 L653.29,106.9 L653.27,106.48 L653.24,106.06 L653.22,105.64 L653.19,105.23 L653.15,104.81 L653.11,104.39 L653.07,103.98 L653.02,103.56 L652.97,103.14 L652.92,102.73 L652.86,102.31 L652.8,101.9 L652.74,101.49 L652.67,101.07 L652.6,100.66 L652.53,100.25 L652.45,99.84 L652.37,99.43 L652.29,99.02 L652.21,98.61 L652.12,98.2 L652.03,97.79 L651.93,97.38 L651.83,96.98 L651.73,96.57 L651.63,96.16 L651.52,95.76 L651.41,95.36 L651.3,94.95 L651.19,94.55 L651.07,94.15 L650.95,93.75 L650.83,93.35 L650.69,92.96 L650.54,92.56 L650.37,92.18 L650.18,91.79 L649.99,91.41 L649.78,91.04 L649.56,90.66 L649.33,90.29 L649.08,89.93 L648.83,89.57 L648.57,89.21 L648.3,88.85 L648.03,88.5 L647.74,88.15 L647.46,87.81 L647.16,87.47 L646.87,87.13 L646.57,86.79 L646.26,86.46 L645.96,86.13 L645.65,85.8 L645.35,85.47 L645.04,85.14 L644.74,84.82 L644.44,84.5 L644.14,84.18 L643.84,83.85 L643.55,83.53 L643.25,83.21 L642.96,82.9 L642.65,82.58 L642.35,82.27 L642.04,81.97 L641.73,81.66 L641.41,81.36 L641.09,81.06 L640.77,80.77 L640.45,80.48 L640.13,80.19 L639.8,79.9 L639.47,79.61 L639.14,79.33 L638.81,79.05 L638.48,78.77 L638.14,78.5 L637.81,78.23 L637.47,77.95 L637.14,77.69 L636.81,77.42 L636.47,77.15 L636.14,76.89 L635.81,76.63 L635.47,76.37 L635.14,76.11 L634.81,75.85 L634.49,75.59 L634.16,75.33 L633.84,75.08 L633.52,74.82 L633.19,74.57 L632.86,74.33 L632.52,74.09 L632.18,73.85 L631.83,73.62 L631.48,73.39 L631.12,73.17 L630.76,72.95 L630.4,72.73 L630.04,72.51 L629.68,72.3 L629.32,72.09 L628.96,71.88 L628.6,71.67 L628.24,71.47 L627.89,71.26 L627.55,71.05 L627.2,70.84 L626.87,70.63 L626.54,70.42 L626.21,70.2 L625.9,69.98 L625.59,69.76 L625.3,69.54 L625.01,69.3 L624.73,69.07 L624.47,68.83 L624.22,68.58 L623.97,68.32 L623.75,68.06 L623.53,67.78 L623.33,67.5 L623.14,67.21 L622.95,66.93 L622.75,66.64 L622.55,66.36 L622.36,66.08 L622.16,65.79 L621.96,65.51 L621.76,65.23 L621.55,64.95 L621.35,64.67 L621.14,64.39 L620.94,64.12 L620.73,63.84 L620.52,63.56 L620.31,63.29 L620.1,63.02 L619.89,62.74 L619.67,62.47 L619.46,62.2 L619.24,61.93 L619.03,61.66 L618.81,61.39 L618.6,61.12 L618.39,60.84 L618.19,60.56 L617.99,60.27 L617.8,59.99 L617.6,59.7 L617.41,59.4 L617.22,59.11 L617.03,58.81 L616.84,58.52 L616.65,58.22 L616.47,57.92 L616.28,57.62 L616.09,57.32 L615.9,57.02 L615.71,56.72 L615.52,56.42 L615.33,56.12 L615.13,55.82 L614.94,55.52 L614.74,55.23 L614.54,54.94 L614.33,54.65 L614.12,54.36 L613.91,54.07 L613.69,53.79 L613.47,53.51 L613.25,53.24 L613.02,52.97 L612.78,52.71 L612.54,52.45 L612.3,52.19 L612.05,51.94 L611.79,51.7 L611.53,51.47 L611.26,51.23 L610.99,51.01 L610.72,50.78 L610.44,50.56 L610.17,50.35 L609.88,50.13 L609.6,49.93 L609.31,49.72 L609.02,49.52 L608.73,49.32 L608.43,49.13 L608.13,48.94 L607.83,48.75 L607.53,48.57 L607.22,48.39 L606.91,48.22 L606.6,48.04 L606.29,47.88 L605.98,47.71 L605.66,47.55 L605.35,47.39 L605.03,47.23 L604.71,47.08 L604.38,46.93 L604.06,46.78 L603.74,46.64 L603.41,46.5 L603.08,46.36 L602.76,46.22 L602.43,46.09 L602.1,45.96 L601.76,45.83 L601.43,45.71 L601.09,45.6 L600.73,45.52 L600.37,45.45 L599.99,45.39 L599.61,45.36 L599.22,45.34 L598.82,45.33 L598.42,45.33 L598.01,45.35 L597.59,45.38 L597.18,45.42 L596.76,45.46 L596.34,45.52 L595.92,45.58 L595.49,45.65 L595.07,45.72 L594.65,45.79 L594.23,45.87 L593.81,45.95 L593.39,46.03 L592.98,46.1 L592.57,46.18 L592.17,46.25 L591.77,46.32 L591.38,46.38 L590.99,46.43 L590.61,46.47 L590.23,46.51 L589.86,46.54 L589.5,46.56 L589.13,46.59 L588.77,46.62 L588.41,46.65 L588.04,46.68 L587.68,46.72 L587.32,46.75 L586.97,46.79 L586.61,46.82 L586.26,46.86 L585.9,46.89 L585.55,46.93 L585.2,46.96 L584.86,46.99 L584.51,47.02 L584.17,47.05 L583.83,47.07 L583.5,47.1 L583.16,47.11 L582.83,47.13 L582.5,47.14 L582.18,47.15 L581.86,47.15 L581.54,47.15 L581.22,47.14 L580.91,47.13 L580.59,47.11 L580.28,47.1 L579.97,47.09 L579.66,47.09 L579.34,47.08 L579.03,47.07 L578.72,47.07 L578.41,47.06 L578.1,47.06 L577.8,47.05 L577.49,47.04 L577.18,47.03 L576.88,47.02 L576.58,47.01 L576.28,47 L575.97,46.98 L575.68,46.96 L575.38,46.94 L575.08,46.92 L574.79,46.89 L574.49,46.85 L574.2,46.81 L573.91,46.77 L573.62,46.72 L573.34,46.67 L573.05,46.61 L572.77,46.55 L572.49,46.47 L572.21,46.37 L571.94,46.25 L571.67,46.12 L571.4,45.98 L571.13,45.84 L570.86,45.69 L570.59,45.53 L570.32,45.38 L570.05,45.23 L569.78,45.09 L569.5,44.95 L569.22,44.83 L568.94,44.72 L568.66,44.63 L568.37,44.56 L568.07,44.51 L567.78,44.47 L567.49,44.44 L567.19,44.41 L566.9,44.39 L566.6,44.38 L566.3,44.36 L566,44.36 L565.71,44.35 L565.41,44.35 L565.11,44.36 L564.81,44.37 L564.52,44.38 L564.22,44.39 L563.92,44.4 L563.62,44.43 L563.33,44.47 L563.03,44.53 L562.73,44.6 L562.42,44.69 L562.12,44.79 L561.83,44.9 L561.53,45.01 L561.23,45.13 L560.93,45.25 L560.64,45.37 L560.34,45.49 L560.05,45.61 L559.76,45.72 L559.47,45.83 L559.18,45.92 L558.89,46.01 L558.6,46.08 L558.31,46.14 L558.03,46.18 L557.74,46.2 L557.46,46.2 L557.17,46.18 L556.89,46.15 L556.6,46.11 L556.31,46.05 L556.03,45.99 L555.74,45.91 L555.45,45.84 L555.16,45.75 L554.87,45.67 L554.57,45.58 L554.28,45.49 L553.99,45.41 L553.69,45.33 L553.4,45.26 L553.1,45.19 L552.81,45.13 L552.51,45.06 L552.21,44.99 L551.91,44.91 L551.61,44.83 L551.31,44.75 L551.01,44.67 L550.71,44.6 L550.4,44.53 L550.1,44.46 L549.8,44.41 L549.49,44.36 L549.19,44.33 L548.89,44.32 L548.59,44.32 L548.3,44.34 L548,44.39 L547.71,44.45 L547.43,44.52 L547.14,44.62 L546.86,44.72 L546.58,44.84 L546.3,44.96 L546.02,45.09 L545.75,45.22 L545.47,45.36 L545.2,45.5 L544.93,45.63 L544.66,45.77 L544.38,45.89 L544.11,46.01 L543.83,46.12 L543.55,46.21 L543.28,46.31 L543,46.41 L542.72,46.51 L542.45,46.61 L542.17,46.72 L541.9,46.82 L541.62,46.92 L541.35,47.01 L541.07,47.11 L540.8,47.21 L540.52,47.3 L540.25,47.39 L539.97,47.48 L539.69,47.56 L539.41,47.64 L539.13,47.7 L538.83,47.73 L538.54,47.75 L538.23,47.75 L537.92,47.73 L537.61,47.71 L537.29,47.67 L536.97,47.62 L536.64,47.56 L536.31,47.5 L535.98,47.44 L535.64,47.37 L535.31,47.31 L534.97,47.25 L534.64,47.2 L534.3,47.15 L533.97,47.11 L533.63,47.06 L533.29,47 L532.94,46.95 L532.6,46.88 L532.24,46.82 L531.89,46.75 L531.53,46.67 L531.17,46.6 L530.81,46.53 L530.45,46.45 L530.08,46.38 L529.72,46.31 L529.35,46.24 L528.98,46.18 L528.61,46.11 L528.24,46.05 L527.88,46 L527.51,45.95 L527.14,45.9 L526.76,45.84 L526.38,45.78 L526,45.72 L525.61,45.66 L525.23,45.6 L524.84,45.53 L524.44,45.47 L524.05,45.4 L523.65,45.34 L523.25,45.28 L522.86,45.22 L522.46,45.16 L522.05,45.11 L521.65,45.06 L521.25,45.01 L520.85,44.97 L520.45,44.93 L520.05,44.9 L519.65,44.87 L519.25,44.85 L518.85,44.84 L518.46,44.83 L518.07,44.83 L517.68,44.84 L517.29,44.86 L516.91,44.89 L516.53,44.92 L516.16,44.97 L515.79,45.03 L515.42,45.09 L515.07,45.17 L514.71,45.26 L514.37,45.36 L514.03,45.47 L513.69,45.59 L513.36,45.71 L513.02,45.84 L512.69,45.96 L512.35,46.09 L512.02,46.22 L511.69,46.36 L511.36,46.5 L511.04,46.64 L510.71,46.79 L510.39,46.94 L510.07,47.1 L509.76,47.26 L509.45,47.43 L509.14,47.61 L508.84,47.79 L508.55,47.98 L508.26,48.18 L507.97,48.38 L507.69,48.59 L507.42,48.82 L507.16,49.05 L506.9,49.29 L506.66,49.54 L506.42,49.81 L506.19,50.08 L505.96,50.35 L505.74,50.63 L505.53,50.92 L505.32,51.21 L505.11,51.51 L504.91,51.8 L504.71,52.1 L504.51,52.4 L504.31,52.7 L504.12,53 L503.92,53.29 L503.72,53.58 L503.51,53.87 L503.31,54.16 L503.11,54.45 L502.91,54.74 L502.72,55.04 L502.53,55.34 L502.34,55.64 L502.16,55.94 L501.98,56.24 L501.8,56.55 L501.63,56.85 L501.45,57.16 L501.28,57.47 L501.1,57.77 L500.93,58.08 L500.76,58.38 L500.59,58.69 L500.41,58.99 L500.24,59.29 L500.06,59.59 L499.89,59.88 L499.71,60.18 L499.53,60.47 L499.34,60.76 L499.16,61.04 L498.96,61.32 L498.77,61.6 L498.57,61.87 L498.36,62.14 L498.15,62.4 L497.94,62.66 L497.72,62.92 L497.51,63.18 L497.29,63.44 L497.07,63.69 L496.86,63.95 L496.64,64.21 L496.42,64.47 L496.2,64.72 L495.98,64.98 L495.76,65.24 L495.54,65.49 L495.32,65.75 L495.1,66 L494.87,66.26 L494.65,66.52 L494.43,66.78 L494.21,67.03 L493.99,67.29 L493.76,67.55 L493.54,67.81 L493.32,68.07 L493.1,68.32 L492.88,68.58 L492.65,68.84 L492.43,69.1 L492.18,69.35 L491.93,69.59 L491.66,69.82 L491.39,70.05 L491.1,70.28 L490.8,70.49 L490.49,70.71 L490.18,70.92 L489.85,71.13 L489.52,71.33 L489.18,71.53 L488.84,71.74 L488.5,71.94 L488.15,72.14 L487.79,72.34 L487.44,72.54 L487.08,72.75 L486.72,72.95 L486.37,73.16 L486.01,73.37 L485.66,73.59 L485.3,73.8 L484.96,74.03 L484.61,74.25 L484.28,74.48 L483.95,74.72 L483.62,74.96 L483.3,75.2 L482.98,75.45 L482.66,75.7 L482.33,75.95 L482.01,76.2 L481.69,76.45 L481.36,76.7 L481.04,76.96 L480.72,77.22 L480.39,77.47 L480.07,77.74 L479.75,78 L479.43,78.27 L479.11,78.53 L478.79,78.8 L478.47,79.08 L478.16,79.35 L477.84,79.63 L477.53,79.91 L477.22,80.19 L476.91,80.48 L476.61,80.77 L476.3,81.06 L476,81.35 L475.7,81.65 L475.4,81.94 L475.1,82.24 L474.81,82.54 L474.51,82.85 L474.21,83.15 L473.91,83.46 L473.62,83.77 L473.32,84.08 L473.03,84.39 L472.74,84.71 L472.46,85.02 L472.17,85.34 L471.89,85.67 L471.61,85.99 L471.33,86.32 L471.06,86.65 L470.79,86.98 L470.53,87.32 L470.27,87.66 L470.01,88 L469.76,88.34 L469.52,88.69 L469.28,89.04 L469.04,89.39 L468.81,89.74 L468.58,90.1 L468.36,90.46 L468.14,90.82 L467.92,91.18 L467.71,91.54 L467.49,91.91 L467.29,92.28 L467.08,92.64 L466.88,93.02 L466.68,93.39 L466.48,93.76 L466.29,94.14 L466.11,94.52 L465.92,94.9 L465.75,95.28 L465.57,95.66 L465.4,96.05 L465.24,96.44 L465.08,96.83 L464.92,97.22 L464.77,97.61 L464.63,98 L464.49,98.4 L464.35,98.79 L464.21,99.19 L464.08,99.59 L463.94,99.98 L463.81,100.38 L463.68,100.78 L463.56,101.19 L463.43,101.59 L463.32,101.99 L463.2,102.4 L463.1,102.8 L462.99,103.21 L462.9,103.62 L462.81,104.03 L462.72,104.44 L462.65,104.85 L462.58,105.26 L462.52,105.68 L462.47,106.09 L462.43,106.51 L462.4,106.92 L462.36,107.34 L462.33,107.75 L462.31,108.17 L462.28,108.58 L462.26,109 L462.24,109.42 L462.23,109.83 L462.22,110.25 L462.21,110.67 L462.2,111.08 L462.2,111.5" stroke="#c9d64c" stroke-width="2.5"/>
<path d="M648,111.5 L648,111.11 L647.99,110.71 L647.99,110.32 L647.98,109.92 L647.96,109.53 L647.95,109.13 L647.93,108.74 L647.9,108.34 L647.88,107.95 L647.85,107.55 L647.82,107.16 L647.79,106.77 L647.75,106.37 L647.71,105.98 L647.67,105.59 L647.62,105.2 L647.57,104.8 L647.52,104.41 L647.47,104.02 L647.41,103.63 L647.36,103.24 L647.3,102.85 L647.23,102.46 L647.17,102.07 L647.1,101.68 L647.03,101.3 L646.95,100.91 L646.88,100.52 L646.8,100.14 L646.72,99.75 L646.63,99.37 L646.55,98.98 L646.46,98.6 L646.37,98.21 L646.28,97.83 L646.18,97.45 L646.08,97.07 L645.98,96.69 L645.88,96.31 L645.78,95.93 L645.67,95.55 L645.56,95.17 L645.45,94.8 L645.34,94.42 L645.23,94.05 L645.11,93.67 L644.99,93.3 L644.87,92.92 L644.75,92.55 L644.62,92.18 L644.5,91.81 L644.37,91.44 L644.24,91.07 L644.11,90.7 L643.97,90.33 L643.84,89.97 L643.7,89.6 L643.56,89.24 L643.42,88.87 L643.27,88.51 L643.11,88.15 L642.95,87.8 L642.79,87.44 L642.61,87.09 L642.44,86.74 L642.26,86.39 L642.07,86.04 L641.88,85.69 L641.69,85.35 L641.49,85.01 L641.29,84.67 L641.08,84.33 L640.88,84 L640.66,83.67 L640.45,83.33 L640.23,83 L640.01,82.68 L639.79,82.35 L639.57,82.03 L639.34,81.7 L639.11,81.38 L638.88,81.06 L638.65,80.75 L638.42,80.43 L638.18,80.12 L637.95,79.8 L637.71,79.49 L637.48,79.18 L637.24,78.87 L637,78.56 L636.77,78.25 L636.53,77.94 L636.29,77.64 L636.05,77.33 L635.81,77.03 L635.56,76.73 L635.31,76.44 L635.06,76.14 L634.8,75.85 L634.54,75.56 L634.28,75.28 L634.02,74.99 L633.75,74.71 L633.48,74.43 L633.21,74.15 L632.94,73.87 L632.67,73.6 L632.4,73.33 L632.13,73.05 L631.85,72.78 L631.58,72.51 L631.31,72.25 L631.03,71.98 L630.76,71.71 L630.49,71.45 L630.22,71.18 L629.95,70.92 L629.68,70.65 L629.41,70.39 L629.14,70.13 L628.88,69.86 L628.62,69.6 L628.36,69.33 L628.1,69.07 L627.84,68.8 L627.59,68.54 L627.34,68.27 L627.1,68 L626.85,67.73 L626.6,67.46 L626.35,67.2 L626.1,66.94 L625.85,66.67 L625.6,66.41 L625.35,66.15 L625.09,65.89 L624.84,65.64 L624.59,65.38 L624.33,65.12 L624.08,64.87 L623.82,64.61 L623.57,64.36 L623.32,64.1 L623.07,63.85 L622.81,63.59 L622.56,63.34 L622.31,63.09 L622.07,62.83 L621.82,62.58 L621.57,62.32 L621.33,62.06 L621.08,61.81 L620.84,61.55 L620.61,61.29 L620.37,61.03 L620.13,60.76 L619.9,60.5 L619.67,60.23 L619.44,59.97 L619.22,59.7 L618.99,59.42 L618.77,59.15 L618.55,58.87 L618.34,58.59 L618.12,58.32 L617.91,58.03 L617.7,57.75 L617.49,57.47 L617.28,57.18 L617.07,56.89 L616.86,56.61 L616.65,56.32 L616.44,56.03 L616.24,55.74 L616.03,55.45 L615.82,55.16 L615.61,54.87 L615.4,54.57 L615.19,54.28 L614.98,53.99 L614.77,53.7 L614.56,53.41 L614.35,53.12 L614.13,52.83 L613.92,52.54 L613.7,52.25 L613.48,51.96 L613.26,51.68 L613.03,51.39 L612.81,51.11 L612.58,50.83 L612.35,50.55 L612.12,50.27 L611.88,50 L611.64,49.73 L611.4,49.46 L611.16,49.19 L610.91,48.93 L610.66,48.67 L610.41,48.41 L610.15,48.16 L609.89,47.91 L609.62,47.67 L609.36,47.42 L609.09,47.19 L608.81,46.95 L608.53,46.73 L608.25,46.5 L607.96,46.28 L607.68,46.07 L607.39,45.85 L607.1,45.64 L606.81,45.42 L606.52,45.21 L606.22,45.01 L605.93,44.8 L605.63,44.59 L605.33,44.39 L605.03,44.19 L604.73,43.99 L604.43,43.8 L604.13,43.6 L603.83,43.41 L603.52,43.22 L603.22,43.03 L602.91,42.84 L602.6,42.66 L602.29,42.47 L601.98,42.29 L601.67,42.11 L601.36,41.93 L601.04,41.76 L600.73,41.58 L600.41,41.41 L600.1,41.24 L599.78,41.07 L599.46,40.9 L599.15,40.74 L598.83,40.57 L598.51,40.41 L598.19,40.25 L597.86,40.09 L597.54,39.93 L597.22,39.77 L596.9,39.62 L596.57,39.47 L596.25,39.32 L595.92,39.17 L595.6,39.02 L595.27,38.87 L594.94,38.72 L594.61,38.58 L594.28,38.44 L593.95,38.31 L593.62,38.17 L593.29,38.04 L592.95,37.92 L592.61,37.79 L592.28,37.67 L591.94,37.56 L591.6,37.44 L591.26,37.33 L590.92,37.22 L590.58,37.11 L590.23,37.01 L589.89,36.91 L589.55,36.81 L589.2,36.72 L588.86,36.62 L588.51,36.53 L588.16,36.44 L587.82,36.35 L587.47,36.27 L587.12,36.19 L586.77,36.11 L586.43,36.03 L586.08,35.95 L585.73,35.87 L585.38,35.8 L585.03,35.73 L584.68,35.66 L584.34,35.59 L583.99,35.52 L583.64,35.45 L583.29,35.39 L582.94,35.32 L582.59,35.26 L582.24,35.2 L581.9,35.14 L581.55,35.08 L581.2,35.02 L580.85,34.96 L580.51,34.9 L580.16,34.84 L579.81,34.79 L579.46,34.73 L579.12,34.67 L578.77,34.61 L578.43,34.56 L578.08,34.5 L577.74,34.44 L577.39,34.39 L577.05,34.33 L576.7,34.28 L576.36,34.22 L576.01,34.17 L575.67,34.12 L575.32,34.07 L574.98,34.03 L574.63,33.98 L574.29,33.94 L573.94,33.9 L573.6,33.86 L573.25,33.82 L572.9,33.78 L572.56,33.75 L572.21,33.71 L571.87,33.68 L571.52,33.65 L571.18,33.62 L570.83,33.59 L570.49,33.57 L570.14,33.54 L569.79,33.51 L569.45,33.49 L569.1,33.47 L568.76,33.45 L568.41,33.43 L568.07,33.41 L567.72,33.39 L567.38,33.37 L567.03,33.36 L566.69,33.34 L566.35,33.33 L566,33.32 L565.66,33.3 L565.31,33.29 L564.97,33.28 L564.63,33.27 L564.28,33.26 L563.94,33.26 L563.6,33.25 L563.25,33.24 L562.91,33.24 L562.57,33.23 L562.22,33.23 L561.88,33.22 L561.54,33.22 L561.19,33.21 L560.85,33.21 L560.51,33.21 L560.17,33.21 L559.82,33.2 L559.48,33.2 L559.14,33.2 L558.8,33.2 L558.46,33.2 L558.11,33.2 L557.77,33.2 L557.43,33.2 L557.09,33.2 L556.74,33.2 L556.4,33.2 L556.06,33.2 L555.72,33.2 L555.38,33.2 L555.03,33.21 L554.69,33.21 L554.35,33.21 L554.01,33.21 L553.66,33.22 L553.32,33.22 L552.98,33.23 L552.63,33.23 L552.29,33.24 L551.95,33.25 L551.61,33.25 L551.26,33.26 L550.92,33.27 L550.57,33.28 L550.23,33.29 L549.89,33.3 L549.54,33.32 L549.2,33.33 L548.86,33.35 L548.51,33.36 L548.17,33.38 L547.82,33.4 L547.48,33.42 L547.13,33.44 L546.79,33.46 L546.45,33.48 L546.1,33.51 L545.76,33.53 L545.41,33.56 L545.07,33.59 L544.72,33.62 L544.38,33.65 L544.04,33.69 L543.69,33.72 L543.35,33.76 L543,33.8 L542.66,33.84 L542.31,33.88 L541.97,33.92 L541.63,33.97 L541.28,34.02 L540.94,34.07 L540.6,34.12 L540.25,34.17 L539.91,34.22 L539.57,34.28 L539.23,34.34 L538.89,34.4 L538.54,34.46 L538.2,34.53 L537.86,34.59 L537.52,34.66 L537.18,34.73 L536.84,34.8 L536.5,34.87 L536.16,34.94 L535.82,35.01 L535.48,35.09 L535.14,35.16 L534.8,35.24 L534.46,35.32 L534.12,35.4 L533.78,35.48 L533.44,35.57 L533.1,35.65 L532.76,35.74 L532.43,35.83 L532.09,35.92 L531.75,36.01 L531.41,36.1 L531.08,36.19 L530.74,36.29 L530.4,36.38 L530.07,36.48 L529.73,36.58 L529.4,36.68 L529.06,36.78 L528.73,36.89 L528.39,36.99 L528.06,37.1 L527.72,37.2 L527.39,37.31 L527.06,37.42 L526.72,37.53 L526.39,37.64 L526.06,37.76 L525.73,37.87 L525.4,37.99 L525.06,38.11 L524.73,38.22 L524.4,38.34 L524.07,38.47 L523.74,38.59 L523.41,38.71 L523.08,38.84 L522.75,38.96 L522.42,39.09 L522.09,39.22 L521.77,39.35 L521.44,39.48 L521.11,39.61 L520.78,39.74 L520.45,39.87 L520.12,40 L519.79,40.13 L519.46,40.26 L519.13,40.4 L518.8,40.53 L518.48,40.67 L518.15,40.81 L517.82,40.95 L517.49,41.09 L517.17,41.23 L516.84,41.38 L516.52,41.52 L516.19,41.67 L515.87,41.82 L515.54,41.97 L515.22,42.13 L514.9,42.28 L514.58,42.44 L514.26,42.6 L513.94,42.76 L513.63,42.93 L513.31,43.1 L513,43.27 L512.69,43.44 L512.38,43.62 L512.07,43.79 L511.76,43.98 L511.45,44.16 L511.14,44.34 L510.84,44.53 L510.53,44.71 L510.23,44.9 L509.92,45.09 L509.62,45.28 L509.32,45.47 L509.02,45.67 L508.72,45.86 L508.42,46.06 L508.12,46.26 L507.83,46.46 L507.53,46.67 L507.24,46.87 L506.95,47.08 L506.66,47.29 L506.37,47.51 L506.09,47.73 L505.8,47.95 L505.52,48.17 L505.24,48.39 L504.97,48.62 L504.69,48.85 L504.42,49.09 L504.15,49.32 L503.89,49.56 L503.62,49.8 L503.36,50.05 L503.1,50.29 L502.84,50.54 L502.58,50.79 L502.33,51.04 L502.08,51.3 L501.83,51.55 L501.58,51.81 L501.33,52.07 L501.09,52.33 L500.85,52.6 L500.6,52.86 L500.37,53.13 L500.13,53.4 L499.89,53.66 L499.66,53.93 L499.42,54.21 L499.19,54.48 L498.96,54.75 L498.73,55.02 L498.5,55.3 L498.27,55.57 L498.05,55.85 L497.82,56.13 L497.6,56.41 L497.39,56.69 L497.18,56.98 L496.97,57.27 L496.76,57.57 L496.56,57.86 L496.36,58.16 L496.16,58.46 L495.97,58.76 L495.77,59.06 L495.58,59.36 L495.39,59.66 L495.2,59.96 L495.02,60.27 L494.83,60.57 L494.64,60.87 L494.45,61.18 L494.27,61.48 L494.08,61.78 L493.89,62.08 L493.7,62.38 L493.51,62.67 L493.31,62.97 L493.12,63.26 L492.92,63.55 L492.72,63.84 L492.52,64.13 L492.31,64.41 L492.09,64.69 L491.88,64.97 L491.66,65.24 L491.43,65.52 L491.21,65.79 L490.97,66.06 L490.74,66.32 L490.5,66.59 L490.27,66.85 L490.02,67.12 L489.78,67.38 L489.53,67.64 L489.29,67.9 L489.04,68.17 L488.79,68.43 L488.54,68.69 L488.29,68.96 L488.04,69.22 L487.79,69.48 L487.54,69.75 L487.29,70.02 L487.05,70.28 L486.8,70.55 L486.55,70.83 L486.31,71.1 L486.07,71.37 L485.83,71.65 L485.59,71.93 L485.36,72.21 L485.12,72.49 L484.87,72.77 L484.63,73.05 L484.39,73.33 L484.14,73.61 L483.9,73.89 L483.65,74.17 L483.4,74.45 L483.16,74.73 L482.91,75.01 L482.66,75.3 L482.41,75.58 L482.16,75.86 L481.91,76.15 L481.66,76.44 L481.41,76.73 L481.17,77.01 L480.92,77.31 L480.67,77.6 L480.42,77.89 L480.18,78.18 L479.93,78.48 L479.69,78.78 L479.44,79.08 L479.2,79.38 L478.96,79.68 L478.72,79.98 L478.48,80.29 L478.24,80.59 L478.01,80.9 L477.78,81.21 L477.55,81.52 L477.32,81.84 L477.09,82.15 L476.87,82.47 L476.65,82.79 L476.43,83.11 L476.21,83.43 L476,83.76 L475.78,84.08 L475.56,84.41 L475.34,84.73 L475.11,85.06 L474.89,85.38 L474.66,85.71 L474.44,86.04 L474.21,86.37 L473.99,86.7 L473.76,87.03 L473.54,87.36 L473.32,87.7 L473.1,88.03 L472.88,88.37 L472.67,88.71 L472.46,89.05 L472.26,89.4 L472.06,89.74 L471.86,90.09 L471.67,90.44 L471.49,90.8 L471.31,91.15 L471.14,91.51 L470.97,91.87 L470.81,92.23 L470.67,92.6 L470.53,92.97 L470.4,93.34 L470.27,93.71 L470.16,94.08 L470.06,94.46 L469.97,94.84 L469.89,95.22 L469.81,95.6 L469.73,95.98 L469.66,96.37 L469.59,96.75 L469.51,97.13 L469.44,97.52 L469.38,97.9 L469.31,98.29 L469.25,98.67 L469.18,99.06 L469.12,99.44 L469.07,99.83 L469.01,100.21 L468.95,100.6 L468.9,100.99 L468.85,101.37 L468.8,101.76 L468.75,102.15 L468.71,102.54 L468.67,102.92 L468.62,103.31 L468.59,103.7 L468.55,104.09 L468.51,104.48 L468.48,104.87 L468.45,105.26 L468.42,105.65 L468.39,106.04 L468.36,106.43 L468.34,106.82 L468.32,107.21 L468.3,107.6 L468.28,107.99 L468.26,108.38 L468.25,108.77 L468.23,109.16 L468.22,109.55 L468.22,109.94 L468.21,110.33 L468.2,110.72 L468.2,111.11 L468.2,111.5" stroke="#5cb887" stroke-width="2.5"/>
<path d="M646.2,111.5 L646.19,111.11 L646.17,110.73 L646.15,110.34 L646.13,109.95 L646.1,109.57 L646.07,109.18 L646.04,108.79 L646.01,108.41 L645.97,108.02 L645.93,107.64 L645.88,107.25 L645.84,106.87 L645.79,106.49 L645.74,106.1 L645.68,105.72 L645.62,105.34 L645.56,104.95 L645.5,104.57 L645.43,104.19 L645.37,103.81 L645.3,103.43 L645.22,103.05 L645.15,102.67 L645.07,102.29 L644.99,101.92 L644.91,101.54 L644.83,101.16 L644.74,100.79 L644.65,100.41 L644.56,100.04 L644.46,99.66 L644.36,99.29 L644.26,98.92 L644.15,98.55 L644.04,98.18 L643.92,97.81 L643.8,97.44 L643.68,97.07 L643.55,96.71 L643.43,96.35 L643.29,95.98 L643.16,95.62 L643.02,95.26 L642.88,94.9 L642.73,94.54 L642.59,94.18 L642.44,93.83 L642.29,93.47 L642.14,93.12 L641.98,92.77 L641.82,92.41 L641.66,92.06 L641.5,91.72 L641.34,91.37 L641.17,91.02 L641.01,90.67 L640.84,90.33 L640.67,89.99 L640.5,89.64 L640.33,89.3 L640.16,88.96 L639.98,88.62 L639.8,88.28 L639.61,87.95 L639.42,87.62 L639.23,87.28 L639.03,86.96 L638.83,86.63 L638.63,86.3 L638.42,85.98 L638.21,85.66 L638,85.34 L637.79,85.02 L637.57,84.7 L637.36,84.39 L637.14,84.07 L636.92,83.76 L636.69,83.45 L636.47,83.14 L636.25,82.83 L636.02,82.52 L635.8,82.22 L635.58,81.91 L635.35,81.61 L635.13,81.3 L634.91,81 L634.68,80.7 L634.46,80.4 L634.24,80.1 L634.03,79.79 L633.81,79.49 L633.59,79.19 L633.38,78.89 L633.17,78.59 L632.96,78.29 L632.75,77.99 L632.55,77.68 L632.35,77.38 L632.15,77.08 L631.95,76.78 L631.74,76.48 L631.53,76.18 L631.33,75.88 L631.12,75.58 L630.91,75.29 L630.7,75 L630.49,74.7 L630.28,74.41 L630.06,74.12 L629.85,73.83 L629.64,73.54 L629.42,73.25 L629.21,72.96 L628.99,72.67 L628.77,72.39 L628.56,72.1 L628.34,71.82 L628.12,71.53 L627.91,71.25 L627.69,70.97 L627.47,70.68 L627.26,70.4 L627.04,70.12 L626.82,69.84 L626.61,69.55 L626.39,69.27 L626.17,68.99 L625.96,68.71 L625.74,68.43 L625.53,68.15 L625.32,67.87 L625.1,67.59 L624.89,67.31 L624.68,67.02 L624.47,66.74 L624.26,66.46 L624.05,66.18 L623.84,65.89 L623.63,65.61 L623.42,65.33 L623.22,65.04 L623.01,64.76 L622.81,64.47 L622.61,64.18 L622.41,63.89 L622.21,63.6 L622.01,63.31 L621.81,63.02 L621.61,62.73 L621.41,62.44 L621.22,62.15 L621.02,61.86 L620.82,61.56 L620.62,61.27 L620.43,60.98 L620.23,60.68 L620.04,60.39 L619.84,60.09 L619.64,59.8 L619.44,59.5 L619.25,59.21 L619.05,58.91 L618.85,58.62 L618.65,58.32 L618.45,58.03 L618.25,57.73 L618.05,57.43 L617.85,57.14 L617.65,56.84 L617.44,56.55 L617.24,56.26 L617.03,55.96 L616.82,55.67 L616.62,55.38 L616.41,55.08 L616.2,54.79 L615.98,54.5 L615.77,54.21 L615.55,53.92 L615.34,53.64 L615.12,53.35 L614.9,53.06 L614.68,52.78 L614.45,52.5 L614.23,52.21 L614,51.93 L613.77,51.65 L613.55,51.36 L613.33,51.08 L613.1,50.79 L612.88,50.5 L612.66,50.21 L612.44,49.92 L612.21,49.62 L611.99,49.33 L611.77,49.03 L611.55,48.74 L611.32,48.44 L611.1,48.15 L610.87,47.85 L610.65,47.56 L610.42,47.27 L610.19,46.97 L609.96,46.68 L609.72,46.39 L609.49,46.1 L609.25,45.81 L609.01,45.52 L608.77,45.24 L608.53,44.95 L608.28,44.67 L608.03,44.4 L607.78,44.12 L607.52,43.85 L607.27,43.58 L607,43.31 L606.74,43.05 L606.47,42.79 L606.2,42.54 L605.92,42.29 L605.65,42.04 L605.36,41.8 L605.08,41.57 L604.79,41.34 L604.49,41.11 L604.19,40.89 L603.89,40.68 L603.59,40.47 L603.28,40.26 L602.98,40.05 L602.67,39.85 L602.36,39.64 L602.05,39.44 L601.74,39.23 L601.43,39.03 L601.12,38.84 L600.81,38.64 L600.49,38.44 L600.18,38.25 L599.86,38.06 L599.54,37.87 L599.22,37.68 L598.9,37.49 L598.58,37.31 L598.26,37.12 L597.94,36.94 L597.62,36.76 L597.29,36.58 L596.96,36.41 L596.64,36.23 L596.31,36.06 L595.98,35.89 L595.65,35.72 L595.32,35.55 L594.99,35.39 L594.66,35.22 L594.32,35.06 L593.99,34.91 L593.65,34.75 L593.31,34.6 L592.97,34.45 L592.63,34.3 L592.29,34.16 L591.95,34.01 L591.61,33.87 L591.26,33.73 L590.92,33.6 L590.57,33.47 L590.23,33.34 L589.88,33.21 L589.53,33.08 L589.18,32.96 L588.83,32.83 L588.48,32.72 L588.13,32.6 L587.78,32.48 L587.43,32.37 L587.08,32.26 L586.72,32.15 L586.37,32.04 L586.01,31.93 L585.66,31.83 L585.3,31.73 L584.95,31.63 L584.59,31.53 L584.24,31.43 L583.88,31.34 L583.52,31.24 L583.16,31.15 L582.81,31.06 L582.45,30.97 L582.09,30.88 L581.73,30.8 L581.37,30.71 L581.02,30.63 L580.66,30.54 L580.3,30.46 L579.94,30.38 L579.58,30.3 L579.22,30.23 L578.86,30.15 L578.5,30.07 L578.14,30 L577.78,29.93 L577.42,29.85 L577.06,29.78 L576.7,29.71 L576.34,29.64 L575.98,29.57 L575.62,29.51 L575.25,29.44 L574.89,29.38 L574.53,29.32 L574.17,29.26 L573.81,29.2 L573.44,29.15 L573.08,29.09 L572.72,29.04 L572.36,28.99 L571.99,28.94 L571.63,28.9 L571.26,28.85 L570.9,28.81 L570.54,28.76 L570.17,28.72 L569.81,28.68 L569.45,28.65 L569.08,28.61 L568.72,28.57 L568.35,28.54 L567.99,28.51 L567.62,28.48 L567.26,28.45 L566.9,28.42 L566.53,28.39 L566.17,28.37 L565.8,28.34 L565.44,28.32 L565.07,28.3 L564.71,28.28 L564.34,28.26 L563.98,28.24 L563.61,28.23 L563.25,28.21 L562.88,28.2 L562.52,28.18 L562.16,28.17 L561.79,28.16 L561.43,28.15 L561.06,28.14 L560.7,28.13 L560.33,28.12 L559.97,28.12 L559.6,28.11 L559.24,28.11 L558.88,28.11 L558.51,28.1 L558.15,28.1 L557.78,28.1 L557.42,28.1 L557.05,28.1 L556.69,28.1 L556.32,28.11 L555.96,28.11 L555.6,28.12 L555.23,28.13 L554.87,28.14 L554.5,28.15 L554.14,28.16 L553.77,28.18 L553.41,28.19 L553.05,28.21 L552.68,28.23 L552.32,28.25 L551.95,28.27 L551.59,28.29 L551.23,28.31 L550.86,28.34 L550.5,28.36 L550.14,28.39 L549.77,28.42 L549.41,28.45 L549.05,28.48 L548.68,28.52 L548.32,28.55 L547.96,28.59 L547.59,28.63 L547.23,28.67 L546.87,28.71 L546.51,28.75 L546.14,28.8 L545.78,28.84 L545.42,28.89 L545.06,28.94 L544.7,28.99 L544.34,29.04 L543.98,29.09 L543.61,29.15 L543.25,29.2 L542.89,29.26 L542.53,29.32 L542.17,29.38 L541.81,29.44 L541.45,29.51 L541.09,29.57 L540.73,29.64 L540.38,29.71 L540.02,29.78 L539.66,29.85 L539.3,29.92 L538.94,29.99 L538.58,30.07 L538.23,30.14 L537.87,30.21 L537.51,30.29 L537.15,30.36 L536.79,30.44 L536.44,30.52 L536.08,30.59 L535.72,30.67 L535.36,30.75 L535.01,30.83 L534.65,30.91 L534.29,31 L533.93,31.08 L533.58,31.17 L533.22,31.25 L532.86,31.34 L532.51,31.43 L532.15,31.52 L531.8,31.61 L531.44,31.71 L531.09,31.8 L530.73,31.9 L530.38,32 L530.03,32.1 L529.67,32.2 L529.32,32.31 L528.97,32.41 L528.62,32.52 L528.26,32.63 L527.91,32.75 L527.56,32.86 L527.22,32.98 L526.87,33.1 L526.52,33.22 L526.17,33.35 L525.83,33.47 L525.48,33.6 L525.14,33.73 L524.8,33.87 L524.45,34.01 L524.11,34.15 L523.77,34.29 L523.44,34.44 L523.1,34.58 L522.76,34.73 L522.43,34.89 L522.09,35.04 L521.76,35.2 L521.43,35.36 L521.09,35.51 L520.76,35.67 L520.43,35.84 L520.1,36 L519.77,36.16 L519.44,36.33 L519.12,36.5 L518.79,36.67 L518.46,36.84 L518.14,37.01 L517.81,37.18 L517.49,37.36 L517.16,37.53 L516.84,37.71 L516.52,37.89 L516.2,38.07 L515.88,38.25 L515.56,38.43 L515.24,38.62 L514.92,38.8 L514.6,38.99 L514.29,39.18 L513.97,39.37 L513.66,39.56 L513.34,39.75 L513.03,39.95 L512.72,40.14 L512.4,40.34 L512.1,40.54 L511.79,40.75 L511.5,40.97 L511.21,41.2 L510.92,41.43 L510.64,41.67 L510.36,41.91 L510.08,42.16 L509.81,42.42 L509.55,42.68 L509.29,42.95 L509.03,43.22 L508.78,43.49 L508.52,43.77 L508.28,44.05 L508.03,44.33 L507.79,44.61 L507.55,44.9 L507.31,45.19 L507.07,45.47 L506.83,45.76 L506.6,46.05 L506.37,46.34 L506.13,46.63 L505.9,46.92 L505.67,47.21 L505.44,47.49 L505.2,47.78 L504.97,48.06 L504.73,48.34 L504.5,48.62 L504.27,48.9 L504.04,49.19 L503.81,49.47 L503.59,49.76 L503.36,50.05 L503.14,50.34 L502.92,50.63 L502.7,50.92 L502.48,51.21 L502.27,51.5 L502.05,51.79 L501.84,52.09 L501.62,52.38 L501.41,52.67 L501.2,52.96 L500.99,53.26 L500.78,53.55 L500.57,53.84 L500.36,54.14 L500.15,54.43 L499.94,54.72 L499.74,55.01 L499.53,55.3 L499.32,55.59 L499.12,55.88 L498.91,56.18 L498.71,56.47 L498.52,56.77 L498.32,57.07 L498.13,57.37 L497.93,57.66 L497.74,57.96 L497.55,58.26 L497.36,58.56 L497.17,58.86 L496.98,59.16 L496.8,59.46 L496.61,59.76 L496.42,60.06 L496.23,60.36 L496.04,60.66 L495.85,60.95 L495.66,61.25 L495.47,61.54 L495.28,61.83 L495.08,62.12 L494.88,62.41 L494.68,62.69 L494.48,62.98 L494.28,63.26 L494.07,63.54 L493.86,63.82 L493.65,64.09 L493.44,64.37 L493.23,64.65 L493.02,64.93 L492.81,65.2 L492.6,65.48 L492.39,65.76 L492.18,66.04 L491.97,66.31 L491.76,66.59 L491.55,66.87 L491.34,67.15 L491.13,67.43 L490.92,67.71 L490.71,67.99 L490.5,68.27 L490.29,68.55 L490.08,68.83 L489.88,69.11 L489.67,69.39 L489.46,69.67 L489.26,69.96 L489.05,70.24 L488.85,70.53 L488.64,70.81 L488.44,71.1 L488.24,71.38 L488.03,71.67 L487.83,71.96 L487.63,72.25 L487.43,72.54 L487.24,72.83 L487.04,73.13 L486.84,73.42 L486.64,73.71 L486.43,74 L486.23,74.29 L486.02,74.58 L485.81,74.86 L485.6,75.15 L485.39,75.44 L485.18,75.73 L484.97,76.02 L484.76,76.31 L484.54,76.6 L484.33,76.89 L484.11,77.18 L483.9,77.47 L483.69,77.76 L483.47,78.06 L483.26,78.35 L483.05,78.64 L482.83,78.94 L482.62,79.24 L482.42,79.54 L482.21,79.84 L482,80.14 L481.8,80.44 L481.6,80.74 L481.39,81.05 L481.19,81.36 L480.99,81.66 L480.79,81.97 L480.58,82.28 L480.38,82.58 L480.17,82.89 L479.97,83.2 L479.76,83.51 L479.56,83.82 L479.35,84.13 L479.15,84.45 L478.95,84.76 L478.74,85.08 L478.54,85.39 L478.34,85.71 L478.14,86.03 L477.95,86.35 L477.75,86.67 L477.56,86.99 L477.36,87.32 L477.17,87.64 L476.99,87.97 L476.8,88.3 L476.62,88.63 L476.44,88.96 L476.26,89.29 L476.09,89.63 L475.92,89.96 L475.76,90.3 L475.59,90.64 L475.43,90.98 L475.28,91.33 L475.13,91.67 L474.98,92.02 L474.84,92.36 L474.69,92.71 L474.55,93.06 L474.41,93.41 L474.27,93.76 L474.14,94.12 L474.01,94.47 L473.88,94.82 L473.75,95.18 L473.62,95.53 L473.5,95.89 L473.38,96.25 L473.26,96.61 L473.14,96.97 L473.03,97.33 L472.92,97.69 L472.81,98.05 L472.7,98.41 L472.59,98.78 L472.49,99.14 L472.39,99.51 L472.29,99.87 L472.2,100.24 L472.11,100.61 L472.01,100.98 L471.93,101.35 L471.84,101.72 L471.76,102.09 L471.68,102.46 L471.6,102.83 L471.52,103.2 L471.45,103.57 L471.37,103.95 L471.3,104.32 L471.24,104.69 L471.17,105.07 L471.11,105.44 L471.04,105.82 L470.98,106.19 L470.93,106.57 L470.87,106.95 L470.82,107.33 L470.77,107.7 L470.72,108.08 L470.68,108.46 L470.63,108.84 L470.59,109.22 L470.56,109.6 L470.52,109.98 L470.49,110.36 L470.45,110.74 L470.43,111.12 L470.4,111.5" stroke="#3b59ad" stroke-width="2.7"/>
<path d="M644.8,111.5 L644.8,111.12 L644.79,110.74 L644.78,110.36 L644.77,109.98 L644.76,109.6 L644.74,109.22 L644.72,108.83 L644.69,108.45 L644.66,108.07 L644.63,107.69 L644.6,107.32 L644.56,106.94 L644.52,106.56 L644.48,106.18 L644.44,105.8 L644.39,105.42 L644.34,105.05 L644.29,104.67 L644.23,104.29 L644.18,103.91 L644.12,103.54 L644.06,103.16 L644,102.79 L643.93,102.41 L643.86,102.04 L643.79,101.67 L643.72,101.29 L643.65,100.92 L643.57,100.55 L643.49,100.18 L643.41,99.81 L643.32,99.44 L643.22,99.07 L643.12,98.7 L643.02,98.33 L642.91,97.97 L642.8,97.6 L642.68,97.24 L642.56,96.88 L642.44,96.52 L642.31,96.16 L642.18,95.8 L642.05,95.44 L641.91,95.09 L641.78,94.73 L641.63,94.38 L641.49,94.03 L641.34,93.67 L641.19,93.32 L641.04,92.97 L640.89,92.63 L640.74,92.28 L640.58,91.93 L640.42,91.59 L640.26,91.24 L640.1,90.9 L639.94,90.56 L639.78,90.22 L639.62,89.88 L639.45,89.54 L639.29,89.2 L639.12,88.86 L638.95,88.52 L638.77,88.19 L638.59,87.86 L638.4,87.53 L638.22,87.2 L638.02,86.88 L637.83,86.55 L637.63,86.23 L637.43,85.91 L637.22,85.59 L637.02,85.27 L636.81,84.96 L636.6,84.64 L636.39,84.33 L636.18,84.02 L635.97,83.71 L635.75,83.4 L635.54,83.09 L635.33,82.78 L635.11,82.47 L634.9,82.17 L634.69,81.86 L634.48,81.56 L634.27,81.25 L634.06,80.95 L633.85,80.65 L633.64,80.34 L633.44,80.04 L633.24,79.73 L633.04,79.43 L632.84,79.12 L632.65,78.82 L632.46,78.51 L632.27,78.2 L632.09,77.89 L631.91,77.58 L631.72,77.27 L631.54,76.97 L631.36,76.66 L631.17,76.35 L630.99,76.04 L630.8,75.74 L630.62,75.44 L630.43,75.13 L630.24,74.83 L630.05,74.53 L629.86,74.22 L629.67,73.92 L629.47,73.62 L629.28,73.32 L629.09,73.03 L628.89,72.73 L628.7,72.43 L628.5,72.13 L628.3,71.84 L628.11,71.54 L627.91,71.25 L627.71,70.95 L627.51,70.66 L627.31,70.37 L627.11,70.07 L626.91,69.78 L626.71,69.49 L626.51,69.2 L626.31,68.91 L626.11,68.62 L625.91,68.33 L625.7,68.04 L625.5,67.75 L625.3,67.46 L625.1,67.17 L624.89,66.88 L624.69,66.59 L624.49,66.3 L624.28,66.02 L624.08,65.73 L623.87,65.44 L623.67,65.15 L623.46,64.87 L623.26,64.58 L623.06,64.29 L622.85,64 L622.65,63.71 L622.45,63.42 L622.26,63.13 L622.06,62.83 L621.87,62.54 L621.67,62.24 L621.48,61.95 L621.29,61.65 L621.09,61.35 L620.9,61.05 L620.71,60.75 L620.52,60.45 L620.33,60.15 L620.14,59.84 L619.95,59.54 L619.76,59.24 L619.57,58.93 L619.38,58.63 L619.19,58.32 L619,58.02 L618.81,57.71 L618.61,57.41 L618.42,57.1 L618.23,56.8 L618.03,56.49 L617.83,56.19 L617.64,55.89 L617.44,55.58 L617.24,55.28 L617.04,54.98 L616.83,54.67 L616.63,54.37 L616.42,54.07 L616.22,53.77 L616.01,53.47 L615.8,53.18 L615.58,52.88 L615.37,52.59 L615.15,52.29 L614.93,52 L614.71,51.71 L614.48,51.42 L614.26,51.13 L614.04,50.84 L613.82,50.54 L613.6,50.24 L613.38,49.95 L613.16,49.65 L612.94,49.35 L612.72,49.05 L612.5,48.75 L612.28,48.44 L612.06,48.14 L611.84,47.84 L611.62,47.54 L611.39,47.23 L611.17,46.93 L610.94,46.63 L610.71,46.33 L610.48,46.03 L610.25,45.73 L610.01,45.44 L609.78,45.14 L609.54,44.85 L609.3,44.56 L609.05,44.27 L608.8,43.98 L608.55,43.7 L608.3,43.42 L608.05,43.14 L607.79,42.87 L607.52,42.6 L607.26,42.33 L606.99,42.07 L606.71,41.81 L606.44,41.56 L606.16,41.31 L605.87,41.06 L605.58,40.82 L605.29,40.59 L604.99,40.36 L604.69,40.14 L604.38,39.93 L604.08,39.71 L603.77,39.5 L603.46,39.29 L603.15,39.08 L602.84,38.88 L602.53,38.67 L602.21,38.47 L601.9,38.26 L601.58,38.06 L601.27,37.86 L600.95,37.67 L600.63,37.47 L600.31,37.28 L599.99,37.08 L599.67,36.89 L599.34,36.7 L599.02,36.52 L598.69,36.33 L598.37,36.15 L598.04,35.97 L597.71,35.79 L597.38,35.61 L597.05,35.43 L596.72,35.26 L596.39,35.09 L596.05,34.91 L595.72,34.75 L595.39,34.58 L595.05,34.42 L594.71,34.25 L594.37,34.09 L594.03,33.94 L593.69,33.78 L593.35,33.63 L593.01,33.48 L592.66,33.33 L592.32,33.19 L591.97,33.05 L591.62,32.91 L591.27,32.77 L590.92,32.64 L590.57,32.5 L590.22,32.37 L589.87,32.25 L589.52,32.12 L589.17,32 L588.81,31.88 L588.46,31.76 L588.1,31.64 L587.75,31.53 L587.39,31.41 L587.03,31.3 L586.67,31.19 L586.32,31.09 L585.96,30.98 L585.6,30.88 L585.24,30.78 L584.88,30.68 L584.52,30.58 L584.16,30.48 L583.8,30.39 L583.44,30.29 L583.08,30.2 L582.71,30.11 L582.35,30.02 L581.99,29.93 L581.63,29.85 L581.27,29.76 L580.9,29.68 L580.54,29.6 L580.18,29.52 L579.81,29.44 L579.45,29.36 L579.09,29.28 L578.72,29.2 L578.36,29.13 L578,29.05 L577.63,28.98 L577.27,28.9 L576.9,28.83 L576.54,28.76 L576.17,28.69 L575.81,28.63 L575.44,28.56 L575.08,28.5 L574.71,28.44 L574.35,28.38 L573.98,28.32 L573.61,28.26 L573.25,28.21 L572.88,28.16 L572.51,28.11 L572.15,28.06 L571.78,28.01 L571.41,27.96 L571.04,27.92 L570.68,27.87 L570.31,27.83 L569.94,27.79 L569.57,27.75 L569.2,27.72 L568.84,27.68 L568.47,27.65 L568.1,27.62 L567.73,27.58 L567.36,27.55 L567,27.53 L566.63,27.5 L566.26,27.47 L565.89,27.45 L565.52,27.43 L565.15,27.4 L564.78,27.38 L564.42,27.36 L564.05,27.35 L563.68,27.33 L563.31,27.31 L562.94,27.3 L562.57,27.28 L562.2,27.27 L561.84,27.26 L561.47,27.25 L561.1,27.24 L560.73,27.23 L560.36,27.22 L559.99,27.22 L559.63,27.21 L559.26,27.21 L558.89,27.21 L558.52,27.2 L558.15,27.2 L557.78,27.2 L557.42,27.2 L557.05,27.2 L556.68,27.2 L556.31,27.21 L555.94,27.21 L555.57,27.22 L555.21,27.23 L554.84,27.24 L554.47,27.25 L554.1,27.26 L553.73,27.28 L553.37,27.29 L553,27.31 L552.63,27.33 L552.26,27.35 L551.89,27.37 L551.53,27.39 L551.16,27.42 L550.79,27.44 L550.42,27.47 L550.06,27.5 L549.69,27.53 L549.32,27.56 L548.95,27.59 L548.59,27.62 L548.22,27.66 L547.85,27.7 L547.49,27.74 L547.12,27.78 L546.75,27.82 L546.39,27.86 L546.02,27.91 L545.66,27.95 L545.29,28 L544.92,28.05 L544.56,28.1 L544.19,28.15 L543.83,28.21 L543.46,28.26 L543.1,28.32 L542.73,28.38 L542.37,28.44 L542.01,28.5 L541.64,28.56 L541.28,28.62 L540.92,28.69 L540.55,28.76 L540.19,28.83 L539.83,28.9 L539.47,28.97 L539.1,29.04 L538.74,29.11 L538.38,29.19 L538.02,29.26 L537.66,29.34 L537.29,29.41 L536.93,29.48 L536.57,29.56 L536.21,29.64 L535.84,29.71 L535.48,29.79 L535.12,29.87 L534.76,29.95 L534.4,30.03 L534.03,30.11 L533.67,30.19 L533.31,30.27 L532.95,30.36 L532.59,30.45 L532.23,30.53 L531.87,30.62 L531.51,30.71 L531.15,30.81 L530.79,30.9 L530.43,30.99 L530.07,31.09 L529.71,31.19 L529.35,31.29 L528.99,31.4 L528.64,31.5 L528.28,31.61 L527.92,31.72 L527.57,31.83 L527.21,31.95 L526.86,32.06 L526.51,32.18 L526.16,32.3 L525.8,32.43 L525.45,32.55 L525.1,32.68 L524.76,32.82 L524.41,32.95 L524.06,33.09 L523.72,33.23 L523.37,33.37 L523.03,33.52 L522.69,33.67 L522.35,33.82 L522.01,33.98 L521.67,34.14 L521.34,34.29 L521,34.45 L520.66,34.62 L520.33,34.78 L519.99,34.94 L519.66,35.11 L519.33,35.28 L519,35.45 L518.66,35.62 L518.33,35.79 L518.01,35.97 L517.68,36.14 L517.35,36.32 L517.02,36.5 L516.7,36.68 L516.37,36.86 L516.05,37.05 L515.73,37.23 L515.4,37.42 L515.08,37.61 L514.76,37.8 L514.44,37.99 L514.12,38.18 L513.81,38.38 L513.49,38.58 L513.17,38.77 L512.86,38.97 L512.55,39.17 L512.23,39.38 L511.92,39.58 L511.61,39.79 L511.31,40.01 L511.02,40.23 L510.72,40.47 L510.44,40.71 L510.15,40.95 L509.88,41.2 L509.6,41.46 L509.34,41.73 L509.07,42 L508.81,42.27 L508.55,42.55 L508.3,42.83 L508.05,43.11 L507.8,43.4 L507.56,43.69 L507.32,43.98 L507.08,44.27 L506.84,44.57 L506.6,44.86 L506.37,45.16 L506.14,45.46 L505.9,45.75 L505.67,46.05 L505.44,46.35 L505.21,46.64 L504.98,46.94 L504.75,47.23 L504.52,47.52 L504.29,47.81 L504.05,48.09 L503.83,48.39 L503.6,48.68 L503.37,48.97 L503.15,49.27 L502.93,49.56 L502.71,49.86 L502.49,50.15 L502.28,50.45 L502.06,50.75 L501.85,51.05 L501.64,51.35 L501.43,51.65 L501.22,51.95 L501.01,52.25 L500.8,52.55 L500.59,52.85 L500.39,53.15 L500.18,53.45 L499.98,53.75 L499.78,54.05 L499.57,54.35 L499.37,54.65 L499.17,54.95 L498.97,55.25 L498.77,55.55 L498.57,55.86 L498.38,56.16 L498.19,56.47 L498,56.78 L497.82,57.09 L497.63,57.4 L497.45,57.71 L497.27,58.02 L497.09,58.33 L496.91,58.64 L496.73,58.95 L496.55,59.26 L496.38,59.57 L496.2,59.87 L496.02,60.18 L495.84,60.49 L495.65,60.79 L495.47,61.09 L495.29,61.39 L495.1,61.69 L494.91,61.98 L494.72,62.28 L494.52,62.57 L494.32,62.85 L494.12,63.14 L493.91,63.42 L493.7,63.7 L493.49,63.98 L493.29,64.26 L493.08,64.54 L492.87,64.82 L492.67,65.1 L492.46,65.38 L492.26,65.67 L492.06,65.95 L491.86,66.23 L491.66,66.52 L491.46,66.81 L491.26,67.09 L491.06,67.38 L490.86,67.67 L490.67,67.96 L490.47,68.25 L490.28,68.54 L490.09,68.83 L489.89,69.12 L489.7,69.41 L489.51,69.7 L489.32,70 L489.14,70.29 L488.95,70.59 L488.76,70.88 L488.58,71.18 L488.4,71.48 L488.21,71.78 L488.03,72.07 L487.85,72.37 L487.67,72.67 L487.49,72.97 L487.31,73.27 L487.13,73.57 L486.95,73.87 L486.76,74.17 L486.58,74.47 L486.38,74.76 L486.19,75.06 L486,75.35 L485.8,75.65 L485.61,75.94 L485.41,76.23 L485.21,76.53 L485.01,76.82 L484.81,77.11 L484.61,77.41 L484.4,77.7 L484.2,78 L484,78.29 L483.8,78.59 L483.6,78.89 L483.4,79.19 L483.21,79.49 L483.01,79.79 L482.82,80.09 L482.62,80.4 L482.43,80.7 L482.24,81.01 L482.06,81.31 L481.87,81.62 L481.68,81.93 L481.48,82.24 L481.29,82.54 L481.1,82.85 L480.9,83.16 L480.71,83.47 L480.51,83.78 L480.32,84.09 L480.12,84.4 L479.93,84.72 L479.73,85.03 L479.54,85.34 L479.35,85.66 L479.16,85.97 L478.97,86.29 L478.78,86.61 L478.59,86.93 L478.4,87.25 L478.22,87.57 L478.04,87.9 L477.86,88.22 L477.68,88.55 L477.51,88.88 L477.34,89.21 L477.17,89.54 L477.01,89.87 L476.85,90.21 L476.69,90.54 L476.54,90.88 L476.39,91.22 L476.24,91.56 L476.1,91.91 L475.97,92.25 L475.83,92.6 L475.7,92.94 L475.57,93.29 L475.44,93.64 L475.31,93.98 L475.19,94.33 L475.06,94.68 L474.94,95.04 L474.83,95.39 L474.71,95.74 L474.6,96.09 L474.48,96.45 L474.37,96.8 L474.27,97.16 L474.16,97.52 L474.06,97.88 L473.96,98.23 L473.86,98.59 L473.77,98.95 L473.68,99.31 L473.59,99.68 L473.5,100.04 L473.42,100.4 L473.34,100.77 L473.26,101.13 L473.18,101.49 L473.11,101.86 L473.04,102.23 L472.97,102.59 L472.9,102.96 L472.84,103.33 L472.78,103.7 L472.72,104.06 L472.66,104.43 L472.61,104.8 L472.55,105.17 L472.5,105.54 L472.45,105.91 L472.41,106.28 L472.36,106.65 L472.32,107.02 L472.28,107.4 L472.24,107.77 L472.21,108.14 L472.17,108.51 L472.14,108.89 L472.11,109.26 L472.09,109.63 L472.07,110 L472.05,110.38 L472.03,110.75 L472.01,111.13 L472,111.5" stroke="#b25cb2" stroke-width="2.9"/>
</g>
<g font-family="'Liberation Serif', 'Times New Roman', serif" font-size="8" fill="#222" text-anchor="middle">
<text x="557.9" y="6.9">0</text>
<text x="502.8" y="21.6">30</text>
<text x="614.2" y="22.4">-30</text>
<text x="466.1" y="58.9">60</text>
<text x="651.2" y="59">-60</text>
<text x="451.8" y="113.8">90</text>
<text x="664.6" y="114.3">-90</text>
<text x="463.3" y="169.6">120</text>
<text x="653.4" y="169">-120</text>
<text x="500.6" y="207.5">150</text>
<text x="616.2" y="207.5">-150</text>
<text x="557.3" y="221">-180</text>
</g>
<g stroke="#3a3a3a" stroke-width="1">
<line x1="441.5" y1="13.8" x2="441.5" y2="209.2"/>
<line x1="437.9" y1="13.8" x2="441.5" y2="13.8"/>
<line x1="439.5" y1="30.08" x2="441.5" y2="30.08"/>
<line x1="437.9" y1="46.37" x2="441.5" y2="46.37"/>
<line x1="439.5" y1="62.65" x2="441.5" y2="62.65"/>
<line x1="437.9" y1="78.93" x2="441.5" y2="78.93"/>
<line x1="439.5" y1="95.22" x2="441.5" y2="95.22"/>
<line x1="437.9" y1="111.5" x2="441.5" y2="111.5"/>
<line x1="439.5" y1="127.78" x2="441.5" y2="127.78"/>
<line x1="437.9" y1="144.07" x2="441.5" y2="144.07"/>
<line x1="439.5" y1="160.35" x2="441.5" y2="160.35"/>
<line x1="437.9" y1="176.63" x2="441.5" y2="176.63"/>
<line x1="439.5" y1="192.92" x2="441.5" y2="192.92"/>
<line x1="437.9" y1="209.2" x2="441.5" y2="209.2"/>
</g>
<g font-family="'Liberation Serif', 'Times New Roman', serif" font-size="8.1" fill="#222" text-anchor="end">
<text x="435.3" y="16.3">0</text>
<text x="435.3" y="48.87">-10</text>
<text x="435.3" y="81.43">-20</text>
<text x="435.3" y="114">-30</text>
<text x="435.3" y="146.57">-20</text>
<text x="435.3" y="179.13">-10</text>
<text x="435.3" y="211.7">0</text>
</g>
<text transform="translate(418.6,109.4) rotate(-90)" text-anchor="middle" font-family="'Liberation Serif', 'Times New Roman', serif" font-size="10" fill="#111" textLength="131" lengthAdjust="spacingAndGlyphs">Normalized far-field pattern (dB)</text>
<line x1="530" y1="127.5" x2="556.3" y2="127.5" stroke="#e2474b" stroke-width="2.6"/>
<text x="557.5" y="131.5" font-family="'Liberation Serif', 'Times New Roman', serif" font-size="11.3" fill="#111"><tspan font-style="italic">n</tspan> = 1</text>
<line x1="530" y1="140.75" x2="556.3" y2="140.75" stroke="#c9d64c" stroke-width="2.6"/>
<text x="557.5" y="144.75" font-family="'Liberation Serif', 'Times New Roman', serif" font-size="11.3" fill="#111"><tspan font-style="italic">n</tspan> = 2</text>
<line x1="530" y1="154" x2="556.3" y2="154" stroke="#5cb887" stroke-width="2.6"/>
<text x="557.5" y="158" font-family="'Liberation Serif', 'Times New Roman', serif" font-size="11.3" fill="#111"><tspan font-style="italic">n</tspan> = 3</text>
<line x1="530" y1="167.25" x2="556.3" y2="167.25" stroke="#3b59ad" stroke-width="2.6"/>
<text x="557.5" y="171.25" font-family="'Liberation Serif', 'Times New Roman', serif" font-size="11.3" fill="#111"><tspan font-style="italic">n</tspan> = 4</text>
<line x1="530" y1="180.5" x2="556.3" y2="180.5" stroke="#b25cb2" stroke-width="2.6"/>
<text x="557.5" y="184.5" font-family="'Liberation Serif', 'Times New Roman', serif" font-size="11.3" fill="#111"><tspan font-style="italic">n</tspan> = 5</text>
<text class="nb" x="454.1" y="205.8" font-family="'Liberation Serif', 'Times New Roman', serif" font-size="20" fill="#111">(b)</text>
<g fill="none" stroke="#8a8a8a" stroke-width="0.75" stroke-dasharray="0.9 1.7">
<circle cx="167.7" cy="407" r="32.47"/>
<circle cx="167.7" cy="407" r="64.93"/>
<line x1="167.7" y1="407" x2="167.7" y2="309.6"/>
<line x1="167.7" y1="407" x2="119" y2="322.65"/>
<line x1="167.7" y1="407" x2="83.35" y2="358.3"/>
<line x1="167.7" y1="407" x2="70.3" y2="407"/>
<line x1="167.7" y1="407" x2="83.35" y2="455.7"/>
<line x1="167.7" y1="407" x2="119" y2="491.35"/>
<line x1="167.7" y1="407" x2="167.7" y2="504.4"/>
<line x1="167.7" y1="407" x2="216.4" y2="491.35"/>
<line x1="167.7" y1="407" x2="252.05" y2="455.7"/>
<line x1="167.7" y1="407" x2="265.1" y2="407"/>
<line x1="167.7" y1="407" x2="252.05" y2="358.3"/>
<line x1="167.7" y1="407" x2="216.4" y2="322.65"/>
</g>
<circle cx="167.7" cy="407" r="1.6" fill="none" stroke="#999" stroke-width="0.6"/>
<circle cx="167.7" cy="407" r="97.4" fill="none" stroke="#3a3a3a" stroke-width="1"/>
<g stroke="#3a3a3a" stroke-width="0.8">
<line x1="167.7" y1="309.6" x2="167.7" y2="312"/>
<line x1="142.49" y1="312.92" x2="143.11" y2="315.24"/>
<line x1="119" y1="322.65" x2="120.2" y2="324.73"/>
<line x1="98.83" y1="338.13" x2="100.52" y2="339.82"/>
<line x1="83.35" y1="358.3" x2="85.43" y2="359.5"/>
<line x1="73.62" y1="381.79" x2="75.94" y2="382.41"/>
<line x1="70.3" y1="407" x2="72.7" y2="407"/>
<line x1="73.62" y1="432.21" x2="75.94" y2="431.59"/>
<line x1="83.35" y1="455.7" x2="85.43" y2="454.5"/>
<line x1="98.83" y1="475.87" x2="100.52" y2="474.18"/>
<line x1="119" y1="491.35" x2="120.2" y2="489.27"/>
<line x1="142.49" y1="501.08" x2="143.11" y2="498.76"/>
<line x1="167.7" y1="504.4" x2="167.7" y2="502"/>
<line x1="192.91" y1="501.08" x2="192.29" y2="498.76"/>
<line x1="216.4" y1="491.35" x2="215.2" y2="489.27"/>
<line x1="236.57" y1="475.87" x2="234.88" y2="474.18"/>
<line x1="252.05" y1="455.7" x2="249.97" y2="454.5"/>
<line x1="261.78" y1="432.21" x2="259.46" y2="431.59"/>
<line x1="265.1" y1="407" x2="262.7" y2="407"/>
<line x1="261.78" y1="381.79" x2="259.46" y2="382.41"/>
<line x1="252.05" y1="358.3" x2="249.97" y2="359.5"/>
<line x1="236.57" y1="338.13" x2="234.88" y2="339.82"/>
<line x1="216.4" y1="322.65" x2="215.2" y2="324.73"/>
<line x1="192.91" y1="312.92" x2="192.29" y2="315.24"/>
</g>
<g fill="none" stroke-linejoin="round" stroke-linecap="round">
<path d="M263.7,407 L263.7,406.58 L263.69,406.16 L263.68,405.74 L263.67,405.32 L263.65,404.9 L263.63,404.48 L263.6,404.07 L263.57,403.65 L263.54,403.23 L263.51,402.81 L263.47,402.39 L263.42,401.98 L263.38,401.56 L263.33,401.14 L263.27,400.73 L263.22,400.31 L263.16,399.9 L263.1,399.48 L263.03,399.07 L262.96,398.65 L262.89,398.24 L262.82,397.83 L262.74,397.42 L262.66,397.01 L262.58,396.59 L262.49,396.18 L262.4,395.78 L262.31,395.37 L262.22,394.96 L262.13,394.55 L262.03,394.14 L261.93,393.74 L261.83,393.33 L261.72,392.93 L261.61,392.52 L261.51,392.12 L261.4,391.72 L261.28,391.32 L261.17,390.92 L261.05,390.52 L260.93,390.12 L260.81,389.72 L260.68,389.32 L260.54,388.93 L260.4,388.53 L260.26,388.14 L260.11,387.75 L259.95,387.36 L259.79,386.98 L259.63,386.59 L259.46,386.21 L259.29,385.83 L259.11,385.44 L258.93,385.07 L258.75,384.69 L258.56,384.31 L258.37,383.94 L258.17,383.57 L257.97,383.2 L257.77,382.83 L257.56,382.46 L257.35,382.1 L257.14,381.74 L256.93,381.38 L256.71,381.02 L256.49,380.66 L256.27,380.3 L256.04,379.95 L255.81,379.6 L255.58,379.25 L255.35,378.9 L255.12,378.55 L254.88,378.21 L254.64,377.87 L254.41,377.52 L254.16,377.18 L253.92,376.84 L253.68,376.51 L253.43,376.17 L253.18,375.84 L252.93,375.51 L252.68,375.18 L252.41,374.86 L252.15,374.53 L251.88,374.22 L251.6,373.9 L251.32,373.59 L251.03,373.28 L250.74,372.97 L250.45,372.67 L250.15,372.37 L249.85,372.07 L249.55,371.78 L249.25,371.49 L248.94,371.2 L248.63,370.91 L248.32,370.62 L248.01,370.34 L247.7,370.06 L247.39,369.78 L247.07,369.51 L246.76,369.23 L246.44,368.96 L246.13,368.69 L245.82,368.42 L245.5,368.15 L245.19,367.88 L244.88,367.61 L244.57,367.35 L244.26,367.08 L243.95,366.82 L243.65,366.55 L243.35,366.29 L243.04,366.02 L242.74,365.76 L242.44,365.5 L242.13,365.25 L241.82,364.99 L241.51,364.74 L241.2,364.49 L240.89,364.24 L240.58,364 L240.27,363.75 L239.96,363.51 L239.65,363.26 L239.34,363.02 L239.03,362.78 L238.72,362.55 L238.41,362.31 L238.1,362.07 L237.79,361.84 L237.48,361.6 L237.18,361.37 L236.87,361.14 L236.57,360.9 L236.26,360.67 L235.96,360.44 L235.66,360.21 L235.36,359.97 L235.07,359.74 L234.78,359.51 L234.48,359.28 L234.2,359.04 L233.91,358.81 L233.62,358.57 L233.34,358.34 L233.06,358.1 L232.78,357.87 L232.5,357.63 L232.23,357.39 L231.95,357.16 L231.67,356.92 L231.4,356.69 L231.12,356.45 L230.85,356.22 L230.57,355.99 L230.3,355.75 L230.03,355.52 L229.75,355.29 L229.48,355.06 L229.2,354.83 L228.93,354.6 L228.65,354.37 L228.38,354.15 L228.1,353.92 L227.82,353.7 L227.55,353.48 L227.27,353.26 L226.99,353.04 L226.71,352.82 L226.42,352.6 L226.14,352.39 L225.86,352.18 L225.57,351.97 L225.28,351.76 L224.99,351.55 L224.7,351.35 L224.41,351.15 L224.12,350.95 L223.82,350.76 L223.53,350.56 L223.23,350.37 L222.94,350.17 L222.64,349.98 L222.35,349.78 L222.06,349.59 L221.76,349.4 L221.47,349.21 L221.18,349.02 L220.88,348.83 L220.58,348.64 L220.29,348.46 L219.99,348.28 L219.69,348.1 L219.39,347.92 L219.08,347.75 L218.78,347.57 L218.47,347.41 L218.17,347.24 L217.86,347.08 L217.54,346.92 L217.23,346.76 L216.91,346.61 L216.59,346.47 L216.27,346.33 L215.95,346.19 L215.62,346.06 L215.29,345.93 L214.96,345.81 L214.62,345.69 L214.28,345.58 L213.94,345.48 L213.59,345.39 L213.23,345.31 L212.86,345.24 L212.49,345.19 L212.11,345.14 L211.72,345.11 L211.33,345.09 L210.93,345.08 L210.53,345.08 L210.12,345.1 L209.71,345.12 L209.3,345.15 L208.87,345.19 L208.45,345.25 L208.02,345.31 L207.59,345.38 L207.16,345.47 L206.72,345.56 L206.28,345.66 L205.84,345.77 L205.4,345.89 L204.95,346.01 L204.5,346.16 L204.02,346.36 L203.5,346.62 L202.97,346.93 L202.42,347.27 L201.87,347.62 L201.31,347.99 L200.76,348.36 L200.23,348.71 L199.72,349.03 L199.24,349.32 L198.78,349.55 L198.36,349.73 L197.95,349.9 L197.56,350.04 L197.17,350.18 L196.79,350.3 L196.42,350.42 L196.05,350.55 L195.67,350.67 L195.3,350.82 L194.92,350.97 L194.54,351.14 L194.15,351.31 L193.77,351.5 L193.39,351.68 L193.01,351.88 L192.63,352.07 L192.25,352.28 L191.87,352.49 L191.49,352.7 L191.12,352.91 L190.74,353.13 L190.37,353.34 L190.01,353.56 L189.64,353.78 L189.28,354 L188.92,354.22 L188.57,354.44 L188.22,354.66 L187.87,354.87 L187.53,355.08 L187.19,355.29 L186.86,355.49 L186.53,355.69 L186.21,355.88 L185.89,356.06 L185.58,356.24 L185.27,356.41 L184.96,356.58 L184.66,356.75 L184.36,356.92 L184.06,357.09 L183.76,357.26 L183.47,357.43 L183.18,357.6 L182.89,357.77 L182.6,357.94 L182.32,358.11 L182.04,358.28 L181.76,358.45 L181.48,358.61 L181.21,358.78 L180.93,358.94 L180.66,359.1 L180.4,359.26 L180.13,359.42 L179.87,359.58 L179.61,359.74 L179.35,359.89 L179.1,360.04 L178.85,360.19 L178.6,360.34 L178.35,360.48 L178.1,360.62 L177.86,360.76 L177.62,360.89 L177.38,361.03 L177.14,361.16 L176.91,361.28 L176.68,361.4 L176.45,361.52 L176.22,361.63 L176,361.74 L175.77,361.85 L175.55,361.95 L175.34,362.03 L175.12,362.11 L174.91,362.18 L174.7,362.25 L174.49,362.31 L174.28,362.37 L174.07,362.43 L173.86,362.5 L173.66,362.56 L173.45,362.64 L173.24,362.72 L173.04,362.81 L172.83,362.91 L172.62,363.03 L172.41,363.16 L172.2,363.31 L171.99,363.46 L171.79,363.62 L171.58,363.81 L171.37,364.02 L171.16,364.28 L170.95,364.59 L170.74,364.97 L170.52,365.41 L170.3,365.98 L170.05,367.23 L169.77,369.09 L169.5,371.23 L169.22,373.87 L168.94,377.11 L168.68,380.62 L168.44,384.43 L168.22,388.64 L168.04,392.81 L167.9,396.82 L167.79,400.92 L167.73,403.82 L167.71,405.35 L167.7,406.35 L167.7,406.34 L167.69,405.3 L167.67,403.84 L167.62,401.77 L167.54,399.06 L167.44,396.25 L167.32,393.47 L167.16,390.53 L166.98,387.72 L166.8,385.31 L166.61,383.16 L166.4,381.21 L166.2,379.48 L165.99,377.99 L165.77,376.64 L165.56,375.43 L165.34,374.36 L165.13,373.44 L164.92,372.67 L164.71,371.96 L164.49,371.22 L164.25,370.35 L163.98,369.33 L163.7,368.21 L163.41,367.06 L163.11,365.94 L162.8,364.9 L162.51,364.02 L162.21,363.18 L161.91,362.36 L161.61,361.57 L161.31,360.85 L161.01,360.19 L160.72,359.62 L160.43,359.16 L160.16,358.79 L159.89,358.45 L159.62,358.14 L159.36,357.86 L159.09,357.61 L158.83,357.38 L158.56,357.16 L158.3,356.96 L158.04,356.77 L157.77,356.59 L157.51,356.42 L157.24,356.25 L156.98,356.08 L156.71,355.91 L156.43,355.73 L156.16,355.55 L155.88,355.38 L155.61,355.22 L155.33,355.06 L155.05,354.9 L154.78,354.75 L154.5,354.61 L154.22,354.47 L153.94,354.33 L153.66,354.2 L153.37,354.07 L153.09,353.95 L152.81,353.82 L152.52,353.7 L152.23,353.58 L151.95,353.47 L151.66,353.36 L151.37,353.26 L151.09,353.16 L150.8,353.07 L150.51,352.99 L150.23,352.9 L149.94,352.82 L149.65,352.74 L149.36,352.66 L149.07,352.59 L148.78,352.51 L148.48,352.43 L148.19,352.36 L147.89,352.28 L147.59,352.19 L147.28,352.11 L146.98,352.02 L146.67,351.93 L146.35,351.84 L146.04,351.74 L145.72,351.63 L145.39,351.52 L145.06,351.4 L144.72,351.27 L144.38,351.14 L144.04,351 L143.68,350.85 L143.33,350.7 L142.97,350.54 L142.6,350.39 L142.23,350.22 L141.86,350.06 L141.48,349.9 L141.11,349.73 L140.72,349.57 L140.34,349.4 L139.95,349.24 L139.56,349.08 L139.17,348.93 L138.78,348.76 L138.37,348.59 L137.96,348.42 L137.55,348.24 L137.13,348.06 L136.71,347.89 L136.29,347.71 L135.86,347.53 L135.43,347.36 L135,347.18 L134.57,347.02 L134.14,346.86 L133.7,346.71 L133.27,346.56 L132.84,346.42 L132.42,346.3 L132,346.19 L131.57,346.08 L131.15,345.98 L130.73,345.88 L130.3,345.78 L129.88,345.69 L129.46,345.6 L129.03,345.52 L128.61,345.44 L128.18,345.37 L127.76,345.3 L127.33,345.24 L126.91,345.19 L126.49,345.13 L126.06,345.09 L125.64,345.05 L125.22,345.02 L124.8,344.99 L124.39,344.97 L123.97,344.95 L123.56,344.94 L123.15,344.94 L122.74,344.95 L122.33,344.96 L121.92,344.97 L121.51,344.98 L121.1,345 L120.69,345.01 L120.28,345.03 L119.87,345.06 L119.45,345.09 L119.04,345.12 L118.63,345.15 L118.22,345.19 L117.81,345.24 L117.41,345.29 L117,345.34 L116.6,345.41 L116.2,345.47 L115.8,345.55 L115.41,345.63 L115.02,345.72 L114.64,345.81 L114.26,345.92 L113.89,346.03 L113.52,346.15 L113.15,346.28 L112.8,346.41 L112.45,346.56 L112.1,346.72 L111.77,346.88 L111.44,347.05 L111.11,347.23 L110.79,347.41 L110.47,347.6 L110.15,347.79 L109.84,347.99 L109.53,348.19 L109.22,348.39 L108.91,348.6 L108.61,348.81 L108.31,349.02 L108.01,349.23 L107.71,349.45 L107.42,349.67 L107.12,349.89 L106.83,350.12 L106.54,350.34 L106.24,350.57 L105.95,350.8 L105.66,351.03 L105.37,351.26 L105.08,351.49 L104.79,351.72 L104.5,351.95 L104.22,352.19 L103.93,352.43 L103.65,352.67 L103.38,352.92 L103.1,353.17 L102.82,353.41 L102.55,353.66 L102.27,353.92 L102,354.17 L101.72,354.42 L101.44,354.67 L101.17,354.92 L100.89,355.17 L100.61,355.42 L100.32,355.67 L100.04,355.92 L99.74,356.16 L99.45,356.4 L99.14,356.64 L98.84,356.88 L98.52,357.11 L98.21,357.34 L97.89,357.57 L97.56,357.8 L97.23,358.03 L96.9,358.26 L96.57,358.48 L96.24,358.71 L95.9,358.94 L95.57,359.17 L95.23,359.4 L94.89,359.64 L94.56,359.87 L94.22,360.11 L93.89,360.35 L93.56,360.59 L93.24,360.84 L92.91,361.09 L92.59,361.35 L92.28,361.6 L91.96,361.86 L91.65,362.12 L91.33,362.39 L91.01,362.65 L90.69,362.91 L90.37,363.18 L90.06,363.45 L89.74,363.71 L89.42,363.98 L89.11,364.26 L88.79,364.53 L88.48,364.81 L88.16,365.09 L87.85,365.37 L87.55,365.65 L87.24,365.94 L86.94,366.23 L86.64,366.52 L86.34,366.81 L86.05,367.11 L85.76,367.41 L85.48,367.72 L85.2,368.03 L84.92,368.34 L84.65,368.65 L84.38,368.97 L84.12,369.29 L83.87,369.62 L83.62,369.95 L83.37,370.28 L83.13,370.61 L82.88,370.94 L82.64,371.28 L82.4,371.61 L82.16,371.95 L81.93,372.29 L81.69,372.63 L81.46,372.98 L81.23,373.32 L81,373.67 L80.78,374.02 L80.55,374.37 L80.33,374.72 L80.11,375.07 L79.9,375.43 L79.68,375.78 L79.47,376.14 L79.26,376.5 L79.05,376.86 L78.85,377.23 L78.65,377.59 L78.45,377.96 L78.25,378.33 L78.06,378.7 L77.87,379.07 L77.68,379.44 L77.5,379.81 L77.32,380.19 L77.14,380.56 L76.96,380.94 L76.79,381.32 L76.62,381.7 L76.45,382.09 L76.29,382.47 L76.13,382.86 L75.97,383.24 L75.82,383.63 L75.67,384.02 L75.52,384.41 L75.38,384.8 L75.24,385.2 L75.1,385.59 L74.97,385.99 L74.84,386.38 L74.71,386.78 L74.59,387.18 L74.47,387.58 L74.35,387.98 L74.23,388.38 L74.12,388.78 L74.01,389.19 L73.9,389.59 L73.79,389.99 L73.68,390.4 L73.58,390.8 L73.48,391.21 L73.37,391.62 L73.28,392.02 L73.18,392.43 L73.09,392.84 L72.99,393.25 L72.9,393.66 L72.82,394.07 L72.73,394.48 L72.65,394.89 L72.57,395.3 L72.49,395.72 L72.41,396.13 L72.34,396.54 L72.27,396.96 L72.2,397.37 L72.14,397.79 L72.07,398.2 L72.01,398.62 L71.95,399.03 L71.9,399.45 L71.85,399.87 L71.8,400.28 L71.75,400.7 L71.71,401.12 L71.66,401.54 L71.63,401.96 L71.59,402.38 L71.56,402.8 L71.53,403.22 L71.5,403.64 L71.48,404.06 L71.46,404.48 L71.44,404.9 L71.43,405.32 L71.41,405.74 L71.41,406.16 L71.4,406.58 L71.4,407" stroke="#e2474b" stroke-width="2.5"/>
<path d="M263.7,407 L263.69,406.58 L263.68,406.16 L263.66,405.74 L263.64,405.32 L263.61,404.9 L263.58,404.49 L263.55,404.07 L263.52,403.65 L263.48,403.23 L263.43,402.81 L263.39,402.4 L263.34,401.98 L263.29,401.56 L263.23,401.15 L263.18,400.73 L263.12,400.32 L263.05,399.9 L262.98,399.49 L262.91,399.08 L262.84,398.66 L262.77,398.25 L262.69,397.84 L262.61,397.43 L262.52,397.02 L262.44,396.61 L262.35,396.2 L262.26,395.79 L262.16,395.39 L262.07,394.98 L261.97,394.57 L261.87,394.17 L261.76,393.76 L261.66,393.36 L261.55,392.95 L261.44,392.55 L261.33,392.15 L261.21,391.75 L261.09,391.35 L260.98,390.95 L260.86,390.55 L260.73,390.15 L260.61,389.76 L260.48,389.36 L260.34,388.97 L260.21,388.57 L260.07,388.18 L259.92,387.79 L259.78,387.4 L259.63,387.01 L259.47,386.63 L259.32,386.24 L259.16,385.86 L258.99,385.47 L258.82,385.09 L258.65,384.71 L258.48,384.33 L258.3,383.96 L258.12,383.58 L257.94,383.21 L257.75,382.84 L257.56,382.47 L257.36,382.1 L257.16,381.73 L256.96,381.37 L256.76,381 L256.55,380.64 L256.34,380.28 L256.12,379.93 L255.9,379.57 L255.68,379.22 L255.46,378.87 L255.23,378.52 L255,378.17 L254.76,377.83 L254.52,377.48 L254.28,377.14 L254.04,376.8 L253.79,376.47 L253.54,376.14 L253.28,375.8 L253.02,375.48 L252.75,375.15 L252.46,374.84 L252.16,374.53 L251.85,374.23 L251.52,373.93 L251.19,373.64 L250.84,373.36 L250.49,373.08 L250.13,372.8 L249.76,372.54 L249.38,372.27 L249.01,372.01 L248.62,371.76 L248.24,371.51 L247.85,371.26 L247.46,371.02 L247.07,370.77 L246.68,370.53 L246.29,370.29 L245.91,370.06 L245.53,369.82 L245.15,369.58 L244.78,369.35 L244.41,369.11 L244.06,368.87 L243.7,368.63 L243.36,368.39 L243.03,368.14 L242.69,367.9 L242.35,367.66 L242.02,367.42 L241.68,367.18 L241.34,366.95 L241.01,366.72 L240.67,366.49 L240.33,366.26 L240,366.03 L239.66,365.8 L239.33,365.58 L238.99,365.35 L238.66,365.13 L238.33,364.91 L238,364.69 L237.68,364.46 L237.35,364.24 L237.03,364.02 L236.71,363.8 L236.4,363.58 L236.08,363.36 L235.77,363.14 L235.46,362.92 L235.16,362.69 L234.86,362.47 L234.56,362.25 L234.27,362.02 L233.98,361.79 L233.69,361.56 L233.41,361.33 L233.13,361.1 L232.85,360.88 L232.57,360.65 L232.29,360.42 L232.01,360.19 L231.73,359.96 L231.46,359.74 L231.18,359.51 L230.9,359.28 L230.63,359.06 L230.35,358.83 L230.08,358.61 L229.81,358.39 L229.53,358.16 L229.26,357.94 L228.99,357.72 L228.72,357.49 L228.44,357.27 L228.17,357.05 L227.9,356.83 L227.63,356.61 L227.36,356.39 L227.09,356.18 L226.82,355.96 L226.55,355.74 L226.28,355.53 L226.01,355.31 L225.73,355.1 L225.46,354.88 L225.19,354.67 L224.92,354.46 L224.65,354.25 L224.38,354.04 L224.11,353.83 L223.84,353.62 L223.56,353.41 L223.29,353.2 L223.02,352.99 L222.76,352.78 L222.49,352.57 L222.22,352.36 L221.95,352.15 L221.68,351.95 L221.41,351.74 L221.15,351.53 L220.88,351.32 L220.61,351.12 L220.34,350.91 L220.07,350.71 L219.8,350.51 L219.53,350.31 L219.26,350.11 L218.98,349.91 L218.71,349.71 L218.44,349.52 L218.16,349.32 L217.88,349.13 L217.6,348.94 L217.32,348.76 L217.04,348.57 L216.76,348.39 L216.48,348.21 L216.19,348.03 L215.9,347.86 L215.61,347.68 L215.32,347.51 L215.03,347.35 L214.73,347.19 L214.43,347.03 L214.13,346.87 L213.83,346.73 L213.51,346.6 L213.19,346.47 L212.86,346.36 L212.53,346.25 L212.19,346.15 L211.85,346.06 L211.51,345.97 L211.17,345.89 L210.82,345.82 L210.47,345.74 L210.12,345.67 L209.77,345.6 L209.43,345.54 L209.08,345.47 L208.74,345.4 L208.4,345.33 L208.06,345.26 L207.72,345.18 L207.39,345.11 L207.06,345.02 L206.74,344.93 L206.42,344.83 L206.11,344.73 L205.81,344.61 L205.51,344.49 L205.22,344.35 L204.94,344.21 L204.66,344.05 L204.38,343.89 L204.11,343.72 L203.84,343.56 L203.56,343.4 L203.29,343.23 L203.01,343.07 L202.74,342.91 L202.46,342.75 L202.18,342.59 L201.91,342.43 L201.63,342.28 L201.35,342.12 L201.07,341.97 L200.78,341.82 L200.5,341.67 L200.22,341.53 L199.93,341.39 L199.64,341.26 L199.34,341.15 L199.03,341.04 L198.72,340.95 L198.41,340.86 L198.1,340.79 L197.78,340.72 L197.46,340.66 L197.14,340.6 L196.81,340.55 L196.49,340.5 L196.16,340.45 L195.84,340.4 L195.52,340.36 L195.19,340.31 L194.87,340.27 L194.55,340.22 L194.23,340.18 L193.91,340.15 L193.58,340.11 L193.26,340.08 L192.93,340.06 L192.61,340.04 L192.28,340.03 L191.95,340.02 L191.62,340.01 L191.29,340.01 L190.96,340.01 L190.63,340.02 L190.3,340.03 L189.97,340.05 L189.64,340.07 L189.31,340.1 L188.97,340.14 L188.64,340.19 L188.3,340.24 L187.96,340.31 L187.62,340.39 L187.28,340.47 L186.94,340.56 L186.59,340.66 L186.25,340.77 L185.91,340.89 L185.56,341.01 L185.22,341.13 L184.88,341.27 L184.54,341.4 L184.2,341.54 L183.86,341.69 L183.52,341.84 L183.18,341.99 L182.84,342.15 L182.51,342.31 L182.18,342.46 L181.84,342.62 L181.52,342.78 L181.19,342.95 L180.86,343.11 L180.54,343.27 L180.22,343.42 L179.9,343.58 L179.59,343.74 L179.27,343.89 L178.96,344.04 L178.65,344.18 L178.34,344.32 L178.04,344.48 L177.73,344.66 L177.42,344.84 L177.11,345.03 L176.81,345.23 L176.5,345.43 L176.2,345.63 L175.9,345.83 L175.6,346.02 L175.31,346.2 L175.02,346.36 L174.74,346.51 L174.45,346.65 L174.17,346.76 L173.9,346.85 L173.63,346.91 L173.36,346.94 L173.09,346.94 L172.83,346.89 L172.58,346.75 L172.33,346.55 L172.08,346.3 L171.84,346 L171.59,345.67 L171.34,345.31 L171.09,344.95 L170.84,344.58 L170.58,344.23 L170.32,343.9 L170.06,343.52 L169.79,343.12 L169.53,342.68 L169.26,342.24 L168.98,341.79 L168.7,341.35 L168.42,340.92 L168.14,340.52 L167.85,340.16 L167.55,339.85 L167.26,339.55 L166.96,339.26 L166.66,338.98 L166.36,338.72 L166.05,338.47 L165.75,338.22 L165.44,337.99 L165.13,337.76 L164.82,337.54 L164.5,337.33 L164.19,337.12 L163.87,336.92 L163.55,336.72 L163.23,336.53 L162.91,336.33 L162.58,336.12 L162.25,335.9 L161.92,335.69 L161.59,335.47 L161.26,335.26 L160.92,335.06 L160.59,334.86 L160.25,334.68 L159.91,334.52 L159.57,334.38 L159.24,334.26 L158.91,334.16 L158.57,334.1 L158.25,334.06 L157.92,334.06 L157.6,334.1 L157.29,334.16 L156.97,334.24 L156.66,334.34 L156.36,334.45 L156.05,334.58 L155.75,334.73 L155.45,334.88 L155.16,335.04 L154.86,335.22 L154.57,335.39 L154.28,335.58 L153.99,335.76 L153.71,335.95 L153.42,336.13 L153.14,336.32 L152.85,336.5 L152.57,336.67 L152.29,336.85 L152.01,337.04 L151.73,337.23 L151.45,337.42 L151.18,337.62 L150.91,337.82 L150.64,338.02 L150.37,338.23 L150.1,338.44 L149.84,338.66 L149.58,338.88 L149.32,339.1 L149.06,339.33 L148.81,339.55 L148.56,339.78 L148.31,340.02 L148.06,340.26 L147.82,340.53 L147.59,340.81 L147.37,341.11 L147.15,341.43 L146.94,341.75 L146.73,342.07 L146.52,342.4 L146.32,342.72 L146.11,343.03 L145.9,343.34 L145.69,343.63 L145.48,343.9 L145.26,344.15 L145.03,344.38 L144.79,344.57 L144.54,344.74 L144.28,344.87 L144,344.95 L143.7,344.99 L143.39,344.97 L143.05,344.91 L142.7,344.82 L142.33,344.69 L141.94,344.53 L141.55,344.34 L141.14,344.14 L140.72,343.91 L140.29,343.67 L139.85,343.43 L139.41,343.18 L138.96,342.92 L138.51,342.68 L138.06,342.44 L137.61,342.21 L137.17,341.99 L136.73,341.8 L136.29,341.63 L135.87,341.48 L135.45,341.34 L135.02,341.19 L134.58,341.04 L134.14,340.89 L133.7,340.74 L133.25,340.58 L132.81,340.43 L132.36,340.29 L131.9,340.14 L131.45,340 L131,339.86 L130.54,339.73 L130.09,339.6 L129.63,339.48 L129.18,339.37 L128.73,339.27 L128.28,339.17 L127.83,339.09 L127.38,339.01 L126.94,338.95 L126.51,338.9 L126.08,338.86 L125.65,338.84 L125.23,338.83 L124.82,338.82 L124.39,338.81 L123.97,338.81 L123.54,338.8 L123.12,338.79 L122.69,338.79 L122.26,338.79 L121.83,338.8 L121.41,338.81 L120.98,338.83 L120.56,338.86 L120.15,338.89 L119.73,338.94 L119.33,339 L118.93,339.07 L118.54,339.15 L118.16,339.25 L117.79,339.37 L117.43,339.5 L117.08,339.65 L116.74,339.81 L116.42,340 L116.12,340.2 L115.82,340.43 L115.53,340.66 L115.25,340.89 L114.97,341.13 L114.69,341.38 L114.42,341.62 L114.15,341.88 L113.88,342.13 L113.62,342.39 L113.36,342.65 L113.1,342.92 L112.85,343.19 L112.6,343.46 L112.35,343.73 L112.1,344.01 L111.86,344.29 L111.62,344.57 L111.38,344.86 L111.15,345.14 L110.91,345.43 L110.68,345.72 L110.45,346.01 L110.23,346.3 L110.01,346.6 L109.81,346.91 L109.61,347.24 L109.43,347.57 L109.26,347.92 L109.09,348.27 L108.94,348.62 L108.79,348.98 L108.65,349.35 L108.51,349.72 L108.38,350.09 L108.24,350.46 L108.11,350.83 L107.98,351.2 L107.85,351.56 L107.72,351.93 L107.59,352.28 L107.44,352.63 L107.3,352.98 L107.15,353.32 L106.99,353.65 L106.84,353.99 L106.69,354.33 L106.55,354.67 L106.4,355.01 L106.26,355.34 L106.11,355.68 L105.96,356.01 L105.81,356.33 L105.64,356.65 L105.46,356.95 L105.28,357.25 L105.08,357.54 L104.86,357.81 L104.65,358.09 L104.43,358.36 L104.22,358.64 L104.01,358.92 L103.8,359.2 L103.59,359.48 L103.39,359.76 L103.18,360.04 L102.98,360.32 L102.77,360.6 L102.57,360.88 L102.35,361.16 L102.11,361.42 L101.86,361.67 L101.6,361.92 L101.33,362.15 L101.05,362.39 L100.76,362.62 L100.46,362.84 L100.15,363.06 L99.84,363.27 L99.51,363.48 L99.18,363.69 L98.85,363.9 L98.51,364.11 L98.17,364.32 L97.83,364.53 L97.48,364.74 L97.14,364.95 L96.79,365.16 L96.45,365.38 L96.11,365.6 L95.77,365.82 L95.43,366.05 L95.1,366.28 L94.78,366.51 L94.44,366.74 L94.1,366.97 L93.75,367.2 L93.4,367.43 L93.03,367.65 L92.67,367.88 L92.3,368.1 L91.92,368.33 L91.54,368.55 L91.16,368.78 L90.78,369.01 L90.4,369.24 L90.01,369.47 L89.63,369.7 L89.24,369.94 L88.86,370.18 L88.47,370.42 L88.09,370.66 L87.72,370.91 L87.34,371.17 L86.98,371.43 L86.61,371.69 L86.25,371.95 L85.9,372.23 L85.56,372.5 L85.22,372.78 L84.89,373.07 L84.58,373.36 L84.27,373.66 L83.97,373.97 L83.67,374.27 L83.37,374.58 L83.07,374.89 L82.77,375.2 L82.48,375.51 L82.18,375.83 L81.89,376.14 L81.6,376.46 L81.31,376.79 L81.02,377.11 L80.74,377.44 L80.46,377.77 L80.18,378.1 L79.91,378.43 L79.63,378.77 L79.36,379.11 L79.1,379.45 L78.84,379.79 L78.58,380.14 L78.33,380.49 L78.08,380.84 L77.84,381.2 L77.6,381.55 L77.37,381.91 L77.14,382.27 L76.92,382.64 L76.7,383.01 L76.49,383.38 L76.29,383.75 L76.09,384.13 L75.91,384.51 L75.72,384.89 L75.55,385.27 L75.38,385.66 L75.22,386.04 L75.07,386.43 L74.92,386.83 L74.78,387.22 L74.65,387.62 L74.53,388.02 L74.4,388.41 L74.28,388.81 L74.15,389.21 L74.04,389.62 L73.92,390.02 L73.8,390.42 L73.69,390.82 L73.58,391.23 L73.47,391.63 L73.37,392.04 L73.26,392.44 L73.16,392.85 L73.07,393.26 L72.97,393.67 L72.88,394.08 L72.79,394.49 L72.7,394.9 L72.62,395.31 L72.53,395.72 L72.45,396.13 L72.38,396.55 L72.3,396.96 L72.23,397.37 L72.16,397.79 L72.1,398.2 L72.03,398.62 L71.97,399.03 L71.91,399.45 L71.86,399.87 L71.81,400.29 L71.76,400.7 L71.71,401.12 L71.67,401.54 L71.63,401.96 L71.6,402.38 L71.56,402.8 L71.53,403.22 L71.5,403.64 L71.48,404.06 L71.46,404.48 L71.44,404.9 L71.43,405.32 L71.41,405.74 L71.41,406.16 L71.4,406.58 L71.4,407" stroke="#c9d64c" stroke-width="2.5"/>
<path d="M262,407 L262,406.59 L262,406.18 L261.99,405.76 L261.98,405.35 L261.97,404.94 L261.96,404.53 L261.94,404.12 L261.92,403.71 L261.9,403.29 L261.88,402.88 L261.85,402.47 L261.82,402.06 L261.8,401.65 L261.76,401.24 L261.73,400.83 L261.69,400.42 L261.65,400.01 L261.61,399.6 L261.57,399.19 L261.52,398.78 L261.47,398.37 L261.42,397.96 L261.37,397.55 L261.32,397.15 L261.26,396.74 L261.2,396.33 L261.14,395.93 L261.08,395.52 L261.01,395.11 L260.95,394.71 L260.88,394.3 L260.81,393.9 L260.73,393.49 L260.66,393.09 L260.58,392.68 L260.49,392.28 L260.4,391.88 L260.3,391.48 L260.2,391.08 L260.09,390.69 L259.97,390.29 L259.85,389.9 L259.73,389.5 L259.6,389.11 L259.47,388.72 L259.33,388.33 L259.19,387.94 L259.04,387.56 L258.89,387.17 L258.73,386.79 L258.57,386.41 L258.41,386.03 L258.25,385.65 L258.08,385.27 L257.9,384.9 L257.72,384.52 L257.54,384.15 L257.36,383.78 L257.18,383.41 L256.99,383.04 L256.8,382.67 L256.6,382.31 L256.4,381.95 L256.21,381.58 L256,381.22 L255.8,380.86 L255.6,380.51 L255.39,380.15 L255.18,379.8 L254.97,379.44 L254.76,379.09 L254.55,378.74 L254.33,378.39 L254.12,378.04 L253.9,377.69 L253.69,377.35 L253.47,377 L253.25,376.66 L253.03,376.32 L252.81,375.98 L252.59,375.64 L252.36,375.3 L252.13,374.96 L251.9,374.63 L251.66,374.3 L251.42,373.97 L251.18,373.64 L250.93,373.32 L250.68,373 L250.43,372.68 L250.17,372.36 L249.92,372.05 L249.66,371.73 L249.39,371.42 L249.13,371.11 L248.86,370.81 L248.59,370.5 L248.32,370.2 L248.05,369.9 L247.78,369.6 L247.51,369.3 L247.23,369 L246.96,368.71 L246.68,368.42 L246.4,368.12 L246.13,367.83 L245.85,367.55 L245.57,367.26 L245.3,366.97 L245.02,366.69 L244.74,366.4 L244.46,366.12 L244.19,365.83 L243.91,365.55 L243.64,365.27 L243.36,364.99 L243.09,364.71 L242.82,364.43 L242.55,364.15 L242.27,363.87 L242,363.6 L241.72,363.32 L241.45,363.05 L241.17,362.78 L240.89,362.51 L240.61,362.24 L240.33,361.98 L240.05,361.71 L239.77,361.45 L239.49,361.18 L239.21,360.92 L238.93,360.66 L238.65,360.4 L238.36,360.15 L238.08,359.89 L237.8,359.63 L237.52,359.38 L237.23,359.13 L236.95,358.87 L236.67,358.62 L236.38,358.37 L236.1,358.12 L235.82,357.87 L235.54,357.62 L235.25,357.38 L234.97,357.13 L234.69,356.88 L234.41,356.64 L234.13,356.39 L233.85,356.15 L233.57,355.9 L233.29,355.66 L233.01,355.41 L232.73,355.17 L232.45,354.93 L232.17,354.69 L231.9,354.45 L231.62,354.21 L231.34,353.97 L231.05,353.73 L230.77,353.5 L230.49,353.26 L230.21,353.03 L229.93,352.8 L229.65,352.56 L229.36,352.33 L229.08,352.1 L228.8,351.87 L228.52,351.64 L228.23,351.42 L227.95,351.19 L227.67,350.96 L227.39,350.74 L227.1,350.51 L226.82,350.29 L226.54,350.06 L226.25,349.84 L225.97,349.61 L225.69,349.39 L225.4,349.17 L225.12,348.95 L224.84,348.73 L224.56,348.51 L224.27,348.29 L223.99,348.07 L223.71,347.85 L223.42,347.63 L223.14,347.41 L222.85,347.2 L222.57,346.99 L222.28,346.77 L221.99,346.56 L221.7,346.36 L221.41,346.15 L221.12,345.94 L220.83,345.74 L220.54,345.53 L220.25,345.33 L219.95,345.12 L219.66,344.92 L219.37,344.72 L219.08,344.52 L218.78,344.32 L218.49,344.12 L218.2,343.92 L217.91,343.72 L217.61,343.52 L217.32,343.32 L217.03,343.12 L216.74,342.92 L216.45,342.73 L216.15,342.53 L215.86,342.33 L215.57,342.13 L215.28,341.93 L214.99,341.72 L214.71,341.52 L214.42,341.32 L214.13,341.12 L213.84,340.91 L213.55,340.71 L213.27,340.51 L212.98,340.31 L212.69,340.11 L212.4,339.91 L212.11,339.71 L211.82,339.51 L211.52,339.31 L211.23,339.12 L210.94,338.92 L210.64,338.72 L210.35,338.53 L210.06,338.34 L209.76,338.14 L209.47,337.95 L209.17,337.76 L208.87,337.57 L208.57,337.38 L208.27,337.19 L207.98,337.01 L207.68,336.82 L207.37,336.63 L207.07,336.45 L206.77,336.27 L206.47,336.09 L206.16,335.91 L205.86,335.73 L205.55,335.55 L205.25,335.37 L204.94,335.19 L204.63,335.02 L204.33,334.85 L204.02,334.67 L203.71,334.49 L203.41,334.31 L203.1,334.13 L202.79,333.95 L202.49,333.77 L202.18,333.59 L201.87,333.41 L201.57,333.23 L201.26,333.05 L200.95,332.87 L200.64,332.69 L200.33,332.51 L200.02,332.33 L199.71,332.15 L199.4,331.97 L199.09,331.8 L198.78,331.62 L198.46,331.45 L198.15,331.27 L197.83,331.1 L197.52,330.94 L197.2,330.77 L196.88,330.61 L196.56,330.45 L196.23,330.29 L195.91,330.13 L195.59,329.98 L195.26,329.83 L194.93,329.68 L194.6,329.54 L194.27,329.4 L193.94,329.27 L193.6,329.14 L193.27,329.01 L192.93,328.89 L192.59,328.77 L192.25,328.66 L191.91,328.55 L191.56,328.46 L191.21,328.38 L190.86,328.31 L190.5,328.27 L190.13,328.23 L189.77,328.21 L189.4,328.2 L189.03,328.2 L188.66,328.21 L188.28,328.23 L187.91,328.26 L187.53,328.3 L187.16,328.34 L186.78,328.39 L186.4,328.45 L186.03,328.51 L185.65,328.57 L185.28,328.64 L184.9,328.71 L184.53,328.78 L184.16,328.85 L183.78,328.93 L183.42,328.99 L183.05,329.06 L182.68,329.13 L182.32,329.19 L181.96,329.24 L181.6,329.29 L181.24,329.34 L180.88,329.37 L180.53,329.4 L180.18,329.42 L179.83,329.43 L179.48,329.42 L179.14,329.41 L178.8,329.38 L178.46,329.34 L178.12,329.29 L177.78,329.25 L177.44,329.2 L177.1,329.15 L176.76,329.11 L176.42,329.06 L176.08,329.01 L175.74,328.97 L175.4,328.92 L175.06,328.88 L174.72,328.83 L174.38,328.79 L174.04,328.74 L173.7,328.7 L173.36,328.65 L173.02,328.61 L172.68,328.57 L172.33,328.52 L171.99,328.48 L171.65,328.44 L171.31,328.4 L170.97,328.36 L170.62,328.32 L170.28,328.28 L169.94,328.24 L169.59,328.2 L169.25,328.16 L168.91,328.12 L168.56,328.09 L168.22,328.05 L167.87,328.02 L167.53,327.98 L167.18,327.92 L166.84,327.84 L166.49,327.74 L166.14,327.62 L165.79,327.48 L165.44,327.33 L165.08,327.16 L164.73,326.99 L164.37,326.8 L164.01,326.61 L163.65,326.41 L163.28,326.2 L162.92,325.99 L162.55,325.78 L162.18,325.58 L161.8,325.37 L161.43,325.18 L161.06,324.98 L160.68,324.8 L160.3,324.63 L159.92,324.46 L159.54,324.32 L159.17,324.18 L158.79,324.07 L158.41,323.97 L158.03,323.9 L157.66,323.85 L157.29,323.82 L156.92,323.82 L156.55,323.84 L156.19,323.9 L155.83,323.96 L155.47,324.03 L155.11,324.12 L154.75,324.21 L154.4,324.32 L154.05,324.43 L153.7,324.55 L153.35,324.67 L153,324.8 L152.66,324.94 L152.31,325.08 L151.97,325.23 L151.63,325.38 L151.29,325.53 L150.95,325.69 L150.61,325.84 L150.27,326 L149.94,326.16 L149.6,326.32 L149.27,326.47 L148.93,326.63 L148.6,326.78 L148.26,326.93 L147.93,327.08 L147.59,327.22 L147.26,327.35 L146.92,327.48 L146.58,327.61 L146.24,327.73 L145.9,327.84 L145.56,327.94 L145.21,328.04 L144.87,328.14 L144.52,328.23 L144.18,328.33 L143.83,328.43 L143.48,328.52 L143.14,328.62 L142.79,328.71 L142.45,328.81 L142.1,328.91 L141.75,329 L141.41,329.1 L141.06,329.2 L140.71,329.29 L140.37,329.39 L140.02,329.49 L139.67,329.59 L139.33,329.69 L138.98,329.78 L138.63,329.88 L138.28,329.98 L137.94,330.09 L137.59,330.19 L137.24,330.29 L136.9,330.39 L136.55,330.5 L136.2,330.6 L135.86,330.71 L135.51,330.82 L135.16,330.93 L134.81,331.03 L134.47,331.14 L134.12,331.26 L133.78,331.37 L133.43,331.48 L133.08,331.6 L132.74,331.71 L132.39,331.83 L132.05,331.95 L131.7,332.07 L131.36,332.19 L131.01,332.3 L130.66,332.41 L130.3,332.52 L129.95,332.63 L129.59,332.73 L129.24,332.84 L128.88,332.94 L128.52,333.04 L128.15,333.14 L127.79,333.23 L127.43,333.33 L127.06,333.43 L126.69,333.53 L126.33,333.62 L125.96,333.72 L125.59,333.82 L125.22,333.92 L124.85,334.02 L124.48,334.12 L124.11,334.22 L123.74,334.32 L123.37,334.43 L123,334.54 L122.63,334.65 L122.26,334.76 L121.89,334.87 L121.52,334.99 L121.16,335.11 L120.79,335.24 L120.43,335.36 L120.06,335.49 L119.7,335.63 L119.34,335.77 L118.98,335.91 L118.63,336.06 L118.27,336.21 L117.92,336.36 L117.56,336.51 L117.2,336.66 L116.84,336.81 L116.49,336.96 L116.13,337.11 L115.77,337.26 L115.41,337.42 L115.05,337.57 L114.69,337.73 L114.33,337.89 L113.97,338.05 L113.61,338.21 L113.25,338.38 L112.9,338.54 L112.55,338.72 L112.19,338.89 L111.85,339.07 L111.5,339.26 L111.15,339.45 L110.81,339.64 L110.48,339.84 L110.14,340.04 L109.81,340.25 L109.49,340.46 L109.17,340.68 L108.85,340.91 L108.54,341.14 L108.23,341.38 L107.93,341.62 L107.64,341.87 L107.35,342.13 L107.07,342.4 L106.79,342.67 L106.51,342.94 L106.24,343.21 L105.97,343.49 L105.71,343.78 L105.44,344.06 L105.18,344.35 L104.93,344.64 L104.67,344.93 L104.42,345.22 L104.17,345.52 L103.92,345.81 L103.67,346.11 L103.43,346.41 L103.19,346.72 L102.95,347.02 L102.71,347.32 L102.47,347.62 L102.23,347.93 L101.99,348.23 L101.76,348.54 L101.52,348.84 L101.28,349.15 L101.05,349.45 L100.81,349.76 L100.58,350.06 L100.34,350.37 L100.1,350.67 L99.87,350.98 L99.64,351.28 L99.4,351.59 L99.17,351.9 L98.94,352.2 L98.72,352.51 L98.49,352.82 L98.26,353.13 L98.04,353.45 L97.81,353.76 L97.59,354.07 L97.37,354.38 L97.15,354.7 L96.92,355.01 L96.7,355.32 L96.48,355.64 L96.26,355.95 L96.04,356.26 L95.82,356.58 L95.6,356.89 L95.37,357.2 L95.14,357.51 L94.91,357.81 L94.67,358.12 L94.43,358.42 L94.18,358.71 L93.93,359.01 L93.68,359.3 L93.42,359.6 L93.16,359.89 L92.9,360.18 L92.63,360.47 L92.37,360.76 L92.1,361.04 L91.83,361.33 L91.55,361.62 L91.28,361.91 L91,362.2 L90.72,362.48 L90.45,362.77 L90.17,363.06 L89.89,363.35 L89.61,363.64 L89.33,363.93 L89.05,364.22 L88.77,364.52 L88.49,364.81 L88.21,365.11 L87.93,365.41 L87.66,365.71 L87.38,366.01 L87.11,366.31 L86.84,366.62 L86.57,366.93 L86.31,367.24 L86.04,367.55 L85.77,367.86 L85.49,368.17 L85.21,368.47 L84.92,368.78 L84.63,369.08 L84.33,369.39 L84.03,369.69 L83.73,370 L83.43,370.3 L83.13,370.61 L82.83,370.92 L82.53,371.23 L82.23,371.54 L81.93,371.86 L81.64,372.18 L81.35,372.5 L81.07,372.82 L80.79,373.15 L80.52,373.48 L80.25,373.82 L79.99,374.16 L79.74,374.5 L79.5,374.85 L79.27,375.2 L79.05,375.56 L78.83,375.92 L78.61,376.28 L78.39,376.64 L78.18,377 L77.96,377.36 L77.75,377.73 L77.54,378.1 L77.33,378.47 L77.13,378.84 L76.93,379.21 L76.73,379.58 L76.53,379.96 L76.34,380.33 L76.16,380.71 L75.97,381.09 L75.79,381.47 L75.62,381.86 L75.44,382.24 L75.28,382.63 L75.12,383.02 L74.96,383.41 L74.81,383.81 L74.66,384.2 L74.52,384.6 L74.39,385 L74.26,385.4 L74.13,385.8 L74.02,386.2 L73.91,386.61 L73.8,387.01 L73.71,387.42 L73.61,387.83 L73.52,388.24 L73.42,388.65 L73.33,389.06 L73.25,389.47 L73.16,389.88 L73.07,390.29 L72.99,390.7 L72.91,391.12 L72.83,391.53 L72.76,391.94 L72.68,392.36 L72.61,392.77 L72.54,393.18 L72.47,393.6 L72.41,394.01 L72.35,394.43 L72.28,394.84 L72.22,395.26 L72.17,395.68 L72.11,396.09 L72.06,396.51 L72.01,396.93 L71.96,397.35 L71.91,397.76 L71.86,398.18 L71.82,398.6 L71.78,399.02 L71.74,399.44 L71.7,399.86 L71.67,400.28 L71.64,400.69 L71.61,401.11 L71.58,401.53 L71.55,401.95 L71.53,402.37 L71.51,402.79 L71.49,403.21 L71.47,403.63 L71.45,404.06 L71.44,404.48 L71.43,404.9 L71.42,405.32 L71.41,405.74 L71.4,406.16 L71.4,406.58 L71.4,407" stroke="#5cb887" stroke-width="2.5"/>
<path d="M262,407 L262,406.59 L262,406.18 L261.99,405.76 L261.98,405.35 L261.97,404.94 L261.96,404.53 L261.94,404.12 L261.92,403.71 L261.9,403.29 L261.88,402.88 L261.85,402.47 L261.82,402.06 L261.79,401.65 L261.76,401.24 L261.73,400.83 L261.69,400.42 L261.65,400.01 L261.61,399.6 L261.57,399.19 L261.52,398.78 L261.47,398.37 L261.42,397.96 L261.37,397.55 L261.32,397.15 L261.26,396.74 L261.2,396.33 L261.14,395.93 L261.08,395.52 L261.01,395.11 L260.95,394.71 L260.88,394.3 L260.81,393.9 L260.73,393.49 L260.66,393.09 L260.58,392.68 L260.49,392.28 L260.41,391.88 L260.31,391.48 L260.22,391.08 L260.12,390.68 L260.01,390.28 L259.9,389.89 L259.79,389.49 L259.67,389.1 L259.55,388.7 L259.42,388.31 L259.29,387.92 L259.16,387.53 L259.02,387.14 L258.88,386.76 L258.74,386.37 L258.59,385.99 L258.44,385.6 L258.29,385.22 L258.13,384.84 L257.97,384.46 L257.81,384.08 L257.64,383.71 L257.47,383.33 L257.3,382.96 L257.13,382.58 L256.95,382.21 L256.77,381.84 L256.59,381.47 L256.4,381.11 L256.21,380.74 L256.02,380.38 L255.83,380.02 L255.64,379.65 L255.44,379.29 L255.24,378.94 L255.04,378.58 L254.84,378.22 L254.64,377.87 L254.43,377.52 L254.22,377.16 L254.01,376.81 L253.8,376.46 L253.59,376.12 L253.38,375.77 L253.16,375.43 L252.93,375.08 L252.7,374.75 L252.46,374.41 L252.21,374.08 L251.96,373.76 L251.71,373.43 L251.45,373.11 L251.18,372.79 L250.91,372.48 L250.64,372.17 L250.36,371.86 L250.08,371.55 L249.79,371.25 L249.5,370.95 L249.21,370.65 L248.92,370.35 L248.63,370.06 L248.33,369.77 L248.04,369.48 L247.74,369.19 L247.44,368.9 L247.14,368.62 L246.84,368.34 L246.55,368.06 L246.25,367.77 L245.95,367.49 L245.66,367.22 L245.36,366.94 L245.07,366.66 L244.78,366.38 L244.49,366.1 L244.2,365.83 L243.92,365.55 L243.64,365.27 L243.36,364.99 L243.09,364.71 L242.82,364.43 L242.55,364.15 L242.28,363.87 L242,363.6 L241.73,363.32 L241.45,363.05 L241.17,362.78 L240.89,362.51 L240.61,362.24 L240.33,361.98 L240.05,361.71 L239.77,361.45 L239.49,361.18 L239.21,360.92 L238.93,360.66 L238.65,360.4 L238.37,360.14 L238.09,359.88 L237.81,359.62 L237.54,359.37 L237.26,359.11 L236.98,358.85 L236.71,358.59 L236.44,358.33 L236.16,358.08 L235.9,357.82 L235.63,357.56 L235.36,357.3 L235.1,357.04 L234.83,356.77 L234.57,356.51 L234.32,356.25 L234.06,355.98 L233.81,355.72 L233.56,355.45 L233.31,355.18 L233.07,354.91 L232.82,354.63 L232.57,354.36 L232.33,354.09 L232.08,353.83 L231.83,353.56 L231.58,353.29 L231.33,353.02 L231.08,352.76 L230.83,352.49 L230.58,352.23 L230.33,351.97 L230.07,351.71 L229.82,351.44 L229.56,351.18 L229.31,350.92 L229.05,350.67 L228.79,350.41 L228.54,350.15 L228.28,349.89 L228.02,349.64 L227.76,349.38 L227.5,349.13 L227.24,348.88 L226.98,348.62 L226.71,348.37 L226.45,348.12 L226.18,347.87 L225.92,347.62 L225.65,347.38 L225.39,347.13 L225.12,346.88 L224.85,346.64 L224.58,346.39 L224.31,346.15 L224.04,345.91 L223.77,345.67 L223.5,345.42 L223.23,345.19 L222.95,344.95 L222.68,344.71 L222.4,344.47 L222.13,344.24 L221.85,344 L221.57,343.77 L221.29,343.54 L221.01,343.31 L220.73,343.08 L220.45,342.85 L220.16,342.63 L219.88,342.4 L219.59,342.18 L219.31,341.95 L219.02,341.73 L218.73,341.51 L218.45,341.29 L218.16,341.07 L217.87,340.85 L217.58,340.64 L217.28,340.42 L216.99,340.21 L216.7,339.99 L216.4,339.78 L216.11,339.57 L215.81,339.36 L215.51,339.15 L215.22,338.94 L214.92,338.74 L214.62,338.53 L214.32,338.33 L214.02,338.13 L213.72,337.92 L213.42,337.72 L213.12,337.52 L212.82,337.31 L212.52,337.1 L212.23,336.89 L211.93,336.68 L211.64,336.46 L211.34,336.25 L211.05,336.04 L210.75,335.82 L210.46,335.6 L210.17,335.39 L209.87,335.17 L209.58,334.95 L209.28,334.73 L208.99,334.52 L208.69,334.3 L208.39,334.08 L208.1,333.87 L207.8,333.65 L207.5,333.44 L207.2,333.22 L206.9,333.01 L206.6,332.8 L206.29,332.59 L205.99,332.38 L205.68,332.17 L205.37,331.97 L205.07,331.77 L204.75,331.57 L204.44,331.37 L204.13,331.17 L203.81,330.98 L203.5,330.78 L203.19,330.58 L202.87,330.38 L202.56,330.18 L202.25,329.98 L201.93,329.78 L201.62,329.58 L201.3,329.38 L200.98,329.18 L200.67,328.99 L200.35,328.79 L200.03,328.59 L199.71,328.39 L199.39,328.2 L199.06,328.01 L198.74,327.81 L198.41,327.63 L198.09,327.44 L197.76,327.25 L197.43,327.07 L197.1,326.89 L196.77,326.72 L196.43,326.54 L196.1,326.37 L195.76,326.21 L195.42,326.05 L195.08,325.89 L194.73,325.74 L194.39,325.59 L194.04,325.44 L193.69,325.3 L193.34,325.17 L192.99,325.04 L192.64,324.92 L192.28,324.8 L191.92,324.69 L191.56,324.59 L191.2,324.5 L190.83,324.42 L190.46,324.36 L190.08,324.3 L189.71,324.26 L189.33,324.23 L188.95,324.21 L188.57,324.2 L188.18,324.2 L187.8,324.2 L187.41,324.22 L187.03,324.23 L186.64,324.26 L186.25,324.29 L185.87,324.32 L185.48,324.35 L185.1,324.39 L184.71,324.43 L184.33,324.47 L183.94,324.52 L183.56,324.56 L183.18,324.6 L182.8,324.64 L182.42,324.67 L182.05,324.71 L181.67,324.74 L181.3,324.76 L180.93,324.78 L180.56,324.79 L180.19,324.8 L179.82,324.79 L179.45,324.78 L179.09,324.76 L178.73,324.73 L178.37,324.69 L178.01,324.64 L177.65,324.59 L177.29,324.54 L176.93,324.49 L176.57,324.44 L176.21,324.39 L175.85,324.33 L175.49,324.28 L175.13,324.22 L174.78,324.16 L174.42,324.11 L174.06,324.05 L173.69,323.99 L173.33,323.94 L172.97,323.88 L172.61,323.82 L172.25,323.76 L171.89,323.71 L171.53,323.65 L171.16,323.59 L170.8,323.54 L170.44,323.48 L170.07,323.43 L169.71,323.37 L169.35,323.32 L168.98,323.27 L168.62,323.22 L168.25,323.17 L167.88,323.12 L167.52,323.08 L167.15,323.02 L166.78,322.95 L166.41,322.88 L166.04,322.8 L165.67,322.71 L165.3,322.61 L164.93,322.51 L164.56,322.4 L164.18,322.29 L163.81,322.18 L163.43,322.07 L163.05,321.95 L162.67,321.83 L162.29,321.72 L161.91,321.6 L161.52,321.49 L161.14,321.38 L160.76,321.28 L160.37,321.18 L159.98,321.08 L159.6,320.99 L159.21,320.91 L158.82,320.84 L158.43,320.78 L158.05,320.72 L157.66,320.68 L157.27,320.65 L156.89,320.62 L156.5,320.62 L156.12,320.62 L155.74,320.64 L155.36,320.68 L154.98,320.73 L154.61,320.79 L154.23,320.86 L153.86,320.93 L153.48,321 L153.11,321.08 L152.74,321.16 L152.37,321.25 L152,321.34 L151.63,321.44 L151.26,321.54 L150.89,321.64 L150.52,321.74 L150.16,321.85 L149.79,321.96 L149.43,322.07 L149.07,322.19 L148.7,322.31 L148.34,322.43 L147.98,322.55 L147.62,322.67 L147.26,322.8 L146.9,322.92 L146.54,323.05 L146.19,323.18 L145.83,323.3 L145.47,323.43 L145.12,323.57 L144.76,323.71 L144.41,323.85 L144.06,324 L143.71,324.15 L143.36,324.3 L143.02,324.46 L142.67,324.62 L142.33,324.78 L141.99,324.95 L141.65,325.12 L141.31,325.29 L140.97,325.46 L140.63,325.64 L140.3,325.81 L139.96,325.99 L139.63,326.17 L139.3,326.35 L138.96,326.53 L138.63,326.71 L138.3,326.9 L137.97,327.08 L137.64,327.26 L137.31,327.44 L136.99,327.63 L136.66,327.81 L136.33,327.99 L136,328.17 L135.67,328.35 L135.34,328.52 L135.02,328.7 L134.69,328.87 L134.36,329.04 L134.03,329.21 L133.7,329.38 L133.36,329.55 L133.03,329.71 L132.7,329.87 L132.36,330.02 L132.02,330.18 L131.69,330.33 L131.34,330.47 L131,330.61 L130.66,330.75 L130.31,330.88 L129.96,331.01 L129.61,331.14 L129.26,331.27 L128.9,331.39 L128.55,331.51 L128.19,331.63 L127.83,331.75 L127.47,331.87 L127.11,331.98 L126.75,332.1 L126.39,332.21 L126.03,332.33 L125.66,332.44 L125.3,332.56 L124.93,332.67 L124.56,332.79 L124.2,332.9 L123.83,333.02 L123.46,333.14 L123.1,333.26 L122.73,333.38 L122.36,333.5 L122,333.63 L121.63,333.76 L121.27,333.89 L120.9,334.02 L120.54,334.16 L120.18,334.3 L119.82,334.44 L119.46,334.59 L119.1,334.74 L118.75,334.9 L118.39,335.05 L118.03,335.2 L117.67,335.34 L117.3,335.49 L116.94,335.63 L116.57,335.78 L116.2,335.92 L115.83,336.07 L115.46,336.21 L115.09,336.36 L114.72,336.51 L114.35,336.66 L113.98,336.81 L113.62,336.97 L113.25,337.12 L112.88,337.29 L112.52,337.45 L112.16,337.62 L111.8,337.79 L111.44,337.97 L111.09,338.16 L110.74,338.34 L110.4,338.54 L110.06,338.74 L109.72,338.95 L109.39,339.16 L109.06,339.38 L108.74,339.61 L108.43,339.85 L108.12,340.09 L107.82,340.35 L107.53,340.61 L107.25,340.88 L106.98,341.16 L106.71,341.45 L106.46,341.75 L106.2,342.05 L105.96,342.36 L105.72,342.67 L105.48,342.99 L105.25,343.31 L105.02,343.63 L104.78,343.95 L104.55,344.26 L104.32,344.58 L104.08,344.89 L103.85,345.2 L103.6,345.51 L103.35,345.81 L103.1,346.11 L102.86,346.41 L102.61,346.7 L102.36,347 L102.12,347.31 L101.87,347.61 L101.63,347.91 L101.39,348.21 L101.15,348.52 L100.91,348.82 L100.67,349.13 L100.43,349.43 L100.2,349.74 L99.96,350.05 L99.73,350.36 L99.49,350.66 L99.26,350.97 L99.03,351.28 L98.8,351.59 L98.57,351.9 L98.34,352.21 L98.11,352.52 L97.88,352.84 L97.65,353.15 L97.42,353.46 L97.2,353.77 L96.97,354.09 L96.75,354.4 L96.52,354.72 L96.3,355.03 L96.08,355.35 L95.86,355.66 L95.63,355.98 L95.41,356.29 L95.19,356.61 L94.96,356.92 L94.73,357.23 L94.5,357.53 L94.26,357.84 L94.01,358.14 L93.77,358.44 L93.52,358.74 L93.26,359.04 L93.01,359.33 L92.75,359.63 L92.49,359.92 L92.22,360.21 L91.96,360.5 L91.69,360.8 L91.42,361.09 L91.15,361.38 L90.87,361.67 L90.6,361.96 L90.32,362.25 L90.05,362.54 L89.77,362.83 L89.49,363.13 L89.21,363.42 L88.94,363.72 L88.66,364.01 L88.38,364.31 L88.1,364.61 L87.83,364.91 L87.56,365.21 L87.28,365.51 L87.01,365.82 L86.74,366.13 L86.47,366.44 L86.21,366.75 L85.95,367.06 L85.68,367.38 L85.42,367.69 L85.14,368 L84.86,368.31 L84.58,368.62 L84.29,368.93 L84,369.24 L83.71,369.55 L83.42,369.86 L83.12,370.17 L82.83,370.48 L82.53,370.79 L82.24,371.11 L81.95,371.43 L81.66,371.75 L81.38,372.07 L81.1,372.4 L80.82,372.72 L80.55,373.06 L80.28,373.39 L80.03,373.73 L79.78,374.08 L79.54,374.42 L79.3,374.78 L79.08,375.13 L78.87,375.49 L78.65,375.86 L78.44,376.22 L78.24,376.59 L78.03,376.95 L77.82,377.32 L77.62,377.69 L77.42,378.06 L77.23,378.43 L77.03,378.8 L76.84,379.18 L76.65,379.56 L76.47,379.94 L76.28,380.32 L76.1,380.7 L75.93,381.08 L75.76,381.46 L75.59,381.85 L75.42,382.24 L75.26,382.63 L75.11,383.02 L74.96,383.41 L74.81,383.81 L74.67,384.2 L74.53,384.6 L74.4,385 L74.27,385.4 L74.15,385.8 L74.03,386.2 L73.92,386.61 L73.82,387.02 L73.72,387.42 L73.62,387.83 L73.52,388.24 L73.43,388.65 L73.34,389.06 L73.25,389.47 L73.17,389.88 L73.08,390.29 L73,390.7 L72.92,391.12 L72.84,391.53 L72.77,391.94 L72.69,392.36 L72.62,392.77 L72.55,393.18 L72.48,393.6 L72.42,394.01 L72.35,394.43 L72.29,394.85 L72.23,395.26 L72.17,395.68 L72.12,396.09 L72.06,396.51 L72.01,396.93 L71.96,397.35 L71.91,397.76 L71.87,398.18 L71.82,398.6 L71.78,399.02 L71.74,399.44 L71.71,399.86 L71.67,400.28 L71.64,400.7 L71.61,401.11 L71.58,401.53 L71.55,401.95 L71.53,402.37 L71.51,402.79 L71.49,403.21 L71.47,403.63 L71.45,404.06 L71.44,404.48 L71.43,404.9 L71.42,405.32 L71.41,405.74 L71.4,406.16 L71.4,406.58 L71.4,407" stroke="#3b59ad" stroke-width="2.7"/>
<path d="M262,407 L262,406.59 L262,406.18 L261.99,405.76 L261.98,405.35 L261.97,404.94 L261.96,404.53 L261.95,404.12 L261.94,403.7 L261.92,403.29 L261.9,402.88 L261.88,402.47 L261.86,402.06 L261.83,401.65 L261.8,401.24 L261.78,400.83 L261.74,400.41 L261.71,400 L261.68,399.59 L261.64,399.18 L261.6,398.77 L261.56,398.36 L261.52,397.95 L261.47,397.54 L261.43,397.13 L261.38,396.73 L261.33,396.32 L261.28,395.91 L261.22,395.5 L261.17,395.09 L261.11,394.69 L261.05,394.28 L260.99,393.87 L260.93,393.46 L260.86,393.06 L260.79,392.65 L260.71,392.25 L260.63,391.84 L260.55,391.44 L260.46,391.04 L260.36,390.64 L260.26,390.24 L260.16,389.84 L260.05,389.44 L259.93,389.05 L259.81,388.65 L259.69,388.26 L259.56,387.86 L259.43,387.47 L259.3,387.08 L259.16,386.69 L259.02,386.31 L258.87,385.92 L258.72,385.54 L258.57,385.15 L258.41,384.77 L258.25,384.39 L258.09,384.01 L257.92,383.63 L257.75,383.26 L257.58,382.88 L257.41,382.51 L257.23,382.14 L257.05,381.76 L256.86,381.4 L256.68,381.03 L256.49,380.66 L256.3,380.3 L256.11,379.93 L255.91,379.57 L255.72,379.21 L255.52,378.85 L255.32,378.49 L255.12,378.13 L254.91,377.78 L254.71,377.42 L254.5,377.07 L254.29,376.72 L254.08,376.36 L253.87,376.02 L253.66,375.67 L253.44,375.32 L253.22,374.98 L252.99,374.64 L252.75,374.3 L252.51,373.97 L252.26,373.64 L252,373.31 L251.74,372.99 L251.48,372.67 L251.21,372.35 L250.94,372.04 L250.66,371.73 L250.38,371.42 L250.1,371.12 L249.81,370.81 L249.53,370.51 L249.24,370.21 L248.94,369.92 L248.65,369.62 L248.36,369.33 L248.06,369.04 L247.76,368.75 L247.47,368.46 L247.17,368.18 L246.87,367.89 L246.58,367.61 L246.28,367.33 L245.99,367.05 L245.7,366.76 L245.4,366.48 L245.12,366.2 L244.83,365.92 L244.54,365.64 L244.26,365.36 L243.99,365.08 L243.71,364.8 L243.44,364.51 L243.17,364.23 L242.9,363.95 L242.63,363.67 L242.36,363.39 L242.08,363.11 L241.81,362.84 L241.53,362.56 L241.25,362.29 L240.97,362.02 L240.69,361.75 L240.41,361.48 L240.14,361.22 L239.86,360.95 L239.58,360.69 L239.3,360.42 L239.02,360.16 L238.74,359.9 L238.46,359.64 L238.18,359.37 L237.91,359.11 L237.63,358.85 L237.36,358.59 L237.08,358.33 L236.81,358.07 L236.54,357.81 L236.27,357.54 L236.01,357.28 L235.74,357.02 L235.48,356.75 L235.22,356.49 L234.96,356.22 L234.7,355.96 L234.45,355.69 L234.2,355.42 L233.95,355.14 L233.7,354.87 L233.46,354.59 L233.22,354.32 L232.97,354.04 L232.72,353.77 L232.48,353.5 L232.23,353.23 L231.98,352.95 L231.73,352.69 L231.48,352.42 L231.23,352.15 L230.98,351.88 L230.73,351.62 L230.47,351.35 L230.22,351.09 L229.96,350.82 L229.71,350.56 L229.45,350.3 L229.19,350.04 L228.94,349.78 L228.68,349.52 L228.42,349.26 L228.16,349 L227.9,348.74 L227.64,348.49 L227.37,348.23 L227.11,347.98 L226.85,347.72 L226.58,347.47 L226.32,347.22 L226.05,346.97 L225.79,346.72 L225.52,346.47 L225.25,346.22 L224.98,345.97 L224.71,345.72 L224.45,345.47 L224.18,345.22 L223.91,344.98 L223.63,344.73 L223.36,344.49 L223.09,344.25 L222.81,344 L222.54,343.76 L222.26,343.52 L221.99,343.28 L221.71,343.05 L221.43,342.81 L221.15,342.57 L220.87,342.34 L220.59,342.11 L220.3,341.87 L220.02,341.64 L219.74,341.41 L219.45,341.18 L219.16,340.96 L218.88,340.73 L218.59,340.5 L218.3,340.28 L218.01,340.06 L217.72,339.83 L217.43,339.61 L217.14,339.39 L216.84,339.17 L216.55,338.96 L216.25,338.74 L215.96,338.52 L215.66,338.31 L215.36,338.1 L215.06,337.89 L214.76,337.67 L214.46,337.47 L214.16,337.26 L213.86,337.05 L213.56,336.84 L213.26,336.62 L212.97,336.41 L212.67,336.2 L212.37,335.98 L212.07,335.76 L211.78,335.55 L211.48,335.33 L211.18,335.11 L210.88,334.89 L210.59,334.68 L210.29,334.46 L209.99,334.24 L209.69,334.02 L209.39,333.8 L209.09,333.59 L208.79,333.37 L208.49,333.15 L208.19,332.94 L207.89,332.72 L207.58,332.51 L207.28,332.29 L206.97,332.08 L206.66,331.87 L206.36,331.66 L206.05,331.46 L205.73,331.25 L205.42,331.05 L205.11,330.85 L204.79,330.65 L204.47,330.45 L204.16,330.26 L203.84,330.06 L203.52,329.86 L203.21,329.66 L202.89,329.46 L202.57,329.25 L202.25,329.05 L201.94,328.85 L201.62,328.65 L201.3,328.45 L200.98,328.25 L200.66,328.05 L200.33,327.85 L200.01,327.65 L199.68,327.46 L199.36,327.26 L199.03,327.07 L198.7,326.88 L198.37,326.69 L198.04,326.51 L197.71,326.32 L197.37,326.14 L197.04,325.96 L196.7,325.79 L196.36,325.62 L196.02,325.45 L195.68,325.29 L195.33,325.13 L194.99,324.98 L194.64,324.83 L194.29,324.68 L193.94,324.54 L193.58,324.41 L193.23,324.28 L192.87,324.15 L192.51,324.03 L192.15,323.92 L191.78,323.82 L191.42,323.73 L191.04,323.65 L190.67,323.59 L190.29,323.53 L189.91,323.49 L189.53,323.46 L189.15,323.44 L188.76,323.43 L188.37,323.42 L187.99,323.43 L187.6,323.44 L187.21,323.45 L186.82,323.48 L186.43,323.5 L186.04,323.54 L185.65,323.57 L185.26,323.61 L184.87,323.65 L184.48,323.69 L184.1,323.73 L183.71,323.77 L183.33,323.81 L182.94,323.85 L182.56,323.89 L182.18,323.92 L181.8,323.95 L181.43,323.97 L181.05,323.99 L180.68,324 L180.31,324 L179.94,324 L179.57,323.99 L179.2,323.97 L178.84,323.94 L178.47,323.9 L178.11,323.85 L177.75,323.8 L177.38,323.75 L177.02,323.7 L176.66,323.64 L176.29,323.59 L175.93,323.53 L175.57,323.48 L175.21,323.42 L174.84,323.37 L174.48,323.31 L174.12,323.25 L173.75,323.2 L173.39,323.14 L173.02,323.08 L172.66,323.02 L172.29,322.96 L171.93,322.91 L171.56,322.85 L171.2,322.79 L170.83,322.74 L170.46,322.68 L170.1,322.63 L169.73,322.57 L169.36,322.52 L168.99,322.47 L168.62,322.42 L168.25,322.37 L167.88,322.32 L167.51,322.28 L167.14,322.22 L166.77,322.15 L166.4,322.08 L166.03,322 L165.65,321.91 L165.28,321.81 L164.9,321.71 L164.53,321.6 L164.15,321.49 L163.77,321.38 L163.39,321.27 L163.01,321.15 L162.62,321.03 L162.24,320.92 L161.85,320.81 L161.47,320.69 L161.08,320.59 L160.69,320.48 L160.3,320.38 L159.91,320.29 L159.52,320.2 L159.13,320.12 L158.74,320.04 L158.35,319.98 L157.96,319.93 L157.57,319.88 L157.18,319.85 L156.79,319.83 L156.4,319.82 L156.01,319.83 L155.63,319.85 L155.25,319.89 L154.87,319.94 L154.49,320 L154.11,320.07 L153.73,320.14 L153.35,320.21 L152.97,320.29 L152.6,320.37 L152.22,320.46 L151.85,320.55 L151.48,320.65 L151.11,320.75 L150.74,320.85 L150.37,320.96 L150,321.07 L149.63,321.18 L149.26,321.29 L148.89,321.41 L148.53,321.53 L148.16,321.65 L147.8,321.77 L147.43,321.89 L147.07,322.02 L146.71,322.14 L146.35,322.27 L145.99,322.4 L145.63,322.53 L145.27,322.66 L144.91,322.8 L144.55,322.93 L144.19,323.08 L143.84,323.23 L143.49,323.38 L143.14,323.53 L142.79,323.69 L142.44,323.85 L142.09,324.02 L141.75,324.19 L141.41,324.36 L141.06,324.53 L140.72,324.7 L140.38,324.88 L140.04,325.06 L139.7,325.24 L139.37,325.42 L139.03,325.6 L138.7,325.78 L138.36,325.96 L138.03,326.15 L137.69,326.33 L137.36,326.51 L137.03,326.7 L136.7,326.88 L136.36,327.06 L136.03,327.24 L135.7,327.42 L135.37,327.6 L135.04,327.78 L134.71,327.96 L134.37,328.13 L134.04,328.31 L133.71,328.48 L133.37,328.65 L133.04,328.81 L132.7,328.98 L132.37,329.14 L132.03,329.3 L131.69,329.45 L131.35,329.6 L131,329.75 L130.65,329.89 L130.31,330.03 L129.96,330.16 L129.6,330.3 L129.25,330.43 L128.9,330.55 L128.54,330.68 L128.18,330.8 L127.82,330.92 L127.46,331.04 L127.1,331.16 L126.73,331.28 L126.37,331.39 L126,331.51 L125.63,331.62 L125.27,331.74 L124.9,331.85 L124.53,331.97 L124.16,332.09 L123.79,332.21 L123.42,332.32 L123.05,332.45 L122.68,332.57 L122.31,332.69 L121.94,332.82 L121.57,332.95 L121.2,333.08 L120.83,333.21 L120.47,333.35 L120.1,333.49 L119.74,333.63 L119.38,333.77 L119.02,333.92 L118.66,334.08 L118.3,334.24 L117.94,334.39 L117.58,334.54 L117.21,334.69 L116.85,334.84 L116.48,334.99 L116.11,335.14 L115.74,335.29 L115.37,335.44 L115,335.59 L114.63,335.74 L114.26,335.9 L113.89,336.05 L113.52,336.21 L113.16,336.37 L112.79,336.53 L112.42,336.7 L112.06,336.87 L111.7,337.05 L111.34,337.23 L110.98,337.41 L110.63,337.6 L110.28,337.79 L109.94,337.99 L109.6,338.2 L109.26,338.41 L108.93,338.63 L108.6,338.85 L108.28,339.08 L107.97,339.32 L107.66,339.57 L107.36,339.83 L107.06,340.09 L106.78,340.36 L106.51,340.65 L106.25,340.95 L106,341.26 L105.75,341.57 L105.51,341.89 L105.28,342.22 L105.05,342.55 L104.83,342.88 L104.61,343.21 L104.38,343.54 L104.16,343.88 L103.94,344.2 L103.71,344.53 L103.48,344.85 L103.24,345.16 L102.99,345.46 L102.74,345.77 L102.5,346.07 L102.25,346.38 L102.01,346.68 L101.77,346.99 L101.52,347.29 L101.28,347.6 L101.04,347.91 L100.8,348.22 L100.57,348.52 L100.33,348.83 L100.09,349.14 L99.86,349.45 L99.62,349.77 L99.39,350.08 L99.16,350.39 L98.93,350.7 L98.7,351.01 L98.47,351.33 L98.24,351.64 L98.01,351.95 L97.78,352.27 L97.55,352.58 L97.33,352.9 L97.1,353.21 L96.87,353.53 L96.65,353.84 L96.42,354.16 L96.2,354.48 L95.98,354.79 L95.75,355.11 L95.53,355.43 L95.31,355.74 L95.08,356.06 L94.86,356.38 L94.63,356.69 L94.4,357 L94.17,357.31 L93.93,357.62 L93.68,357.92 L93.44,358.23 L93.19,358.53 L92.94,358.83 L92.68,359.13 L92.42,359.42 L92.16,359.72 L91.9,360.01 L91.64,360.31 L91.37,360.6 L91.1,360.9 L90.83,361.19 L90.56,361.49 L90.29,361.78 L90.02,362.07 L89.74,362.37 L89.47,362.66 L89.19,362.96 L88.92,363.26 L88.64,363.56 L88.37,363.85 L88.09,364.16 L87.82,364.46 L87.55,364.76 L87.27,365.06 L87,365.37 L86.73,365.68 L86.47,365.99 L86.2,366.3 L85.94,366.61 L85.68,366.93 L85.42,367.25 L85.15,367.56 L84.87,367.87 L84.6,368.19 L84.31,368.5 L84.03,368.81 L83.74,369.12 L83.44,369.43 L83.15,369.74 L82.85,370.05 L82.56,370.36 L82.26,370.68 L81.97,370.99 L81.68,371.31 L81.39,371.63 L81.1,371.96 L80.82,372.29 L80.54,372.62 L80.27,372.95 L80.01,373.29 L79.75,373.63 L79.5,373.97 L79.25,374.32 L79.02,374.67 L78.8,375.03 L78.58,375.39 L78.37,375.76 L78.16,376.12 L77.95,376.49 L77.74,376.85 L77.53,377.22 L77.32,377.59 L77.12,377.96 L76.92,378.33 L76.72,378.71 L76.52,379.08 L76.33,379.46 L76.14,379.84 L75.96,380.22 L75.77,380.6 L75.59,380.99 L75.42,381.37 L75.25,381.76 L75.08,382.15 L74.92,382.54 L74.76,382.93 L74.61,383.32 L74.47,383.72 L74.32,384.12 L74.19,384.52 L74.06,384.92 L73.94,385.32 L73.82,385.73 L73.71,386.13 L73.61,386.54 L73.51,386.95 L73.42,387.36 L73.34,387.77 L73.26,388.19 L73.17,388.6 L73.09,389.01 L73.02,389.43 L72.94,389.84 L72.87,390.25 L72.79,390.67 L72.72,391.08 L72.66,391.5 L72.59,391.91 L72.52,392.33 L72.46,392.75 L72.4,393.16 L72.34,393.58 L72.28,394 L72.23,394.41 L72.17,394.83 L72.12,395.25 L72.07,395.67 L72.02,396.08 L71.97,396.5 L71.93,396.92 L71.89,397.34 L71.84,397.76 L71.81,398.18 L71.77,398.6 L71.73,399.01 L71.7,399.43 L71.67,399.85 L71.64,400.27 L71.61,400.69 L71.58,401.11 L71.56,401.53 L71.53,401.95 L71.51,402.37 L71.49,402.79 L71.47,403.21 L71.46,403.63 L71.45,404.06 L71.43,404.48 L71.42,404.9 L71.41,405.32 L71.41,405.74 L71.4,406.16 L71.4,406.58 L71.4,407" stroke="#b25cb2" stroke-width="2.9"/>
</g>
<g font-family="'Liberation Serif', 'Times New Roman', serif" font-size="8" fill="#222" text-anchor="middle">
<text x="168" y="302.4">0</text>
<text x="112.9" y="317.1">30</text>
<text x="224.3" y="317.9">-30</text>
<text x="76.2" y="354.4">60</text>
<text x="261.3" y="354.5">-60</text>
<text x="61.9" y="409.3">90</text>
<text x="274.7" y="409.8">-90</text>
<text x="73.4" y="465.1">120</text>
<text x="263.5" y="464.5">-120</text>
<text x="110.7" y="503">150</text>
<text x="226.3" y="503">-150</text>
<text x="167.4" y="516.5">-180</text>
</g>
<g stroke="#3a3a3a" stroke-width="1">
<line x1="50.5" y1="309.6" x2="50.5" y2="504.4"/>
<line x1="46.9" y1="309.6" x2="50.5" y2="309.6"/>
<line x1="48.5" y1="325.83" x2="50.5" y2="325.83"/>
<line x1="46.9" y1="342.07" x2="50.5" y2="342.07"/>
<line x1="48.5" y1="358.3" x2="50.5" y2="358.3"/>
<line x1="46.9" y1="374.53" x2="50.5" y2="374.53"/>
<line x1="48.5" y1="390.77" x2="50.5" y2="390.77"/>
<line x1="46.9" y1="407" x2="50.5" y2="407"/>
<line x1="48.5" y1="423.23" x2="50.5" y2="423.23"/>
<line x1="46.9" y1="439.47" x2="50.5" y2="439.47"/>
<line x1="48.5" y1="455.7" x2="50.5" y2="455.7"/>
<line x1="46.9" y1="471.93" x2="50.5" y2="471.93"/>
<line x1="48.5" y1="488.17" x2="50.5" y2="488.17"/>
<line x1="46.9" y1="504.4" x2="50.5" y2="504.4"/>
</g>
<g font-family="'Liberation Serif', 'Times New Roman', serif" font-size="8.1" fill="#222" text-anchor="end">
<text x="44.3" y="312.1">0</text>
<text x="44.3" y="344.57">-10</text>
<text x="44.3" y="377.03">-20</text>
<text x="44.3" y="409.5">-30</text>
<text x="44.3" y="441.97">-20</text>
<text x="44.3" y="474.43">-10</text>
<text x="44.3" y="506.9">0</text>
</g>
<text transform="translate(27.9,407.2) rotate(-90)" text-anchor="middle" font-family="'Liberation Serif', 'Times New Roman', serif" font-size="10" fill="#111" textLength="128" lengthAdjust="spacingAndGlyphs">Normalized far-field pattern (dB)</text>
<line x1="143.9" y1="424.7" x2="168.6" y2="424.7" stroke="#e2474b" stroke-width="2.6"/>
<text x="169.8" y="428.7" font-family="'Liberation Serif', 'Times New Roman', serif" font-size="11.3" fill="#111"><tspan font-style="italic">n</tspan> = 1</text>
<line x1="143.9" y1="437.95" x2="168.6" y2="437.95" stroke="#c9d64c" stroke-width="2.6"/>
<text x="169.8" y="441.95" font-family="'Liberation Serif', 'Times New Roman', serif" font-size="11.3" fill="#111"><tspan font-style="italic">n</tspan> = 2</text>
<line x1="143.9" y1="451.2" x2="168.6" y2="451.2" stroke="#5cb887" stroke-width="2.6"/>
<text x="169.8" y="455.2" font-family="'Liberation Serif', 'Times New Roman', serif" font-size="11.3" fill="#111"><tspan font-style="italic">n</tspan> = 3</text>
<line x1="143.9" y1="464.45" x2="168.6" y2="464.45" stroke="#3b59ad" stroke-width="2.6"/>
<text x="169.8" y="468.45" font-family="'Liberation Serif', 'Times New Roman', serif" font-size="11.3" fill="#111"><tspan font-style="italic">n</tspan> = 4</text>
<line x1="143.9" y1="477.7" x2="168.6" y2="477.7" stroke="#b25cb2" stroke-width="2.6"/>
<text x="169.8" y="481.7" font-family="'Liberation Serif', 'Times New Roman', serif" font-size="11.3" fill="#111"><tspan font-style="italic">n</tspan> = 5</text>
<text class="nb" x="60.6" y="494.6" font-family="'Liberation Serif', 'Times New Roman', serif" font-size="20" fill="#111">(c)</text>
<g fill="none" stroke="#8a8a8a" stroke-width="0.75" stroke-dasharray="0.9 1.7">
<circle cx="560.4" cy="406.3" r="32.2"/>
<circle cx="560.4" cy="406.3" r="64.4"/>
<line x1="560.4" y1="406.3" x2="560.4" y2="309.7"/>
<line x1="560.4" y1="406.3" x2="512.1" y2="322.64"/>
<line x1="560.4" y1="406.3" x2="476.74" y2="358"/>
<line x1="560.4" y1="406.3" x2="463.8" y2="406.3"/>
<line x1="560.4" y1="406.3" x2="476.74" y2="454.6"/>
<line x1="560.4" y1="406.3" x2="512.1" y2="489.96"/>
<line x1="560.4" y1="406.3" x2="560.4" y2="502.9"/>
<line x1="560.4" y1="406.3" x2="608.7" y2="489.96"/>
<line x1="560.4" y1="406.3" x2="644.06" y2="454.6"/>
<line x1="560.4" y1="406.3" x2="657" y2="406.3"/>
<line x1="560.4" y1="406.3" x2="644.06" y2="358"/>
<line x1="560.4" y1="406.3" x2="608.7" y2="322.64"/>
</g>
<circle cx="560.4" cy="406.3" r="1.6" fill="none" stroke="#999" stroke-width="0.6"/>
<circle cx="560.4" cy="406.3" r="96.6" fill="none" stroke="#3a3a3a" stroke-width="1"/>
<g stroke="#3a3a3a" stroke-width="0.8">
<line x1="560.4" y1="309.7" x2="560.4" y2="312.1"/>
<line x1="535.4" y1="312.99" x2="536.02" y2="315.31"/>
<line x1="512.1" y1="322.64" x2="513.3" y2="324.72"/>
<line x1="492.09" y1="337.99" x2="493.79" y2="339.69"/>
<line x1="476.74" y1="358" x2="478.82" y2="359.2"/>
<line x1="467.09" y1="381.3" x2="469.41" y2="381.92"/>
<line x1="463.8" y1="406.3" x2="466.2" y2="406.3"/>
<line x1="467.09" y1="431.3" x2="469.41" y2="430.68"/>
<line x1="476.74" y1="454.6" x2="478.82" y2="453.4"/>
<line x1="492.09" y1="474.61" x2="493.79" y2="472.91"/>
<line x1="512.1" y1="489.96" x2="513.3" y2="487.88"/>
<line x1="535.4" y1="499.61" x2="536.02" y2="497.29"/>
<line x1="560.4" y1="502.9" x2="560.4" y2="500.5"/>
<line x1="585.4" y1="499.61" x2="584.78" y2="497.29"/>
<line x1="608.7" y1="489.96" x2="607.5" y2="487.88"/>
<line x1="628.71" y1="474.61" x2="627.01" y2="472.91"/>
<line x1="644.06" y1="454.6" x2="641.98" y2="453.4"/>
<line x1="653.71" y1="431.3" x2="651.39" y2="430.68"/>
<line x1="657" y1="406.3" x2="654.6" y2="406.3"/>
<line x1="653.71" y1="381.3" x2="651.39" y2="381.92"/>
<line x1="644.06" y1="358" x2="641.98" y2="359.2"/>
<line x1="628.71" y1="337.99" x2="627.01" y2="339.69"/>
<line x1="608.7" y1="322.64" x2="607.5" y2="324.72"/>
<line x1="585.4" y1="312.99" x2="584.78" y2="315.31"/>
</g>
<g fill="none" stroke-linejoin="round" stroke-linecap="round">
<path d="M560.4,501.8 L561.23,501.79 L562.07,501.78 L562.9,501.75 L563.74,501.72 L564.57,501.69 L565.4,501.64 L566.24,501.59 L567.07,501.53 L567.9,501.47 L568.73,501.39 L569.56,501.31 L570.39,501.23 L571.22,501.13 L572.05,501.03 L572.87,500.92 L573.7,500.81 L574.53,500.69 L575.35,500.56 L576.17,500.42 L576.99,500.28 L577.81,500.13 L578.63,499.97 L579.45,499.8 L580.27,499.63 L581.08,499.45 L581.89,499.27 L582.7,499.07 L583.51,498.87 L584.32,498.67 L585.13,498.45 L585.93,498.23 L586.73,498 L587.53,497.77 L588.33,497.53 L589.13,497.28 L589.92,497.02 L590.71,496.76 L591.5,496.49 L592.29,496.22 L593.07,495.93 L593.86,495.64 L594.63,495.35 L595.41,495.05 L596.19,494.74 L596.96,494.42 L597.73,494.1 L598.49,493.77 L599.25,493.43 L600.01,493.09 L600.77,492.74 L601.52,492.38 L602.27,492.02 L603.02,491.65 L603.77,491.27 L604.51,490.89 L605.24,490.5 L605.98,490.11 L606.71,489.71 L607.44,489.3 L608.16,488.88 L608.88,488.46 L609.6,488.04 L610.31,487.61 L611.02,487.17 L611.73,486.72 L612.43,486.27 L613.13,485.82 L613.82,485.36 L614.51,484.89 L615.2,484.42 L615.88,483.94 L616.56,483.46 L617.24,482.97 L617.91,482.47 L618.57,481.97 L619.24,481.46 L619.89,480.95 L620.55,480.43 L621.2,479.91 L621.84,479.38 L622.48,478.85 L623.12,478.31 L623.75,477.76 L624.38,477.21 L625,476.65 L625.62,476.09 L626.23,475.52 L626.84,474.95 L627.44,474.37 L628.04,473.79 L628.63,473.2 L629.22,472.61 L629.8,472.01 L630.38,471.41 L630.95,470.8 L631.52,470.18 L632.08,469.56 L632.63,468.94 L633.18,468.31 L633.73,467.68 L634.26,467.04 L634.8,466.39 L635.32,465.75 L635.85,465.09 L636.36,464.43 L636.87,463.77 L637.37,463.1 L637.87,462.43 L638.36,461.76 L638.85,461.07 L639.33,460.39 L639.8,459.7 L640.27,459 L640.73,458.31 L641.18,457.6 L641.63,456.9 L642.07,456.19 L642.5,455.47 L642.93,454.75 L643.35,454.03 L643.76,453.3 L644.17,452.57 L644.57,451.84 L644.96,451.1 L645.35,450.36 L645.73,449.62 L646.11,448.87 L646.48,448.12 L646.84,447.36 L647.19,446.61 L647.54,445.85 L647.88,445.08 L648.22,444.32 L648.54,443.55 L648.86,442.77 L649.18,442 L649.49,441.22 L649.79,440.44 L650.08,439.66 L650.37,438.87 L650.65,438.08 L650.92,437.29 L651.18,436.5 L651.44,435.71 L651.69,434.91 L651.94,434.11 L652.18,433.31 L652.41,432.5 L652.63,431.7 L652.85,430.89 L653.06,430.08 L653.26,429.27 L653.45,428.46 L653.64,427.64 L653.82,426.83 L654,426.01 L654.16,425.19 L654.32,424.37 L654.47,423.55 L654.62,422.72 L654.76,421.9 L654.89,421.07 L655.01,420.25 L655.13,419.42 L655.24,418.59 L655.34,417.76 L655.43,416.93 L655.52,416.1 L655.6,415.27 L655.67,414.44 L655.74,413.6 L655.8,412.77 L655.85,411.94 L655.89,411.1 L655.93,410.27 L655.96,409.43 L655.98,408.6 L655.99,407.76 L656,406.93 L656,406.09 L655.99,405.26 L655.98,404.42 L655.96,403.59 L655.93,402.75 L655.89,401.92 L655.85,401.08 L655.79,400.25 L655.74,399.41 L655.67,398.58 L655.6,397.75 L655.52,396.92 L655.43,396.09 L655.33,395.26 L655.23,394.43 L655.12,393.6 L655.01,392.77 L654.88,391.95 L654.75,391.12 L654.61,390.3 L654.47,389.48 L654.31,388.66 L654.15,387.84 L653.99,387.02 L653.81,386.2 L653.63,385.39 L653.44,384.57 L653.25,383.76 L653.04,382.95 L652.83,382.14 L652.62,381.34 L652.39,380.53 L652.16,379.73 L651.93,378.93 L651.68,378.13 L651.43,377.34 L651.17,376.54 L650.91,375.75 L650.63,374.96 L650.36,374.18 L650.07,373.39 L649.78,372.61 L649.48,371.83 L649.17,371.05 L648.86,370.28 L648.54,369.51 L648.21,368.74 L647.88,367.98 L647.54,367.21 L647.2,366.45 L646.84,365.7 L646.48,364.94 L646.12,364.19 L645.75,363.45 L645.37,362.7 L644.98,361.96 L644.59,361.22 L644.2,360.49 L643.79,359.76 L643.38,359.03 L642.97,358.31 L642.54,357.59 L642.12,356.87 L641.68,356.16 L641.24,355.45 L640.79,354.75 L640.34,354.05 L639.88,353.35 L639.42,352.66 L638.95,351.97 L638.47,351.28 L637.99,350.6 L637.5,349.92 L637,349.25 L636.5,348.58 L636,347.92 L635.49,347.26 L634.97,346.6 L634.45,345.95 L633.92,345.31 L633.38,344.67 L632.84,344.03 L632.3,343.4 L631.75,342.77 L631.19,342.15 L630.63,341.53 L630.06,340.92 L629.49,340.31 L628.91,339.71 L628.33,339.11 L627.74,338.51 L627.15,337.93 L626.55,337.34 L625.95,336.77 L625.34,336.19 L624.73,335.63 L624.11,335.07 L623.48,334.51 L622.86,333.96 L622.22,333.42 L621.59,332.88 L620.94,332.34 L620.3,331.82 L619.64,331.29 L618.99,330.78 L618.33,330.27 L617.66,329.76 L616.99,329.26 L616.32,328.77 L615.64,328.28 L614.95,327.8 L614.27,327.33 L613.58,326.86 L612.88,326.4 L612.18,325.94 L611.48,325.49 L610.77,325.05 L610.06,324.61 L609.34,324.18 L608.62,323.75 L607.9,323.33 L607.17,322.92 L606.44,322.52 L605.71,322.12 L604.97,321.73 L604.23,321.34 L603.48,320.96 L602.73,320.59 L601.98,320.23 L601.23,319.87 L600.47,319.52 L599.71,319.18 L598.94,318.84 L598.18,318.51 L597.41,318.18 L596.63,317.87 L595.86,317.56 L595.08,317.26 L594.3,316.96 L593.52,316.67 L592.73,316.39 L591.94,316.11 L591.15,315.85 L590.36,315.59 L589.56,315.33 L588.76,315.09 L587.97,314.85 L587.16,314.61 L586.36,314.39 L585.55,314.17 L584.75,313.96 L583.94,313.75 L583.13,313.56 L582.31,313.37 L581.5,313.18 L580.68,313.01 L579.87,312.84 L579.05,312.68 L578.23,312.52 L577.41,312.37 L576.59,312.23 L575.76,312.1 L574.94,311.97 L574.11,311.85 L573.29,311.74 L572.46,311.64 L571.63,311.54 L570.8,311.45 L569.97,311.36 L569.14,311.29 L568.31,311.22 L567.48,311.15 L566.65,311.1 L565.82,311.05 L564.98,311.01 L564.15,310.97 L563.32,310.94 L562.48,310.92 L561.65,310.91 L560.82,310.9 L559.98,310.9 L559.15,310.91 L558.32,310.92 L557.48,310.94 L556.65,310.97 L555.82,311.01 L554.98,311.05 L554.15,311.1 L553.32,311.15 L552.49,311.22 L551.66,311.29 L550.83,311.36 L550,311.45 L549.17,311.54 L548.34,311.64 L547.51,311.74 L546.69,311.85 L545.86,311.97 L545.04,312.1 L544.21,312.23 L543.39,312.37 L542.57,312.52 L541.75,312.68 L540.93,312.84 L540.12,313.01 L539.3,313.18 L538.49,313.37 L537.67,313.56 L536.86,313.75 L536.05,313.96 L535.25,314.17 L534.44,314.39 L533.64,314.61 L532.83,314.85 L532.04,315.09 L531.24,315.33 L530.44,315.59 L529.65,315.85 L528.86,316.11 L528.07,316.39 L527.28,316.67 L526.5,316.96 L525.72,317.26 L524.94,317.56 L524.17,317.87 L523.39,318.18 L522.62,318.51 L521.86,318.84 L521.09,319.18 L520.33,319.52 L519.57,319.87 L518.82,320.23 L518.07,320.59 L517.32,320.96 L516.57,321.34 L515.83,321.73 L515.09,322.12 L514.36,322.52 L513.63,322.92 L512.9,323.33 L512.18,323.75 L511.46,324.18 L510.74,324.61 L510.03,325.05 L509.32,325.49 L508.62,325.94 L507.92,326.4 L507.22,326.86 L506.53,327.33 L505.85,327.8 L505.16,328.28 L504.48,328.77 L503.81,329.26 L503.14,329.76 L502.47,330.27 L501.81,330.78 L501.16,331.29 L500.5,331.82 L499.86,332.34 L499.21,332.88 L498.58,333.42 L497.94,333.96 L497.32,334.51 L496.69,335.07 L496.07,335.63 L495.46,336.19 L494.85,336.77 L494.25,337.34 L493.65,337.93 L493.06,338.51 L492.47,339.11 L491.89,339.71 L491.31,340.31 L490.74,340.92 L490.17,341.53 L489.61,342.15 L489.05,342.77 L488.5,343.4 L487.96,344.03 L487.42,344.67 L486.88,345.31 L486.35,345.95 L485.83,346.6 L485.31,347.26 L484.8,347.92 L484.3,348.58 L483.8,349.25 L483.3,349.92 L482.81,350.6 L482.33,351.28 L481.85,351.97 L481.38,352.66 L480.92,353.35 L480.46,354.05 L480.01,354.75 L479.56,355.45 L479.12,356.16 L478.68,356.87 L478.26,357.59 L477.83,358.31 L477.42,359.03 L477.01,359.76 L476.6,360.49 L476.21,361.22 L475.82,361.96 L475.43,362.7 L475.05,363.45 L474.68,364.19 L474.32,364.94 L473.96,365.7 L473.6,366.45 L473.26,367.21 L472.92,367.98 L472.59,368.74 L472.26,369.51 L471.94,370.28 L471.63,371.05 L471.32,371.83 L471.02,372.61 L470.73,373.39 L470.44,374.18 L470.17,374.96 L469.89,375.75 L469.63,376.54 L469.37,377.34 L469.12,378.13 L468.87,378.93 L468.64,379.73 L468.41,380.53 L468.18,381.34 L467.97,382.14 L467.76,382.95 L467.55,383.76 L467.36,384.57 L467.17,385.39 L466.99,386.2 L466.81,387.02 L466.65,387.84 L466.49,388.66 L466.33,389.48 L466.19,390.3 L466.05,391.12 L465.92,391.95 L465.79,392.77 L465.68,393.6 L465.57,394.43 L465.47,395.26 L465.37,396.09 L465.28,396.92 L465.2,397.75 L465.13,398.58 L465.06,399.41 L465.01,400.25 L464.95,401.08 L464.91,401.92 L464.87,402.75 L464.84,403.59 L464.82,404.42 L464.81,405.26 L464.8,406.09 L464.8,406.93 L464.81,407.76 L464.82,408.6 L464.84,409.43 L464.87,410.27 L464.91,411.1 L464.95,411.94 L465,412.77 L465.06,413.6 L465.13,414.44 L465.2,415.27 L465.28,416.1 L465.37,416.93 L465.46,417.76 L465.56,418.59 L465.67,419.42 L465.79,420.25 L465.91,421.07 L466.04,421.9 L466.18,422.72 L466.33,423.55 L466.48,424.37 L466.64,425.19 L466.8,426.01 L466.98,426.83 L467.16,427.64 L467.35,428.46 L467.54,429.27 L467.74,430.08 L467.95,430.89 L468.17,431.7 L468.39,432.5 L468.62,433.31 L468.86,434.11 L469.11,434.91 L469.36,435.71 L469.62,436.5 L469.88,437.29 L470.15,438.08 L470.43,438.87 L470.72,439.66 L471.01,440.44 L471.31,441.22 L471.62,442 L471.94,442.77 L472.26,443.55 L472.58,444.32 L472.92,445.08 L473.26,445.85 L473.61,446.61 L473.96,447.36 L474.32,448.12 L474.69,448.87 L475.07,449.62 L475.45,450.36 L475.84,451.1 L476.23,451.84 L476.63,452.57 L477.04,453.3 L477.45,454.03 L477.87,454.75 L478.3,455.47 L478.73,456.19 L479.17,456.9 L479.62,457.6 L480.07,458.31 L480.53,459 L481,459.7 L481.47,460.39 L481.95,461.07 L482.44,461.76 L482.93,462.43 L483.43,463.1 L483.93,463.77 L484.44,464.43 L484.95,465.09 L485.48,465.75 L486,466.39 L486.54,467.04 L487.07,467.68 L487.62,468.31 L488.17,468.94 L488.72,469.56 L489.28,470.18 L489.85,470.8 L490.42,471.41 L491,472.01 L491.58,472.61 L492.17,473.2 L492.76,473.79 L493.36,474.37 L493.96,474.95 L494.57,475.52 L495.18,476.09 L495.8,476.65 L496.42,477.21 L497.05,477.76 L497.68,478.31 L498.32,478.85 L498.96,479.38 L499.6,479.91 L500.25,480.43 L500.91,480.95 L501.56,481.46 L502.23,481.97 L502.89,482.47 L503.56,482.97 L504.24,483.46 L504.92,483.94 L505.6,484.42 L506.29,484.89 L506.98,485.36 L507.67,485.82 L508.37,486.27 L509.07,486.72 L509.78,487.17 L510.49,487.61 L511.2,488.04 L511.92,488.46 L512.64,488.88 L513.36,489.3 L514.09,489.71 L514.82,490.11 L515.56,490.5 L516.29,490.89 L517.03,491.27 L517.78,491.65 L518.53,492.02 L519.28,492.38 L520.03,492.74 L520.79,493.09 L521.55,493.43 L522.31,493.77 L523.07,494.1 L523.84,494.42 L524.61,494.74 L525.39,495.05 L526.17,495.35 L526.94,495.64 L527.73,495.93 L528.51,496.22 L529.3,496.49 L530.09,496.76 L530.88,497.02 L531.67,497.28 L532.47,497.53 L533.27,497.77 L534.07,498 L534.87,498.23 L535.67,498.45 L536.48,498.67 L537.29,498.87 L538.1,499.07 L538.91,499.27 L539.72,499.45 L540.53,499.63 L541.35,499.8 L542.17,499.97 L542.99,500.13 L543.81,500.28 L544.63,500.42 L545.45,500.56 L546.27,500.69 L547.1,500.81 L547.93,500.92 L548.75,501.03 L549.58,501.13 L550.41,501.23 L551.24,501.31 L552.07,501.39 L552.9,501.47 L553.73,501.53 L554.56,501.59 L555.4,501.64 L556.23,501.69 L557.06,501.72 L557.9,501.75 L558.73,501.78 L559.57,501.79 L560.4,501.8 Z" stroke="#e2474b" stroke-width="2.2"/>
<path d="M560.4,501.1 L561.23,501.12 L562.06,501.13 L562.89,501.13 L563.72,501.12 L564.55,501.11 L565.37,501.09 L566.2,501.07 L567.03,501.03 L567.86,500.99 L568.69,500.94 L569.52,500.88 L570.35,500.82 L571.18,500.75 L572,500.67 L572.83,500.59 L573.66,500.49 L574.48,500.39 L575.31,500.28 L576.13,500.17 L576.95,500.05 L577.78,499.92 L578.6,499.78 L579.42,499.63 L580.23,499.48 L581.05,499.32 L581.87,499.15 L582.68,498.98 L583.5,498.8 L584.31,498.61 L585.12,498.41 L585.93,498.21 L586.73,498 L587.54,497.78 L588.34,497.56 L589.14,497.33 L589.94,497.09 L590.74,496.84 L591.53,496.59 L592.33,496.33 L593.12,496.06 L593.91,495.78 L594.69,495.5 L595.48,495.21 L596.26,494.92 L597.04,494.61 L597.81,494.3 L598.59,493.98 L599.36,493.66 L600.12,493.33 L600.89,492.99 L601.65,492.64 L602.41,492.29 L603.16,491.93 L603.92,491.57 L604.67,491.2 L605.41,490.82 L606.15,490.43 L606.89,490.04 L607.63,489.64 L608.36,489.23 L609.09,488.82 L609.81,488.4 L610.54,487.97 L611.25,487.54 L611.97,487.1 L612.68,486.66 L613.39,486.21 L614.09,485.75 L614.79,485.29 L615.48,484.82 L616.17,484.35 L616.86,483.87 L617.54,483.38 L618.22,482.89 L618.89,482.39 L619.56,481.88 L620.23,481.37 L620.89,480.85 L621.55,480.33 L622.2,479.8 L622.85,479.27 L623.49,478.73 L624.13,478.18 L624.76,477.63 L625.39,477.07 L626.01,476.51 L626.63,475.94 L627.24,475.37 L627.85,474.79 L628.45,474.2 L629.05,473.61 L629.64,473.02 L630.23,472.42 L630.81,471.81 L631.39,471.2 L631.96,470.58 L632.52,469.96 L633.08,469.33 L633.64,468.7 L634.18,468.06 L634.73,467.42 L635.26,466.77 L635.79,466.12 L636.32,465.46 L636.84,464.8 L637.35,464.13 L637.86,463.46 L638.36,462.78 L638.85,462.1 L639.34,461.42 L639.82,460.73 L640.3,460.03 L640.77,459.34 L641.23,458.63 L641.69,457.93 L642.14,457.21 L642.58,456.5 L643.02,455.78 L643.45,455.06 L643.87,454.33 L644.28,453.6 L644.69,452.86 L645.1,452.12 L645.5,451.38 L645.89,450.64 L646.27,449.89 L646.65,449.13 L647.02,448.38 L647.38,447.62 L647.74,446.86 L648.09,446.09 L648.43,445.33 L648.77,444.55 L649.1,443.78 L649.42,443 L649.74,442.22 L650.05,441.44 L650.35,440.66 L650.64,439.87 L650.93,439.08 L651.21,438.28 L651.49,437.49 L651.76,436.69 L652.02,435.89 L652.27,435.09 L652.52,434.28 L652.76,433.48 L652.99,432.67 L653.21,431.86 L653.43,431.05 L653.64,430.23 L653.85,429.42 L654.04,428.6 L654.23,427.78 L654.41,426.96 L654.59,426.13 L654.76,425.31 L654.92,424.48 L655.07,423.66 L655.22,422.83 L655.35,422 L655.49,421.17 L655.61,420.34 L655.73,419.5 L655.84,418.67 L655.94,417.84 L656.03,417 L656.12,416.16 L656.2,415.33 L656.27,414.49 L656.34,413.65 L656.4,412.81 L656.45,411.97 L656.49,411.13 L656.53,410.29 L656.56,409.45 L656.58,408.61 L656.59,407.77 L656.6,406.93 L656.6,406.09 L656.59,405.25 L656.58,404.41 L656.55,403.57 L656.52,402.73 L656.49,401.89 L656.44,401.05 L656.39,400.21 L656.33,399.37 L656.26,398.53 L656.19,397.7 L656.11,396.86 L656.02,396.02 L655.92,395.19 L655.82,394.36 L655.71,393.52 L655.59,392.69 L655.46,391.86 L655.33,391.03 L655.19,390.2 L655.04,389.37 L654.89,388.55 L654.73,387.72 L654.56,386.9 L654.38,386.08 L654.2,385.26 L654.01,384.44 L653.81,383.63 L653.61,382.81 L653.39,382 L653.17,381.19 L652.95,380.38 L652.71,379.57 L652.47,378.77 L652.23,377.96 L651.97,377.16 L651.71,376.37 L651.44,375.57 L651.17,374.78 L650.88,373.99 L650.59,373.2 L650.3,372.41 L649.99,371.63 L649.69,370.85 L649.37,370.07 L649.04,369.3 L648.71,368.53 L648.38,367.76 L648.03,366.99 L647.68,366.23 L647.33,365.47 L646.96,364.71 L646.59,363.96 L646.22,363.21 L645.83,362.46 L645.44,361.72 L645.05,360.98 L644.64,360.25 L644.23,359.51 L643.82,358.78 L643.4,358.06 L642.97,357.34 L642.53,356.62 L642.09,355.91 L641.65,355.2 L641.19,354.49 L640.73,353.79 L640.27,353.09 L639.8,352.4 L639.32,351.71 L638.84,351.02 L638.35,350.34 L637.85,349.66 L637.35,348.99 L636.85,348.32 L636.33,347.66 L635.81,347 L635.29,346.35 L634.76,345.7 L634.22,345.05 L633.68,344.41 L633.14,343.78 L632.58,343.15 L632.03,342.52 L631.46,341.9 L630.89,341.29 L630.32,340.68 L629.74,340.07 L629.16,339.47 L628.57,338.87 L627.97,338.28 L627.37,337.7 L626.77,337.12 L626.16,336.55 L625.54,335.98 L624.92,335.42 L624.29,334.86 L623.66,334.31 L623.03,333.76 L622.39,333.22 L621.75,332.69 L621.1,332.16 L620.44,331.63 L619.78,331.12 L619.12,330.6 L618.45,330.1 L617.78,329.6 L617.11,329.1 L616.43,328.62 L615.74,328.14 L615.05,327.66 L614.36,327.19 L613.66,326.73 L612.96,326.27 L612.26,325.82 L611.55,325.38 L610.84,324.94 L610.12,324.51 L609.4,324.08 L608.67,323.66 L607.95,323.25 L607.21,322.85 L606.48,322.45 L605.74,322.06 L605,321.67 L604.25,321.3 L603.5,320.93 L602.75,320.57 L601.99,320.21 L601.23,319.87 L600.47,319.53 L599.7,319.2 L598.93,318.87 L598.16,318.55 L597.38,318.24 L596.6,317.94 L595.82,317.65 L595.04,317.36 L594.26,317.08 L593.47,316.8 L592.68,316.54 L591.88,316.28 L591.09,316.02 L590.29,315.78 L589.5,315.54 L588.7,315.31 L587.89,315.09 L587.09,314.87 L586.28,314.66 L585.48,314.46 L584.67,314.26 L583.86,314.07 L583.05,313.89 L582.23,313.72 L581.42,313.55 L580.6,313.39 L579.79,313.23 L578.97,313.09 L578.15,312.94 L577.33,312.81 L576.51,312.68 L575.69,312.56 L574.87,312.45 L574.04,312.34 L573.22,312.24 L572.39,312.15 L571.57,312.06 L570.74,311.98 L569.92,311.91 L569.09,311.84 L568.27,311.78 L567.44,311.72 L566.61,311.67 L565.78,311.63 L564.96,311.59 L564.13,311.56 L563.3,311.54 L562.47,311.52 L561.64,311.51 L560.81,311.5 L559.99,311.5 L559.16,311.51 L558.33,311.52 L557.5,311.54 L556.67,311.56 L555.84,311.59 L555.02,311.63 L554.19,311.67 L553.36,311.72 L552.53,311.78 L551.71,311.84 L550.88,311.91 L550.06,311.98 L549.23,312.06 L548.41,312.15 L547.58,312.24 L546.76,312.34 L545.93,312.45 L545.11,312.56 L544.29,312.68 L543.47,312.81 L542.65,312.94 L541.83,313.09 L541.01,313.23 L540.2,313.39 L539.38,313.55 L538.57,313.72 L537.75,313.89 L536.94,314.07 L536.13,314.26 L535.32,314.46 L534.52,314.66 L533.71,314.87 L532.91,315.09 L532.1,315.31 L531.3,315.54 L530.51,315.78 L529.71,316.02 L528.92,316.28 L528.12,316.54 L527.33,316.8 L526.54,317.08 L525.76,317.36 L524.98,317.65 L524.2,317.94 L523.42,318.24 L522.64,318.55 L521.87,318.87 L521.1,319.2 L520.33,319.53 L519.57,319.87 L518.81,320.21 L518.05,320.57 L517.3,320.93 L516.55,321.3 L515.8,321.67 L515.06,322.06 L514.32,322.45 L513.59,322.85 L512.85,323.25 L512.13,323.66 L511.4,324.08 L510.68,324.51 L509.96,324.94 L509.25,325.38 L508.54,325.82 L507.84,326.27 L507.14,326.73 L506.44,327.19 L505.75,327.66 L505.06,328.14 L504.37,328.62 L503.69,329.1 L503.02,329.6 L502.35,330.1 L501.68,330.6 L501.02,331.12 L500.36,331.63 L499.7,332.16 L499.05,332.69 L498.41,333.22 L497.77,333.76 L497.14,334.31 L496.51,334.86 L495.88,335.42 L495.26,335.98 L494.64,336.55 L494.03,337.12 L493.43,337.7 L492.83,338.28 L492.23,338.87 L491.64,339.47 L491.06,340.07 L490.48,340.68 L489.91,341.29 L489.34,341.9 L488.77,342.52 L488.22,343.15 L487.66,343.78 L487.12,344.41 L486.58,345.05 L486.04,345.7 L485.51,346.35 L484.99,347 L484.47,347.66 L483.95,348.32 L483.45,348.99 L482.95,349.66 L482.45,350.34 L481.96,351.02 L481.48,351.71 L481,352.4 L480.53,353.09 L480.07,353.79 L479.61,354.49 L479.15,355.2 L478.71,355.91 L478.27,356.62 L477.83,357.34 L477.4,358.06 L476.98,358.78 L476.57,359.51 L476.16,360.25 L475.75,360.98 L475.36,361.72 L474.97,362.46 L474.58,363.21 L474.21,363.96 L473.84,364.71 L473.47,365.47 L473.12,366.23 L472.77,366.99 L472.42,367.76 L472.09,368.53 L471.76,369.3 L471.43,370.07 L471.11,370.85 L470.81,371.63 L470.5,372.41 L470.21,373.2 L469.92,373.99 L469.63,374.78 L469.36,375.57 L469.09,376.37 L468.83,377.16 L468.57,377.96 L468.33,378.77 L468.09,379.57 L467.85,380.38 L467.63,381.19 L467.41,382 L467.19,382.81 L466.99,383.63 L466.79,384.44 L466.6,385.26 L466.42,386.08 L466.24,386.9 L466.07,387.72 L465.91,388.55 L465.76,389.37 L465.61,390.2 L465.47,391.03 L465.34,391.86 L465.21,392.69 L465.09,393.52 L464.98,394.36 L464.88,395.19 L464.78,396.02 L464.69,396.86 L464.61,397.7 L464.54,398.53 L464.47,399.37 L464.41,400.21 L464.36,401.05 L464.31,401.89 L464.28,402.73 L464.25,403.57 L464.22,404.41 L464.21,405.25 L464.2,406.09 L464.2,406.93 L464.21,407.77 L464.22,408.61 L464.24,409.45 L464.27,410.29 L464.31,411.13 L464.35,411.97 L464.4,412.81 L464.46,413.65 L464.53,414.49 L464.6,415.33 L464.68,416.16 L464.77,417 L464.86,417.84 L464.96,418.67 L465.07,419.5 L465.19,420.34 L465.31,421.17 L465.45,422 L465.58,422.83 L465.73,423.66 L465.88,424.48 L466.04,425.31 L466.21,426.13 L466.39,426.96 L466.57,427.78 L466.76,428.6 L466.95,429.42 L467.16,430.23 L467.37,431.05 L467.59,431.86 L467.81,432.67 L468.04,433.48 L468.28,434.28 L468.53,435.09 L468.78,435.89 L469.04,436.69 L469.31,437.49 L469.59,438.28 L469.87,439.08 L470.16,439.87 L470.45,440.66 L470.75,441.44 L471.06,442.22 L471.38,443 L471.7,443.78 L472.03,444.55 L472.37,445.33 L472.71,446.09 L473.06,446.86 L473.42,447.62 L473.78,448.38 L474.15,449.13 L474.53,449.89 L474.91,450.64 L475.3,451.38 L475.7,452.12 L476.11,452.86 L476.52,453.6 L476.93,454.33 L477.35,455.06 L477.78,455.78 L478.22,456.5 L478.66,457.21 L479.11,457.93 L479.57,458.63 L480.03,459.34 L480.5,460.03 L480.98,460.73 L481.46,461.42 L481.95,462.1 L482.44,462.78 L482.94,463.46 L483.45,464.13 L483.96,464.8 L484.48,465.46 L485.01,466.12 L485.54,466.77 L486.07,467.42 L486.62,468.06 L487.16,468.7 L487.72,469.33 L488.28,469.96 L488.84,470.58 L489.41,471.2 L489.99,471.81 L490.57,472.42 L491.16,473.02 L491.75,473.61 L492.35,474.2 L492.95,474.79 L493.56,475.37 L494.17,475.94 L494.79,476.51 L495.41,477.07 L496.04,477.63 L496.67,478.18 L497.31,478.73 L497.95,479.27 L498.6,479.8 L499.25,480.33 L499.91,480.85 L500.57,481.37 L501.24,481.88 L501.91,482.39 L502.58,482.89 L503.26,483.38 L503.94,483.87 L504.63,484.35 L505.32,484.82 L506.01,485.29 L506.71,485.75 L507.41,486.21 L508.12,486.66 L508.83,487.1 L509.55,487.54 L510.26,487.97 L510.99,488.4 L511.71,488.82 L512.44,489.23 L513.17,489.64 L513.91,490.04 L514.65,490.43 L515.39,490.82 L516.13,491.2 L516.88,491.57 L517.64,491.93 L518.39,492.29 L519.15,492.64 L519.91,492.99 L520.68,493.33 L521.44,493.66 L522.21,493.98 L522.99,494.3 L523.76,494.61 L524.54,494.92 L525.32,495.21 L526.11,495.5 L526.89,495.78 L527.68,496.06 L528.47,496.33 L529.27,496.59 L530.06,496.84 L530.86,497.09 L531.66,497.33 L532.46,497.56 L533.26,497.78 L534.07,498 L534.87,498.21 L535.68,498.41 L536.49,498.61 L537.3,498.8 L538.12,498.98 L538.93,499.15 L539.75,499.32 L540.57,499.48 L541.38,499.63 L542.2,499.78 L543.02,499.92 L543.85,500.05 L544.67,500.17 L545.49,500.28 L546.32,500.39 L547.14,500.49 L547.97,500.59 L548.8,500.67 L549.62,500.75 L550.45,500.82 L551.28,500.88 L552.11,500.94 L552.94,500.99 L553.77,501.03 L554.6,501.07 L555.43,501.09 L556.25,501.11 L557.08,501.12 L557.91,501.13 L558.74,501.13 L559.57,501.12 L560.4,501.1 Z" stroke="#c9d64c" stroke-width="2.4"/>
<path d="M560.4,495.6 L561.18,495.62 L561.96,495.62 L562.74,495.63 L563.52,495.63 L564.31,495.62 L565.09,495.61 L565.87,495.6 L566.65,495.57 L567.43,495.55 L568.22,495.51 L569,495.47 L569.78,495.43 L570.56,495.38 L571.35,495.32 L572.13,495.26 L572.91,495.2 L573.69,495.12 L574.48,495.04 L575.26,494.96 L576.04,494.87 L576.82,494.77 L577.6,494.67 L578.38,494.56 L579.16,494.44 L579.94,494.32 L580.72,494.19 L581.5,494.05 L582.28,493.91 L583.05,493.77 L583.83,493.62 L584.61,493.46 L585.38,493.3 L586.16,493.14 L586.94,492.97 L587.71,492.8 L588.49,492.62 L589.26,492.44 L590.04,492.25 L590.81,492.06 L591.59,491.86 L592.36,491.65 L593.13,491.44 L593.9,491.23 L594.67,491 L595.44,490.77 L596.21,490.54 L596.98,490.3 L597.75,490.05 L598.51,489.8 L599.27,489.53 L600.04,489.26 L600.79,488.99 L601.55,488.71 L602.31,488.41 L603.06,488.12 L603.81,487.81 L604.56,487.5 L605.3,487.18 L606.05,486.85 L606.79,486.52 L607.53,486.18 L608.27,485.84 L609.01,485.49 L609.75,485.14 L610.48,484.78 L611.22,484.41 L611.95,484.04 L612.67,483.66 L613.4,483.28 L614.12,482.88 L614.84,482.48 L615.55,482.07 L616.27,481.66 L616.97,481.23 L617.68,480.8 L618.37,480.36 L619.07,479.91 L619.75,479.45 L620.44,478.99 L621.11,478.51 L621.78,478.02 L622.44,477.53 L623.1,477.03 L623.75,476.51 L624.4,476 L625.04,475.47 L625.68,474.94 L626.31,474.41 L626.94,473.86 L627.56,473.31 L628.18,472.76 L628.79,472.19 L629.39,471.62 L629.99,471.05 L630.59,470.47 L631.18,469.88 L631.76,469.29 L632.34,468.68 L632.91,468.08 L633.47,467.46 L634.03,466.84 L634.58,466.22 L635.12,465.59 L635.66,464.95 L636.19,464.3 L636.71,463.65 L637.23,463 L637.74,462.33 L638.24,461.67 L638.73,460.99 L639.22,460.32 L639.71,459.64 L640.18,458.95 L640.65,458.26 L641.12,457.57 L641.58,456.87 L642.03,456.16 L642.48,455.46 L642.91,454.74 L643.35,454.03 L643.77,453.31 L644.19,452.58 L644.6,451.85 L645.01,451.12 L645.4,450.39 L645.79,449.65 L646.18,448.9 L646.55,448.15 L646.92,447.4 L647.28,446.65 L647.63,445.89 L647.98,445.12 L648.32,444.36 L648.65,443.59 L648.97,442.82 L649.28,442.04 L649.59,441.26 L649.89,440.48 L650.18,439.69 L650.46,438.91 L650.74,438.12 L651.01,437.32 L651.27,436.53 L651.53,435.73 L651.77,434.93 L652.01,434.13 L652.24,433.33 L652.47,432.52 L652.68,431.71 L652.89,430.9 L653.09,430.09 L653.29,429.28 L653.47,428.46 L653.65,427.64 L653.82,426.83 L653.98,426.01 L654.14,425.19 L654.29,424.36 L654.43,423.54 L654.56,422.72 L654.69,421.89 L654.81,421.06 L654.92,420.23 L655.02,419.41 L655.12,418.58 L655.21,417.75 L655.29,416.92 L655.37,416.09 L655.43,415.25 L655.49,414.42 L655.55,413.59 L655.59,412.76 L655.63,411.92 L655.66,411.09 L655.68,410.26 L655.7,409.42 L655.71,408.59 L655.71,407.76 L655.71,406.92 L655.7,406.09 L655.68,405.26 L655.65,404.43 L655.62,403.6 L655.57,402.76 L655.52,401.93 L655.47,401.1 L655.4,400.27 L655.33,399.44 L655.25,398.62 L655.16,397.79 L655.06,396.96 L654.96,396.14 L654.85,395.31 L654.73,394.49 L654.61,393.67 L654.48,392.85 L654.34,392.03 L654.19,391.21 L654.04,390.4 L653.88,389.58 L653.71,388.77 L653.54,387.96 L653.36,387.15 L653.17,386.34 L652.98,385.53 L652.77,384.73 L652.57,383.93 L652.35,383.13 L652.13,382.33 L651.9,381.53 L651.67,380.74 L651.43,379.94 L651.18,379.15 L650.92,378.37 L650.66,377.58 L650.39,376.8 L650.12,376.02 L649.84,375.24 L649.55,374.46 L649.25,373.69 L648.95,372.92 L648.65,372.15 L648.33,371.39 L648.01,370.63 L647.68,369.87 L647.35,369.11 L647.01,368.36 L646.66,367.61 L646.3,366.86 L645.94,366.12 L645.58,365.38 L645.2,364.64 L644.82,363.91 L644.44,363.18 L644.04,362.45 L643.64,361.73 L643.24,361.01 L642.83,360.3 L642.41,359.59 L641.98,358.88 L641.55,358.18 L641.12,357.48 L640.68,356.78 L640.23,356.09 L639.77,355.4 L639.31,354.72 L638.85,354.04 L638.37,353.36 L637.9,352.69 L637.41,352.03 L636.92,351.37 L636.43,350.71 L635.92,350.05 L635.42,349.41 L634.91,348.76 L634.39,348.12 L633.86,347.49 L633.34,346.86 L632.8,346.23 L632.26,345.61 L631.72,345 L631.17,344.39 L630.61,343.78 L630.05,343.18 L629.48,342.59 L628.91,342 L628.34,341.41 L627.76,340.83 L627.17,340.25 L626.58,339.68 L625.99,339.12 L625.39,338.56 L624.78,338 L624.18,337.45 L623.56,336.91 L622.94,336.37 L622.32,335.84 L621.69,335.31 L621.06,334.79 L620.42,334.27 L619.78,333.76 L619.14,333.26 L618.48,332.76 L617.83,332.27 L617.17,331.78 L616.51,331.3 L615.84,330.83 L615.16,330.37 L614.49,329.91 L613.81,329.45 L613.12,329.01 L612.43,328.57 L611.74,328.14 L611.04,327.71 L610.34,327.29 L609.63,326.89 L608.92,326.49 L608.2,326.09 L607.48,325.71 L606.75,325.34 L606.02,324.97 L605.29,324.61 L604.56,324.26 L603.82,323.92 L603.07,323.58 L602.33,323.25 L601.58,322.93 L600.83,322.62 L600.07,322.32 L599.31,322.02 L598.55,321.73 L597.79,321.45 L597.03,321.18 L596.26,320.91 L595.49,320.65 L594.72,320.4 L593.95,320.16 L593.18,319.92 L592.4,319.69 L591.63,319.46 L590.85,319.24 L590.07,319.03 L589.29,318.82 L588.51,318.62 L587.72,318.43 L586.94,318.24 L586.16,318.06 L585.37,317.89 L584.59,317.72 L583.8,317.55 L583.01,317.4 L582.22,317.25 L581.43,317.12 L580.64,316.99 L579.85,316.87 L579.05,316.76 L578.26,316.65 L577.46,316.56 L576.67,316.47 L575.87,316.39 L575.08,316.31 L574.28,316.24 L573.49,316.18 L572.69,316.12 L571.89,316.07 L571.1,316.03 L570.3,315.99 L569.51,315.95 L568.72,315.92 L567.92,315.9 L567.13,315.87 L566.34,315.85 L565.54,315.84 L564.75,315.83 L563.96,315.82 L563.17,315.81 L562.38,315.8 L561.59,315.8 L560.8,315.8 L560,315.8 L559.21,315.8 L558.42,315.8 L557.63,315.81 L556.84,315.82 L556.05,315.83 L555.26,315.84 L554.46,315.85 L553.67,315.87 L552.88,315.9 L552.08,315.92 L551.29,315.95 L550.5,315.99 L549.7,316.03 L548.91,316.07 L548.11,316.12 L547.31,316.18 L546.52,316.24 L545.72,316.31 L544.93,316.39 L544.13,316.47 L543.34,316.56 L542.54,316.65 L541.75,316.76 L540.95,316.87 L540.16,316.99 L539.37,317.12 L538.58,317.25 L537.79,317.4 L537,317.55 L536.21,317.72 L535.43,317.89 L534.64,318.06 L533.86,318.24 L533.08,318.43 L532.29,318.62 L531.51,318.82 L530.73,319.03 L529.95,319.24 L529.17,319.46 L528.4,319.69 L527.62,319.92 L526.85,320.16 L526.08,320.4 L525.31,320.65 L524.54,320.91 L523.77,321.18 L523.01,321.45 L522.25,321.73 L521.49,322.02 L520.73,322.32 L519.97,322.62 L519.22,322.93 L518.47,323.25 L517.73,323.58 L516.98,323.92 L516.24,324.26 L515.51,324.61 L514.78,324.97 L514.05,325.34 L513.32,325.71 L512.6,326.09 L511.88,326.49 L511.17,326.89 L510.46,327.29 L509.76,327.71 L509.06,328.14 L508.37,328.57 L507.68,329.01 L506.99,329.45 L506.31,329.91 L505.64,330.37 L504.96,330.83 L504.29,331.3 L503.63,331.78 L502.97,332.27 L502.32,332.76 L501.66,333.26 L501.02,333.76 L500.38,334.27 L499.74,334.79 L499.11,335.31 L498.48,335.84 L497.86,336.37 L497.24,336.91 L496.62,337.45 L496.02,338 L495.41,338.56 L494.81,339.12 L494.22,339.68 L493.63,340.25 L493.04,340.83 L492.46,341.41 L491.89,342 L491.32,342.59 L490.75,343.18 L490.19,343.78 L489.63,344.39 L489.08,345 L488.54,345.61 L488,346.23 L487.46,346.86 L486.94,347.49 L486.41,348.12 L485.89,348.76 L485.38,349.41 L484.88,350.05 L484.37,350.71 L483.88,351.37 L483.39,352.03 L482.9,352.69 L482.43,353.36 L481.95,354.04 L481.49,354.72 L481.03,355.4 L480.57,356.09 L480.12,356.78 L479.68,357.48 L479.25,358.18 L478.82,358.88 L478.39,359.59 L477.97,360.3 L477.56,361.01 L477.16,361.73 L476.76,362.45 L476.36,363.18 L475.98,363.91 L475.6,364.64 L475.22,365.38 L474.86,366.12 L474.5,366.86 L474.14,367.61 L473.79,368.36 L473.45,369.11 L473.12,369.87 L472.79,370.63 L472.47,371.39 L472.15,372.15 L471.85,372.92 L471.55,373.69 L471.25,374.46 L470.96,375.24 L470.68,376.02 L470.41,376.8 L470.14,377.58 L469.88,378.37 L469.62,379.15 L469.37,379.94 L469.13,380.74 L468.9,381.53 L468.67,382.33 L468.45,383.13 L468.23,383.93 L468.03,384.73 L467.82,385.53 L467.63,386.34 L467.44,387.15 L467.26,387.96 L467.09,388.77 L466.92,389.58 L466.76,390.4 L466.61,391.21 L466.46,392.03 L466.32,392.85 L466.19,393.67 L466.07,394.49 L465.95,395.31 L465.84,396.14 L465.74,396.96 L465.64,397.79 L465.55,398.62 L465.47,399.44 L465.4,400.27 L465.33,401.1 L465.28,401.93 L465.23,402.76 L465.18,403.6 L465.15,404.43 L465.12,405.26 L465.1,406.09 L465.09,406.92 L465.09,407.76 L465.09,408.59 L465.1,409.42 L465.12,410.26 L465.14,411.09 L465.17,411.92 L465.21,412.76 L465.25,413.59 L465.31,414.42 L465.37,415.25 L465.43,416.09 L465.51,416.92 L465.59,417.75 L465.68,418.58 L465.78,419.41 L465.88,420.23 L465.99,421.06 L466.11,421.89 L466.24,422.72 L466.37,423.54 L466.51,424.36 L466.66,425.19 L466.82,426.01 L466.98,426.83 L467.15,427.64 L467.33,428.46 L467.51,429.28 L467.71,430.09 L467.91,430.9 L468.12,431.71 L468.33,432.52 L468.56,433.33 L468.79,434.13 L469.03,434.93 L469.27,435.73 L469.53,436.53 L469.79,437.32 L470.06,438.12 L470.34,438.91 L470.62,439.69 L470.91,440.48 L471.21,441.26 L471.52,442.04 L471.83,442.82 L472.15,443.59 L472.48,444.36 L472.82,445.12 L473.17,445.89 L473.52,446.65 L473.88,447.4 L474.25,448.15 L474.62,448.9 L475.01,449.65 L475.4,450.39 L475.79,451.12 L476.2,451.85 L476.61,452.58 L477.03,453.31 L477.45,454.03 L477.89,454.74 L478.32,455.46 L478.77,456.16 L479.22,456.87 L479.68,457.57 L480.15,458.26 L480.62,458.95 L481.09,459.64 L481.58,460.32 L482.07,460.99 L482.56,461.67 L483.06,462.33 L483.57,463 L484.09,463.65 L484.61,464.3 L485.14,464.95 L485.68,465.59 L486.22,466.22 L486.77,466.84 L487.33,467.46 L487.89,468.08 L488.46,468.68 L489.04,469.29 L489.62,469.88 L490.21,470.47 L490.81,471.05 L491.41,471.62 L492.01,472.19 L492.62,472.76 L493.24,473.31 L493.86,473.86 L494.49,474.41 L495.12,474.94 L495.76,475.47 L496.4,476 L497.05,476.51 L497.7,477.03 L498.36,477.53 L499.02,478.02 L499.69,478.51 L500.36,478.99 L501.05,479.45 L501.73,479.91 L502.43,480.36 L503.12,480.8 L503.83,481.23 L504.53,481.66 L505.25,482.07 L505.96,482.48 L506.68,482.88 L507.4,483.28 L508.13,483.66 L508.85,484.04 L509.58,484.41 L510.32,484.78 L511.05,485.14 L511.79,485.49 L512.53,485.84 L513.27,486.18 L514.01,486.52 L514.75,486.85 L515.5,487.18 L516.24,487.5 L516.99,487.81 L517.74,488.12 L518.49,488.41 L519.25,488.71 L520.01,488.99 L520.76,489.26 L521.53,489.53 L522.29,489.8 L523.05,490.05 L523.82,490.3 L524.59,490.54 L525.36,490.77 L526.13,491 L526.9,491.23 L527.67,491.44 L528.44,491.65 L529.21,491.86 L529.99,492.06 L530.76,492.25 L531.54,492.44 L532.31,492.62 L533.09,492.8 L533.86,492.97 L534.64,493.14 L535.42,493.3 L536.19,493.46 L536.97,493.62 L537.75,493.77 L538.52,493.91 L539.3,494.05 L540.08,494.19 L540.86,494.32 L541.64,494.44 L542.42,494.56 L543.2,494.67 L543.98,494.77 L544.76,494.87 L545.54,494.96 L546.32,495.04 L547.11,495.12 L547.89,495.2 L548.67,495.26 L549.45,495.32 L550.24,495.38 L551.02,495.43 L551.8,495.47 L552.58,495.51 L553.37,495.55 L554.15,495.57 L554.93,495.6 L555.71,495.61 L556.49,495.62 L557.28,495.63 L558.06,495.63 L558.84,495.62 L559.62,495.62 L560.4,495.6 Z" stroke="#5cb887" stroke-width="2.4"/>
<path d="M560.4,493.7 L561.16,493.74 L561.93,493.77 L562.69,493.8 L563.46,493.82 L564.23,493.83 L564.99,493.84 L565.76,493.85 L566.53,493.84 L567.3,493.83 L568.07,493.82 L568.84,493.79 L569.61,493.77 L570.38,493.73 L571.15,493.69 L571.92,493.64 L572.69,493.59 L573.46,493.53 L574.22,493.46 L574.99,493.39 L575.76,493.31 L576.53,493.23 L577.3,493.14 L578.07,493.04 L578.84,492.94 L579.61,492.83 L580.38,492.71 L581.15,492.59 L581.91,492.46 L582.68,492.32 L583.44,492.18 L584.21,492.03 L584.97,491.88 L585.74,491.71 L586.5,491.55 L587.26,491.37 L588.02,491.19 L588.78,491 L589.54,490.81 L590.3,490.61 L591.06,490.41 L591.82,490.2 L592.57,489.98 L593.32,489.76 L594.08,489.53 L594.83,489.29 L595.58,489.05 L596.33,488.8 L597.08,488.55 L597.82,488.29 L598.57,488.02 L599.31,487.75 L600.05,487.47 L600.8,487.19 L601.54,486.9 L602.27,486.61 L603.01,486.31 L603.75,486 L604.48,485.69 L605.21,485.37 L605.95,485.06 L606.68,484.73 L607.41,484.41 L608.15,484.08 L608.88,483.75 L609.61,483.41 L610.34,483.06 L611.07,482.71 L611.79,482.36 L612.52,482 L613.24,481.63 L613.96,481.26 L614.68,480.87 L615.4,480.49 L616.11,480.09 L616.82,479.68 L617.52,479.27 L618.22,478.85 L618.92,478.42 L619.61,477.98 L620.29,477.53 L620.97,477.08 L621.64,476.61 L622.31,476.13 L622.97,475.65 L623.63,475.16 L624.29,474.67 L624.94,474.16 L625.58,473.66 L626.23,473.14 L626.87,472.62 L627.5,472.09 L628.13,471.56 L628.75,471.02 L629.37,470.47 L629.98,469.91 L630.59,469.35 L631.19,468.78 L631.78,468.2 L632.37,467.62 L632.95,467.03 L633.53,466.43 L634.09,465.83 L634.65,465.21 L635.21,464.59 L635.75,463.97 L636.29,463.33 L636.81,462.69 L637.33,462.04 L637.85,461.39 L638.35,460.73 L638.85,460.06 L639.35,459.4 L639.84,458.72 L640.32,458.04 L640.8,457.36 L641.27,456.67 L641.73,455.98 L642.19,455.28 L642.64,454.58 L643.08,453.87 L643.52,453.16 L643.94,452.45 L644.36,451.73 L644.78,451 L645.18,450.27 L645.58,449.54 L645.97,448.8 L646.35,448.06 L646.73,447.31 L647.09,446.56 L647.45,445.8 L647.79,445.04 L648.13,444.28 L648.46,443.51 L648.78,442.74 L649.1,441.97 L649.4,441.19 L649.7,440.41 L649.99,439.63 L650.28,438.84 L650.55,438.05 L650.82,437.26 L651.08,436.47 L651.34,435.67 L651.58,434.87 L651.82,434.07 L652.05,433.27 L652.28,432.47 L652.49,431.66 L652.7,430.85 L652.9,430.04 L653.1,429.23 L653.28,428.42 L653.46,427.6 L653.63,426.79 L653.8,425.97 L653.95,425.15 L654.1,424.33 L654.25,423.51 L654.38,422.68 L654.5,421.86 L654.62,421.03 L654.72,420.21 L654.82,419.38 L654.9,418.55 L654.98,417.72 L655.04,416.89 L655.1,416.06 L655.15,415.23 L655.19,414.4 L655.22,413.56 L655.24,412.73 L655.26,411.9 L655.27,411.07 L655.27,410.24 L655.27,409.41 L655.26,408.58 L655.24,407.75 L655.22,406.92 L655.19,406.09 L655.16,405.26 L655.12,404.44 L655.07,403.61 L655.02,402.78 L654.95,401.96 L654.88,401.13 L654.81,400.31 L654.73,399.49 L654.64,398.67 L654.54,397.85 L654.43,397.03 L654.32,396.21 L654.2,395.39 L654.08,394.57 L653.95,393.76 L653.81,392.95 L653.66,392.13 L653.51,391.32 L653.35,390.52 L653.18,389.71 L653.01,388.9 L652.82,388.1 L652.64,387.3 L652.44,386.5 L652.24,385.7 L652.03,384.9 L651.82,384.11 L651.59,383.32 L651.36,382.53 L651.13,381.74 L650.88,380.96 L650.63,380.17 L650.38,379.39 L650.11,378.62 L649.84,377.84 L649.57,377.07 L649.28,376.3 L648.99,375.53 L648.7,374.77 L648.39,374.01 L648.08,373.25 L647.77,372.49 L647.44,371.74 L647.11,370.99 L646.78,370.24 L646.44,369.5 L646.09,368.76 L645.74,368.02 L645.38,367.29 L645.01,366.56 L644.64,365.83 L644.26,365.11 L643.87,364.39 L643.48,363.67 L643.09,362.96 L642.69,362.25 L642.28,361.54 L641.86,360.84 L641.45,360.14 L641.02,359.44 L640.59,358.75 L640.15,358.06 L639.71,357.38 L639.26,356.69 L638.81,356.02 L638.35,355.35 L637.89,354.68 L637.42,354.01 L636.94,353.35 L636.46,352.7 L635.97,352.05 L635.48,351.4 L634.98,350.76 L634.48,350.12 L633.97,349.48 L633.46,348.85 L632.94,348.23 L632.41,347.61 L631.88,346.99 L631.35,346.38 L630.81,345.78 L630.27,345.18 L629.71,344.58 L629.16,343.99 L628.6,343.4 L628.04,342.82 L627.47,342.24 L626.89,341.67 L626.32,341.1 L625.73,340.54 L625.15,339.98 L624.55,339.43 L623.96,338.88 L623.36,338.33 L622.75,337.8 L622.14,337.26 L621.53,336.74 L620.91,336.22 L620.28,335.7 L619.66,335.19 L619.02,334.69 L618.39,334.19 L617.74,333.7 L617.1,333.21 L616.45,332.73 L615.79,332.26 L615.13,331.79 L614.47,331.33 L613.8,330.88 L613.12,330.44 L612.45,330 L611.76,329.56 L611.08,329.14 L610.39,328.72 L609.69,328.31 L608.99,327.92 L608.28,327.53 L607.57,327.15 L606.85,326.79 L606.13,326.43 L605.4,326.08 L604.67,325.75 L603.93,325.42 L603.19,325.1 L602.45,324.79 L601.7,324.49 L600.95,324.2 L600.2,323.92 L599.44,323.65 L598.69,323.38 L597.93,323.13 L597.16,322.88 L596.4,322.63 L595.64,322.4 L594.87,322.17 L594.1,321.95 L593.33,321.74 L592.56,321.54 L591.79,321.34 L591.02,321.14 L590.25,320.95 L589.48,320.77 L588.7,320.6 L587.93,320.43 L587.16,320.26 L586.38,320.1 L585.61,319.94 L584.83,319.79 L584.06,319.64 L583.29,319.49 L582.51,319.36 L581.74,319.23 L580.96,319.11 L580.18,319 L579.4,318.9 L578.62,318.81 L577.85,318.72 L577.07,318.64 L576.29,318.57 L575.51,318.51 L574.73,318.45 L573.95,318.39 L573.17,318.35 L572.39,318.3 L571.61,318.27 L570.84,318.24 L570.06,318.21 L569.29,318.18 L568.51,318.16 L567.74,318.15 L566.96,318.13 L566.19,318.12 L565.41,318.12 L564.64,318.11 L563.87,318.11 L563.1,318.1 L562.33,318.1 L561.56,318.1 L560.79,318.1 L560.01,318.1 L559.24,318.1 L558.47,318.1 L557.7,318.1 L556.93,318.11 L556.16,318.11 L555.39,318.12 L554.61,318.12 L553.84,318.13 L553.06,318.15 L552.29,318.16 L551.51,318.18 L550.74,318.21 L549.96,318.24 L549.19,318.27 L548.41,318.3 L547.63,318.35 L546.85,318.39 L546.07,318.45 L545.29,318.51 L544.51,318.57 L543.73,318.64 L542.95,318.72 L542.18,318.81 L541.4,318.9 L540.62,319 L539.84,319.11 L539.06,319.23 L538.29,319.36 L537.51,319.49 L536.74,319.64 L535.97,319.79 L535.19,319.94 L534.42,320.1 L533.64,320.26 L532.87,320.43 L532.1,320.6 L531.32,320.77 L530.55,320.95 L529.78,321.14 L529.01,321.34 L528.24,321.54 L527.47,321.74 L526.7,321.95 L525.93,322.17 L525.16,322.4 L524.4,322.63 L523.64,322.88 L522.87,323.13 L522.11,323.38 L521.36,323.65 L520.6,323.92 L519.85,324.2 L519.1,324.49 L518.35,324.79 L517.61,325.1 L516.87,325.42 L516.13,325.75 L515.4,326.08 L514.67,326.43 L513.95,326.79 L513.23,327.15 L512.52,327.53 L511.81,327.92 L511.11,328.31 L510.41,328.72 L509.72,329.14 L509.04,329.56 L508.35,330 L507.68,330.44 L507,330.88 L506.33,331.33 L505.67,331.79 L505.01,332.26 L504.35,332.73 L503.7,333.21 L503.06,333.7 L502.41,334.19 L501.78,334.69 L501.14,335.19 L500.52,335.7 L499.89,336.22 L499.27,336.74 L498.66,337.26 L498.05,337.8 L497.44,338.33 L496.84,338.88 L496.25,339.43 L495.65,339.98 L495.07,340.54 L494.48,341.1 L493.91,341.67 L493.33,342.24 L492.76,342.82 L492.2,343.4 L491.64,343.99 L491.09,344.58 L490.53,345.18 L489.99,345.78 L489.45,346.38 L488.92,346.99 L488.39,347.61 L487.86,348.23 L487.34,348.85 L486.83,349.48 L486.32,350.12 L485.82,350.76 L485.32,351.4 L484.83,352.05 L484.34,352.7 L483.86,353.35 L483.38,354.01 L482.91,354.68 L482.45,355.35 L481.99,356.02 L481.54,356.69 L481.09,357.38 L480.65,358.06 L480.21,358.75 L479.78,359.44 L479.35,360.14 L478.94,360.84 L478.52,361.54 L478.11,362.25 L477.71,362.96 L477.32,363.67 L476.93,364.39 L476.54,365.11 L476.16,365.83 L475.79,366.56 L475.42,367.29 L475.06,368.02 L474.71,368.76 L474.36,369.5 L474.02,370.24 L473.69,370.99 L473.36,371.74 L473.03,372.49 L472.72,373.25 L472.41,374.01 L472.1,374.77 L471.81,375.53 L471.52,376.3 L471.23,377.07 L470.96,377.84 L470.69,378.62 L470.42,379.39 L470.17,380.17 L469.92,380.96 L469.67,381.74 L469.44,382.53 L469.21,383.32 L468.98,384.11 L468.77,384.9 L468.56,385.7 L468.36,386.5 L468.16,387.3 L467.98,388.1 L467.79,388.9 L467.62,389.71 L467.45,390.52 L467.29,391.32 L467.14,392.13 L466.99,392.95 L466.85,393.76 L466.72,394.57 L466.6,395.39 L466.48,396.21 L466.37,397.03 L466.26,397.85 L466.16,398.67 L466.07,399.49 L465.99,400.31 L465.92,401.13 L465.85,401.96 L465.78,402.78 L465.73,403.61 L465.68,404.44 L465.64,405.26 L465.61,406.09 L465.58,406.92 L465.56,407.75 L465.54,408.58 L465.53,409.41 L465.53,410.24 L465.53,411.07 L465.54,411.9 L465.56,412.73 L465.58,413.56 L465.61,414.4 L465.65,415.23 L465.7,416.06 L465.76,416.89 L465.82,417.72 L465.9,418.55 L465.98,419.38 L466.08,420.21 L466.18,421.03 L466.3,421.86 L466.42,422.68 L466.55,423.51 L466.7,424.33 L466.85,425.15 L467,425.97 L467.17,426.79 L467.34,427.6 L467.52,428.42 L467.7,429.23 L467.9,430.04 L468.1,430.85 L468.31,431.66 L468.52,432.47 L468.75,433.27 L468.98,434.07 L469.22,434.87 L469.46,435.67 L469.72,436.47 L469.98,437.26 L470.25,438.05 L470.52,438.84 L470.81,439.63 L471.1,440.41 L471.4,441.19 L471.7,441.97 L472.02,442.74 L472.34,443.51 L472.67,444.28 L473.01,445.04 L473.35,445.8 L473.71,446.56 L474.07,447.31 L474.45,448.06 L474.83,448.8 L475.22,449.54 L475.62,450.27 L476.02,451 L476.44,451.73 L476.86,452.45 L477.28,453.16 L477.72,453.87 L478.16,454.58 L478.61,455.28 L479.07,455.98 L479.53,456.67 L480,457.36 L480.48,458.04 L480.96,458.72 L481.45,459.4 L481.95,460.06 L482.45,460.73 L482.95,461.39 L483.47,462.04 L483.99,462.69 L484.51,463.33 L485.05,463.97 L485.59,464.59 L486.15,465.21 L486.71,465.83 L487.27,466.43 L487.85,467.03 L488.43,467.62 L489.02,468.2 L489.61,468.78 L490.21,469.35 L490.82,469.91 L491.43,470.47 L492.05,471.02 L492.67,471.56 L493.3,472.09 L493.93,472.62 L494.57,473.14 L495.22,473.66 L495.86,474.16 L496.51,474.67 L497.17,475.16 L497.83,475.65 L498.49,476.13 L499.16,476.61 L499.83,477.08 L500.51,477.53 L501.19,477.98 L501.88,478.42 L502.58,478.85 L503.28,479.27 L503.98,479.68 L504.69,480.09 L505.4,480.49 L506.12,480.87 L506.84,481.26 L507.56,481.63 L508.28,482 L509.01,482.36 L509.73,482.71 L510.46,483.06 L511.19,483.41 L511.92,483.75 L512.65,484.08 L513.39,484.41 L514.12,484.73 L514.85,485.06 L515.59,485.37 L516.32,485.69 L517.05,486 L517.79,486.31 L518.53,486.61 L519.26,486.9 L520,487.19 L520.75,487.47 L521.49,487.75 L522.23,488.02 L522.98,488.29 L523.72,488.55 L524.47,488.8 L525.22,489.05 L525.97,489.29 L526.72,489.53 L527.48,489.76 L528.23,489.98 L528.98,490.2 L529.74,490.41 L530.5,490.61 L531.26,490.81 L532.02,491 L532.78,491.19 L533.54,491.37 L534.3,491.55 L535.06,491.71 L535.83,491.88 L536.59,492.03 L537.36,492.18 L538.12,492.32 L538.89,492.46 L539.65,492.59 L540.42,492.71 L541.19,492.83 L541.96,492.94 L542.73,493.04 L543.5,493.14 L544.27,493.23 L545.04,493.31 L545.81,493.39 L546.58,493.46 L547.34,493.53 L548.11,493.59 L548.88,493.64 L549.65,493.69 L550.42,493.73 L551.19,493.77 L551.96,493.79 L552.73,493.82 L553.5,493.83 L554.27,493.84 L555.04,493.85 L555.81,493.84 L556.57,493.83 L557.34,493.82 L558.11,493.8 L558.87,493.77 L559.64,493.74 L560.4,493.7 Z" stroke="#3b59ad" stroke-width="2.6"/>
<path d="M560.4,491.9 L561.15,491.95 L561.9,491.99 L562.65,492.03 L563.4,492.06 L564.15,492.08 L564.9,492.1 L565.66,492.11 L566.41,492.11 L567.16,492.11 L567.92,492.1 L568.67,492.09 L569.43,492.07 L570.18,492.05 L570.94,492.01 L571.7,491.98 L572.45,491.93 L573.21,491.88 L573.96,491.82 L574.72,491.76 L575.48,491.69 L576.23,491.61 L576.99,491.53 L577.75,491.44 L578.5,491.35 L579.26,491.25 L580.01,491.14 L580.77,491.03 L581.52,490.9 L582.28,490.78 L583.03,490.64 L583.79,490.5 L584.54,490.36 L585.29,490.2 L586.04,490.04 L586.79,489.87 L587.54,489.7 L588.29,489.52 L589.03,489.33 L589.78,489.14 L590.52,488.94 L591.27,488.74 L592.01,488.52 L592.75,488.31 L593.49,488.08 L594.23,487.86 L594.97,487.62 L595.71,487.38 L596.45,487.13 L597.18,486.88 L597.92,486.63 L598.65,486.36 L599.38,486.1 L600.11,485.82 L600.84,485.54 L601.57,485.26 L602.3,484.97 L603.03,484.68 L603.75,484.38 L604.48,484.08 L605.2,483.77 L605.93,483.47 L606.66,483.16 L607.39,482.84 L608.11,482.53 L608.84,482.21 L609.57,481.88 L610.3,481.55 L611.02,481.21 L611.74,480.87 L612.47,480.53 L613.19,480.17 L613.91,479.81 L614.62,479.44 L615.34,479.07 L616.05,478.69 L616.76,478.3 L617.46,477.9 L618.16,477.49 L618.86,477.07 L619.55,476.65 L620.23,476.21 L620.91,475.77 L621.58,475.32 L622.26,474.86 L622.92,474.39 L623.59,473.92 L624.25,473.44 L624.91,472.96 L625.57,472.47 L626.22,471.98 L626.87,471.48 L627.51,470.97 L628.15,470.45 L628.79,469.93 L629.42,469.4 L630.04,468.86 L630.66,468.31 L631.27,467.76 L631.87,467.19 L632.47,466.62 L633.06,466.04 L633.64,465.46 L634.21,464.86 L634.77,464.26 L635.33,463.64 L635.87,463.02 L636.41,462.39 L636.93,461.75 L637.45,461.1 L637.96,460.45 L638.46,459.8 L638.96,459.14 L639.45,458.47 L639.94,457.8 L640.42,457.12 L640.89,456.44 L641.36,455.75 L641.82,455.06 L642.27,454.37 L642.72,453.67 L643.16,452.96 L643.59,452.25 L644.01,451.53 L644.42,450.81 L644.83,450.09 L645.23,449.36 L645.62,448.62 L646,447.88 L646.37,447.14 L646.73,446.39 L647.09,445.64 L647.43,444.88 L647.77,444.12 L648.09,443.36 L648.41,442.59 L648.73,441.82 L649.03,441.04 L649.33,440.27 L649.63,439.49 L649.91,438.71 L650.19,437.92 L650.47,437.14 L650.73,436.35 L650.99,435.56 L651.24,434.77 L651.49,433.97 L651.73,433.18 L651.96,432.38 L652.18,431.58 L652.4,430.77 L652.61,429.97 L652.81,429.16 L653.01,428.35 L653.2,427.54 L653.38,426.73 L653.56,425.92 L653.72,425.1 L653.89,424.29 L654.04,423.47 L654.19,422.65 L654.32,421.83 L654.45,421.01 L654.55,420.18 L654.65,419.35 L654.72,418.53 L654.79,417.7 L654.84,416.87 L654.88,416.04 L654.9,415.2 L654.92,414.37 L654.93,413.54 L654.92,412.71 L654.91,411.88 L654.9,411.05 L654.87,410.22 L654.84,409.4 L654.81,408.57 L654.77,407.74 L654.73,406.92 L654.69,406.09 L654.64,405.27 L654.58,404.45 L654.52,403.63 L654.45,402.81 L654.38,401.99 L654.29,401.17 L654.2,400.35 L654.1,399.53 L654,398.72 L653.89,397.9 L653.77,397.09 L653.64,396.28 L653.51,395.47 L653.37,394.66 L653.23,393.86 L653.08,393.05 L652.92,392.25 L652.75,391.45 L652.58,390.65 L652.4,389.85 L652.22,389.05 L652.03,388.26 L651.83,387.46 L651.62,386.67 L651.41,385.89 L651.19,385.1 L650.97,384.32 L650.74,383.53 L650.5,382.75 L650.26,381.98 L650.01,381.2 L649.75,380.43 L649.48,379.66 L649.21,378.89 L648.94,378.13 L648.65,377.37 L648.36,376.61 L648.07,375.85 L647.77,375.1 L647.46,374.35 L647.14,373.6 L646.82,372.86 L646.49,372.12 L646.16,371.38 L645.82,370.64 L645.48,369.91 L645.13,369.18 L644.77,368.46 L644.41,367.73 L644.04,367.01 L643.67,366.3 L643.29,365.58 L642.9,364.87 L642.52,364.17 L642.12,363.46 L641.72,362.76 L641.31,362.07 L640.9,361.37 L640.49,360.68 L640.07,359.99 L639.64,359.31 L639.21,358.63 L638.77,357.96 L638.33,357.29 L637.88,356.62 L637.42,355.95 L636.96,355.29 L636.5,354.64 L636.03,353.98 L635.55,353.34 L635.07,352.69 L634.59,352.05 L634.1,351.42 L633.6,350.79 L633.1,350.16 L632.59,349.54 L632.08,348.92 L631.56,348.31 L631.04,347.7 L630.51,347.09 L629.98,346.49 L629.44,345.9 L628.89,345.31 L628.34,344.73 L627.79,344.15 L627.23,343.57 L626.67,343 L626.11,342.44 L625.53,341.87 L624.96,341.32 L624.38,340.76 L623.79,340.22 L623.21,339.68 L622.61,339.14 L622.01,338.61 L621.41,338.08 L620.8,337.56 L620.19,337.05 L619.58,336.54 L618.96,336.03 L618.33,335.54 L617.7,335.04 L617.07,334.56 L616.43,334.08 L615.78,333.6 L615.13,333.14 L614.48,332.68 L613.83,332.22 L613.16,331.78 L612.5,331.34 L611.83,330.9 L611.15,330.48 L610.47,330.06 L609.79,329.65 L609.1,329.25 L608.4,328.86 L607.7,328.48 L606.99,328.12 L606.28,327.77 L605.55,327.43 L604.83,327.1 L604.1,326.78 L603.36,326.47 L602.62,326.18 L601.88,325.89 L601.14,325.61 L600.39,325.35 L599.63,325.09 L598.88,324.84 L598.12,324.6 L597.36,324.37 L596.6,324.15 L595.84,323.94 L595.08,323.73 L594.31,323.54 L593.55,323.34 L592.78,323.16 L592.01,322.98 L591.25,322.81 L590.48,322.65 L589.71,322.49 L588.95,322.33 L588.18,322.18 L587.41,322.04 L586.65,321.9 L585.88,321.76 L585.12,321.63 L584.35,321.5 L583.59,321.37 L582.83,321.24 L582.06,321.13 L581.3,321.02 L580.53,320.92 L579.77,320.83 L579,320.75 L578.23,320.68 L577.47,320.61 L576.7,320.56 L575.94,320.5 L575.17,320.46 L574.41,320.42 L573.64,320.39 L572.88,320.36 L572.12,320.34 L571.35,320.32 L570.59,320.3 L569.83,320.29 L569.07,320.28 L568.32,320.28 L567.56,320.28 L566.8,320.28 L566.05,320.28 L565.29,320.28 L564.54,320.28 L563.78,320.29 L563.03,320.29 L562.28,320.3 L561.53,320.3 L560.78,320.3 L560.02,320.3 L559.27,320.3 L558.52,320.3 L557.77,320.29 L557.02,320.29 L556.26,320.28 L555.51,320.28 L554.75,320.28 L554,320.28 L553.24,320.28 L552.48,320.28 L551.73,320.28 L550.97,320.29 L550.21,320.3 L549.45,320.32 L548.68,320.34 L547.92,320.36 L547.16,320.39 L546.39,320.42 L545.63,320.46 L544.86,320.5 L544.1,320.56 L543.33,320.61 L542.57,320.68 L541.8,320.75 L541.03,320.83 L540.27,320.92 L539.5,321.02 L538.74,321.13 L537.97,321.24 L537.21,321.37 L536.45,321.5 L535.68,321.63 L534.92,321.76 L534.15,321.9 L533.39,322.04 L532.62,322.18 L531.85,322.33 L531.09,322.49 L530.32,322.65 L529.55,322.81 L528.79,322.98 L528.02,323.16 L527.25,323.34 L526.49,323.54 L525.72,323.73 L524.96,323.94 L524.2,324.15 L523.44,324.37 L522.68,324.6 L521.92,324.84 L521.17,325.09 L520.41,325.35 L519.66,325.61 L518.92,325.89 L518.18,326.18 L517.44,326.47 L516.7,326.78 L515.97,327.1 L515.25,327.43 L514.52,327.77 L513.81,328.12 L513.1,328.48 L512.4,328.86 L511.7,329.25 L511.01,329.65 L510.33,330.06 L509.65,330.48 L508.97,330.9 L508.3,331.34 L507.64,331.78 L506.97,332.22 L506.32,332.68 L505.67,333.14 L505.02,333.6 L504.37,334.08 L503.73,334.56 L503.1,335.04 L502.47,335.54 L501.84,336.03 L501.22,336.54 L500.61,337.05 L500,337.56 L499.39,338.08 L498.79,338.61 L498.19,339.14 L497.59,339.68 L497.01,340.22 L496.42,340.76 L495.84,341.32 L495.27,341.87 L494.69,342.44 L494.13,343 L493.57,343.57 L493.01,344.15 L492.46,344.73 L491.91,345.31 L491.36,345.9 L490.82,346.49 L490.29,347.09 L489.76,347.7 L489.24,348.31 L488.72,348.92 L488.21,349.54 L487.7,350.16 L487.2,350.79 L486.7,351.42 L486.21,352.05 L485.73,352.69 L485.25,353.34 L484.77,353.98 L484.3,354.64 L483.84,355.29 L483.38,355.95 L482.92,356.62 L482.47,357.29 L482.03,357.96 L481.59,358.63 L481.16,359.31 L480.73,359.99 L480.31,360.68 L479.9,361.37 L479.49,362.07 L479.08,362.76 L478.68,363.46 L478.28,364.17 L477.9,364.87 L477.51,365.58 L477.13,366.3 L476.76,367.01 L476.39,367.73 L476.03,368.46 L475.67,369.18 L475.32,369.91 L474.98,370.64 L474.64,371.38 L474.31,372.12 L473.98,372.86 L473.66,373.6 L473.34,374.35 L473.03,375.1 L472.73,375.85 L472.44,376.61 L472.15,377.37 L471.86,378.13 L471.59,378.89 L471.32,379.66 L471.05,380.43 L470.79,381.2 L470.54,381.98 L470.3,382.75 L470.06,383.53 L469.83,384.32 L469.61,385.1 L469.39,385.89 L469.18,386.67 L468.97,387.46 L468.77,388.26 L468.58,389.05 L468.4,389.85 L468.22,390.65 L468.05,391.45 L467.88,392.25 L467.72,393.05 L467.57,393.86 L467.43,394.66 L467.29,395.47 L467.16,396.28 L467.03,397.09 L466.91,397.9 L466.8,398.72 L466.7,399.53 L466.6,400.35 L466.51,401.17 L466.42,401.99 L466.35,402.81 L466.28,403.63 L466.22,404.45 L466.16,405.27 L466.11,406.09 L466.07,406.92 L466.03,407.74 L465.99,408.57 L465.96,409.4 L465.93,410.22 L465.9,411.05 L465.89,411.88 L465.88,412.71 L465.87,413.54 L465.88,414.37 L465.9,415.2 L465.92,416.04 L465.96,416.87 L466.01,417.7 L466.08,418.53 L466.15,419.35 L466.25,420.18 L466.35,421.01 L466.48,421.83 L466.61,422.65 L466.76,423.47 L466.91,424.29 L467.08,425.1 L467.24,425.92 L467.42,426.73 L467.6,427.54 L467.79,428.35 L467.99,429.16 L468.19,429.97 L468.4,430.77 L468.62,431.58 L468.84,432.38 L469.07,433.18 L469.31,433.97 L469.56,434.77 L469.81,435.56 L470.07,436.35 L470.33,437.14 L470.61,437.92 L470.89,438.71 L471.17,439.49 L471.47,440.27 L471.77,441.04 L472.07,441.82 L472.39,442.59 L472.71,443.36 L473.03,444.12 L473.37,444.88 L473.71,445.64 L474.07,446.39 L474.43,447.14 L474.8,447.88 L475.18,448.62 L475.57,449.36 L475.97,450.09 L476.38,450.81 L476.79,451.53 L477.21,452.25 L477.64,452.96 L478.08,453.67 L478.53,454.37 L478.98,455.06 L479.44,455.75 L479.91,456.44 L480.38,457.12 L480.86,457.8 L481.35,458.47 L481.84,459.14 L482.34,459.8 L482.84,460.45 L483.35,461.1 L483.87,461.75 L484.39,462.39 L484.93,463.02 L485.47,463.64 L486.03,464.26 L486.59,464.86 L487.16,465.46 L487.74,466.04 L488.33,466.62 L488.93,467.19 L489.53,467.76 L490.14,468.31 L490.76,468.86 L491.38,469.4 L492.01,469.93 L492.65,470.45 L493.29,470.97 L493.93,471.48 L494.58,471.98 L495.23,472.47 L495.89,472.96 L496.55,473.44 L497.21,473.92 L497.88,474.39 L498.54,474.86 L499.22,475.32 L499.89,475.77 L500.57,476.21 L501.25,476.65 L501.94,477.07 L502.64,477.49 L503.34,477.9 L504.04,478.3 L504.75,478.69 L505.46,479.07 L506.18,479.44 L506.89,479.81 L507.61,480.17 L508.33,480.53 L509.06,480.87 L509.78,481.21 L510.5,481.55 L511.23,481.88 L511.96,482.21 L512.69,482.53 L513.41,482.84 L514.14,483.16 L514.87,483.47 L515.6,483.77 L516.32,484.08 L517.05,484.38 L517.77,484.68 L518.5,484.97 L519.23,485.26 L519.96,485.54 L520.69,485.82 L521.42,486.1 L522.15,486.36 L522.88,486.63 L523.62,486.88 L524.35,487.13 L525.09,487.38 L525.83,487.62 L526.57,487.86 L527.31,488.08 L528.05,488.31 L528.79,488.52 L529.53,488.74 L530.28,488.94 L531.02,489.14 L531.77,489.33 L532.51,489.52 L533.26,489.7 L534.01,489.87 L534.76,490.04 L535.51,490.2 L536.26,490.36 L537.01,490.5 L537.77,490.64 L538.52,490.78 L539.28,490.9 L540.03,491.03 L540.79,491.14 L541.54,491.25 L542.3,491.35 L543.05,491.44 L543.81,491.53 L544.57,491.61 L545.32,491.69 L546.08,491.76 L546.84,491.82 L547.59,491.88 L548.35,491.93 L549.1,491.98 L549.86,492.01 L550.62,492.05 L551.37,492.07 L552.13,492.09 L552.88,492.1 L553.64,492.11 L554.39,492.11 L555.14,492.11 L555.9,492.1 L556.65,492.08 L557.4,492.06 L558.15,492.03 L558.9,491.99 L559.65,491.95 L560.4,491.9 Z" stroke="#b25cb2" stroke-width="2.8"/>
</g>
<g font-family="'Liberation Serif', 'Times New Roman', serif" font-size="8" fill="#222" text-anchor="middle">
<text x="560.7" y="301.7">0</text>
<text x="505.6" y="316.4">30</text>
<text x="617" y="317.2">-30</text>
<text x="468.9" y="353.7">60</text>
<text x="654" y="353.8">-60</text>
<text x="454.6" y="408.6">90</text>
<text x="667.4" y="409.1">-90</text>
<text x="466.1" y="464.4">120</text>
<text x="656.2" y="463.8">-120</text>
<text x="503.4" y="502.3">150</text>
<text x="619" y="502.3">-150</text>
<text x="560.1" y="515.8">-180</text>
</g>
<g stroke="#3a3a3a" stroke-width="1">
<line x1="444.1" y1="309.7" x2="444.1" y2="502.9"/>
<line x1="440.5" y1="309.7" x2="444.1" y2="309.7"/>
<line x1="442.1" y1="325.8" x2="444.1" y2="325.8"/>
<line x1="440.5" y1="341.9" x2="444.1" y2="341.9"/>
<line x1="442.1" y1="358" x2="444.1" y2="358"/>
<line x1="440.5" y1="374.1" x2="444.1" y2="374.1"/>
<line x1="442.1" y1="390.2" x2="444.1" y2="390.2"/>
<line x1="440.5" y1="406.3" x2="444.1" y2="406.3"/>
<line x1="442.1" y1="422.4" x2="444.1" y2="422.4"/>
<line x1="440.5" y1="438.5" x2="444.1" y2="438.5"/>
<line x1="442.1" y1="454.6" x2="444.1" y2="454.6"/>
<line x1="440.5" y1="470.7" x2="444.1" y2="470.7"/>
<line x1="442.1" y1="486.8" x2="444.1" y2="486.8"/>
<line x1="440.5" y1="502.9" x2="444.1" y2="502.9"/>
</g>
<g font-family="'Liberation Serif', 'Times New Roman', serif" font-size="8.1" fill="#222" text-anchor="end">
<text x="437.9" y="312.2">0</text>
<text x="437.9" y="344.4">-10</text>
<text x="437.9" y="376.6">-20</text>
<text x="437.9" y="408.8">-30</text>
<text x="437.9" y="441">-20</text>
<text x="437.9" y="473.2">-10</text>
<text x="437.9" y="505.4">0</text>
</g>
<text transform="translate(421.2,412.3) rotate(-90)" text-anchor="middle" font-family="'Liberation Serif', 'Times New Roman', serif" font-size="10" fill="#111" textLength="129" lengthAdjust="spacingAndGlyphs">Normalized far-field pattern (dB)</text>
<line x1="534.2" y1="376.7" x2="560.4" y2="376.7" stroke="#e2474b" stroke-width="2.6"/>
<text x="561.6" y="380.7" font-family="'Liberation Serif', 'Times New Roman', serif" font-size="11.3" fill="#111"><tspan font-style="italic">n</tspan> = 1</text>
<line x1="534.2" y1="389.95" x2="560.4" y2="389.95" stroke="#c9d64c" stroke-width="2.6"/>
<text x="561.6" y="393.95" font-family="'Liberation Serif', 'Times New Roman', serif" font-size="11.3" fill="#111"><tspan font-style="italic">n</tspan> = 2</text>
<line x1="534.2" y1="403.2" x2="560.4" y2="403.2" stroke="#5cb887" stroke-width="2.6"/>
<text x="561.6" y="407.2" font-family="'Liberation Serif', 'Times New Roman', serif" font-size="11.3" fill="#111"><tspan font-style="italic">n</tspan> = 3</text>
<line x1="534.2" y1="416.45" x2="560.4" y2="416.45" stroke="#3b59ad" stroke-width="2.6"/>
<text x="561.6" y="420.45" font-family="'Liberation Serif', 'Times New Roman', serif" font-size="11.3" fill="#111"><tspan font-style="italic">n</tspan> = 4</text>
<line x1="534.2" y1="429.7" x2="560.4" y2="429.7" stroke="#b25cb2" stroke-width="2.6"/>
<text x="561.6" y="433.7" font-family="'Liberation Serif', 'Times New Roman', serif" font-size="11.3" fill="#111"><tspan font-style="italic">n</tspan> = 5</text>
<text class="nb" x="454.1" y="502.4" font-family="'Liberation Serif', 'Times New Roman', serif" font-size="20" fill="#111">(d)</text>
</svg>
</body></html>
